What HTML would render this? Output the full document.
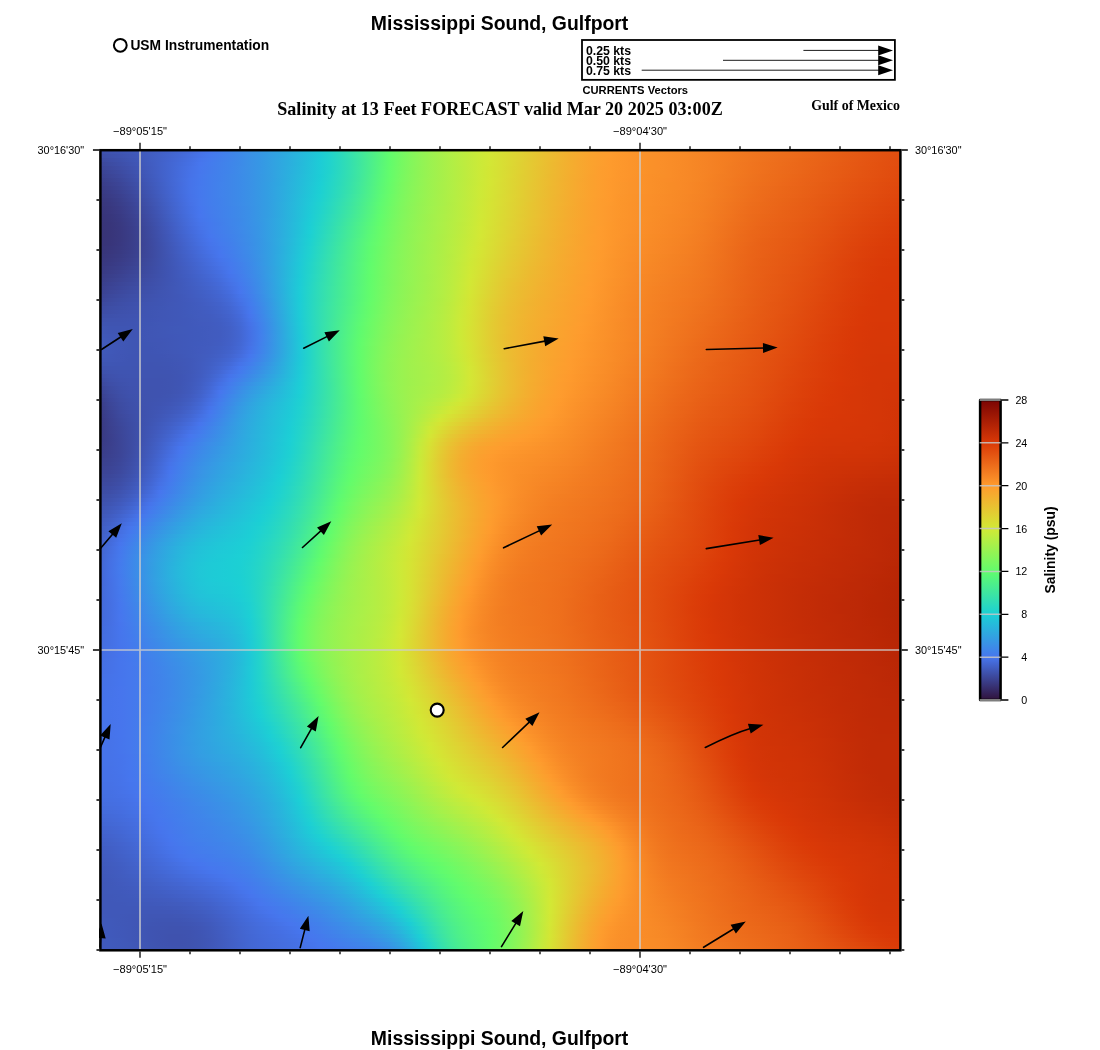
<!DOCTYPE html>
<html lang="en"><head><meta charset="utf-8"><title>Mississippi Sound, Gulfport</title>
<style>
html,body{margin:0;padding:0;background:#fff}
#pg{position:relative;width:1100px;height:1050px;overflow:hidden;background:#fff}
#map{position:absolute;left:100px;top:150px;width:800px;height:800px;overflow:hidden}
#map i{display:block;height:4px}
#ov{position:absolute;left:0;top:0}
</style></head><body><div id="pg">
<div id="map">
<i style="background:linear-gradient(90deg,#3e51ac,#3f53b0,#3f55b4,#4058b8,#405abc,#415dc1,#4260c7,#4364cd,#4468d5,#456cdd,#4672e7,#4677ed,#437dec,#4083ea,#3d8ae8,#3a91e6,#3697e5,#339fe3,#2fa6e0,#2baede,#27b7dc,#22c1d9,#1dcbd6,#21d3cc,#2bd9be,#35e0ae,#40e79e,#4bee8d,#57f57c,#62fc6c,#72f964,#81f75c,#8ff456,#9bf250,#a6f04a,#b0ef45,#b9ed41,#c2eb3c,#cbea38,#d3e735,#d6e134,#dada33,#dfd333,#e3cb32,#e7c431,#ebbc31,#efb530,#f3af2f,#f7a92f,#faa42e,#fc9f2e,#fe9c2e,#fd992c,#fc962b,#fb942a,#fa922a,#fa8f29,#f98d28,#f88b27,#f78826,#f68525,#f58224,#f47f22,#f37c21,#f27920,#f0761f,#ef741e,#ef711d,#ee6f1c,#ed6c1b,#ec6a1a,#eb6719,#ea6418,#e96117,#e75e15,#e65b14,#e55813,#e45512,#e35311,#e35010,#e24f0f)"></i>
<i style="background:linear-gradient(90deg,#3e4ea7,#3e51ab,#3f53b0,#4056b5,#4059bb,#415dc1,#4261c8,#4365cf,#4469d7,#456ee0,#4673e9,#4579ed,#437eec,#4084ea,#3d8ae8,#3a91e6,#3697e5,#339fe3,#2fa6e0,#2bafde,#27b8dc,#22c1d9,#1dcbd6,#21d3cd,#2ad9be,#35e0af,#40e79f,#4bee8d,#56f57c,#62fc6c,#72f964,#81f75c,#8ff456,#9bf250,#a6f04b,#b0ef46,#b9ed41,#c2eb3c,#cbea38,#d3e735,#d7e034,#dbd933,#dfd233,#e3cb32,#e7c331,#ecbc31,#f0b530,#f3ae2f,#f7a92f,#faa32e,#fc9f2e,#fe9c2e,#fd982c,#fc962b,#fb932a,#fa912a,#fa8f29,#f98d28,#f88b27,#f78826,#f68525,#f58224,#f47f22,#f37c21,#f17920,#f0761f,#ef731e,#ee711d,#ed6e1c,#ed6c1b,#ec691a,#eb6619,#e96318,#e86016,#e75d15,#e65a14,#e55813,#e45512,#e35211,#e25010,#e24e0f)"></i>
<i style="background:linear-gradient(90deg,#3d4ba1,#3e4ea7,#3e51ac,#3f55b3,#4058b9,#415dc1,#4261c8,#4365d1,#446ad9,#456fe2,#4675ec,#457aed,#427feb,#4084ea,#3d8ae8,#3a91e6,#3697e5,#339fe2,#2fa7e0,#2bafde,#27b8db,#22c1d9,#1dccd6,#21d3cd,#2ad9bf,#34dfb0,#3fe69f,#4bee8e,#56f57c,#62fc6c,#73f963,#82f75c,#8ff456,#9bf250,#a5f04b,#afef46,#b9ed41,#c2eb3d,#cbea38,#d3e735,#d7e034,#dbd933,#dfd233,#e3ca32,#e8c331,#ecbc30,#f0b530,#f3ae2f,#f7a82f,#faa32e,#fc9f2e,#fe9b2d,#fd982c,#fc952b,#fb932a,#fa9129,#fa8f29,#f98d28,#f88b27,#f78826,#f68525,#f58224,#f47f22,#f37c21,#f17920,#f0761f,#ef731e,#ee701d,#ed6d1c,#ec6b1b,#eb6819,#ea6518,#e96317,#e86016,#e75d15,#e65a14,#e55713,#e45412,#e35211,#e24f10,#e14d0f)"></i>
<i style="background:linear-gradient(90deg,#3d489c,#3d4ca2,#3e4fa9,#3f53b0,#4057b8,#415cc0,#4261c9,#4366d2,#446bdb,#4570e4,#4776ee,#447bed,#4280eb,#3f85ea,#3d8ae8,#3a91e6,#3697e5,#339fe2,#2fa7e0,#2bafde,#26b8db,#22c2d9,#1dccd6,#21d3cd,#2ad9bf,#34dfb0,#3fe69f,#4bee8e,#57f57c,#62fc6c,#73f963,#82f75c,#8ff456,#9bf250,#a5f04b,#afef46,#b9ed41,#c2eb3d,#cbea38,#d3e735,#d7e034,#dbd933,#dfd133,#e4ca32,#e8c331,#ecbb30,#f0b430,#f4ae2f,#f7a82f,#faa32e,#fc9f2e,#fe9b2d,#fd982c,#fc952b,#fb932a,#fa9129,#fa8f29,#f98d28,#f88b27,#f78826,#f68525,#f58224,#f47f22,#f27c21,#f17820,#f0751f,#ef721d,#ee6f1c,#ed6d1b,#ec6a1a,#eb6719,#ea6518,#e96217,#e85f16,#e75c15,#e65914,#e55613,#e45411,#e35110,#e24f10,#e14d0f)"></i>
<i style="background:linear-gradient(90deg,#3c4698,#3d499e,#3e4da5,#3f51ad,#4056b6,#415bbf,#4261c8,#4366d2,#446cdc,#4671e6,#4677ee,#447bec,#4280eb,#3f85ea,#3d8be8,#3a91e6,#3697e5,#339fe2,#2fa7e0,#2bb0de,#26b9db,#22c2d9,#1dccd6,#21d3cc,#2ad9bf,#34dfb0,#3fe79f,#4bee8d,#57f67c,#63fc6b,#74f963,#83f65c,#8ff455,#9bf250,#a5f04b,#afef46,#b8ed41,#c2eb3d,#cbea38,#d3e634,#d7e034,#dbd833,#dfd132,#e4ca32,#e8c231,#ecbb30,#f0b430,#f4ae2f,#f7a82f,#faa32e,#fc9e2e,#fe9b2d,#fd982c,#fc952b,#fb932a,#fa9129,#fa8f29,#f98d28,#f88b27,#f78826,#f68525,#f58224,#f47f22,#f27b21,#f17820,#f0751e,#ef721d,#ee6f1c,#ed6c1b,#ec691a,#eb6719,#ea6418,#e96117,#e85e16,#e75b14,#e65913,#e45612,#e45311,#e35110,#e24e0f,#e14c0e)"></i>
<i style="background:linear-gradient(90deg,#3b4393,#3c479a,#3d4ba1,#3e50aa,#3f55b3,#415bbd,#4260c8,#4366d2,#456cdd,#4672e7,#4677ed,#447cec,#4181eb,#3f85ea,#3d8be8,#3a91e6,#3698e5,#339fe2,#2fa8e0,#2ab0de,#26b9db,#21c3d8,#1dcdd6,#21d3cc,#2bd9be,#35e0af,#40e79f,#4bee8d,#57f67b,#64fc6b,#74f963,#83f65b,#90f455,#9bf250,#a5f04b,#afef46,#b8ed41,#c2eb3d,#ccea38,#d3e634,#d7df34,#dbd833,#e0d132,#e4c932,#e8c231,#ecbb30,#f0b430,#f4ae2f,#f7a82f,#faa32e,#fd9e2e,#fe9b2d,#fd972c,#fc952b,#fb932a,#fa9129,#f98f29,#f98d28,#f88a27,#f78826,#f68525,#f58224,#f47f22,#f27b21,#f1781f,#f0741e,#ef711d,#ed6e1c,#ec6b1b,#eb691a,#ea6619,#e96317,#e86016,#e75d15,#e65b14,#e55813,#e45512,#e35211,#e25010,#e14d0f,#e14b0e)"></i>
<i style="background:linear-gradient(90deg,#3b4190,#3c4596,#3d499e,#3e4ea7,#3f54b1,#405abc,#4260c7,#4366d2,#456cdd,#4672e8,#4678ed,#437dec,#4181eb,#3f86e9,#3c8be8,#3a91e6,#3698e4,#339fe2,#2fa8e0,#2ab1dd,#26badb,#21c4d8,#1ccdd5,#22d4cb,#2bdabd,#35e0ae,#40e79e,#4cef8c,#58f67a,#64fc6b,#75f962,#84f65b,#90f455,#9bf250,#a5f04b,#afef46,#b8ed41,#c2eb3d,#ccea38,#d3e634,#d7df34,#dcd833,#e0d032,#e4c932,#e8c231,#ecba30,#f0b430,#f4ad2f,#f7a82f,#faa22e,#fd9e2e,#fe9b2d,#fd972c,#fc952b,#fb922a,#fa9029,#f98f28,#f98d28,#f88a27,#f78826,#f68525,#f58223,#f37e22,#f27b21,#f1771f,#ef741e,#ee701d,#ed6d1b,#ec6b1a,#eb6819,#ea6518,#e96217,#e85f16,#e75d15,#e65a14,#e55713,#e45412,#e35211,#e24f10,#e14d0f,#e04a0e)"></i>
<i style="background:linear-gradient(90deg,#3a3f8c,#3b4392,#3c479a,#3d4da4,#3f52af,#4059ba,#425fc6,#4366d2,#456ddd,#4673e9,#4578ed,#437dec,#4181eb,#3f86e9,#3c8be8,#3a91e6,#3698e4,#339fe2,#2ea8e0,#2ab1dd,#25bbdb,#21c4d8,#1cced5,#23d4ca,#2cdabc,#36e0ad,#41e79d,#4def8b,#58f779,#65fc6a,#76f962,#84f65b,#91f455,#9cf24f,#a5f04b,#afef46,#b8ed41,#c2eb3c,#ccea38,#d4e634,#d8df34,#dcd733,#e0d032,#e4c932,#e9c131,#edba30,#f0b330,#f4ad2f,#f7a72f,#faa22e,#fd9e2e,#fe9a2d,#fd972c,#fc942b,#fb922a,#fa9029,#f98e28,#f98c28,#f88a27,#f78826,#f68525,#f58123,#f37e22,#f27a20,#f1761f,#ef731e,#ee701c,#ed6d1b,#ec6a1a,#eb6719,#ea6418,#e96117,#e85f16,#e75c15,#e65913,#e55612,#e45311,#e35110,#e24e0f,#e14c0e,#e04a0d)"></i>
<i style="background:linear-gradient(90deg,#3a3d89,#3b418f,#3c4597,#3d4ba1,#3e51ac,#4058b8,#415fc4,#4366d1,#456cdd,#4673e9,#4578ed,#437dec,#4182eb,#3f86e9,#3c8be8,#3a91e6,#3698e4,#32a0e2,#2ea8e0,#2ab2dd,#25bbdb,#21c5d8,#1ccfd5,#23d5c9,#2cdabb,#36e1ac,#42e89c,#4def8a,#59f778,#66fb6a,#77f861,#85f65a,#91f455,#9cf24f,#a6f04a,#afef46,#b9ed41,#c2eb3c,#ccea37,#d4e634,#d8de34,#dcd733,#e0d032,#e5c832,#e9c131,#edba30,#f1b330,#f4ad2f,#f8a72f,#faa22e,#fd9e2e,#fe9a2d,#fc972c,#fb942b,#fb922a,#fa9029,#f98e28,#f88c27,#f88a27,#f78726,#f68424,#f48123,#f37d22,#f27a20,#f0761f,#ef721d,#ee6f1c,#ed6c1b,#ec691a,#eb6619,#ea6318,#e86117,#e75e15,#e65b14,#e55813,#e45512,#e35211,#e25010,#e14d0f,#e04b0e,#e0490d)"></i>
<i style="background:linear-gradient(90deg,#3a3c85,#3a3f8c,#3b4494,#3d499e,#3e50aa,#4057b6,#415ec3,#4365d0,#446cdd,#4673e9,#4579ed,#437dec,#4182eb,#3f86e9,#3c8be8,#3a91e6,#3698e4,#32a0e2,#2ea9e0,#2ab2dd,#25bcda,#20c6d8,#1cd0d4,#24d5c8,#2ddbba,#37e1ab,#42e99a,#4ef089,#5af777,#67fb69,#78f861,#86f65a,#92f454,#9cf24f,#a6f04a,#afef46,#b9ed41,#c3eb3c,#cdea37,#d4e534,#d8de34,#dcd733,#e1cf32,#e5c832,#e9c131,#edb930,#f1b330,#f4ad2f,#f8a72f,#faa22e,#fd9e2e,#fe9a2d,#fc972c,#fb942b,#fb922a,#fa9029,#f98e28,#f88c27,#f88a27,#f78726,#f68424,#f48123,#f37d22,#f17920,#f0751e,#ef711d,#ed6e1c,#ec6b1b,#eb6819,#ea6518,#e96317,#e86016,#e75d15,#e65a14,#e55713,#e45412,#e35111,#e24f10,#e14c0f,#e04a0e,#df480d)"></i>
<i style="background:linear-gradient(90deg,#393a83,#3a3d89,#3b4291,#3c489b,#3e4ea7,#3f55b4,#415dc1,#4364cf,#446cdc,#4673e8,#4578ed,#437dec,#4182eb,#3f86e9,#3c8be8,#3a91e6,#3698e4,#32a0e2,#2ea9e0,#29b2dd,#25bcda,#20c6d7,#1cd0d3,#25d6c6,#2edcb8,#38e2a9,#43e999,#4ff187,#5bf876,#68fb69,#79f861,#86f65a,#92f454,#9df24f,#a6f04a,#b0ef46,#b9ed41,#c3eb3c,#cdea37,#d4e534,#d8de34,#dcd633,#e1cf32,#e5c732,#e9c031,#edb930,#f1b330,#f5ac2f,#f8a72f,#fba22e,#fd9e2e,#fe9a2d,#fc972c,#fb942b,#fb922a,#fa9029,#f98e28,#f88c27,#f78926,#f78725,#f58424,#f48023,#f37c21,#f17820,#f0741e,#ee711d,#ed6d1b,#ec6a1a,#eb6719,#ea6518,#e96217,#e85f16,#e75c15,#e65914,#e55612,#e45311,#e35010,#e24e0f,#e14b0e,#e0490d,#df470c)"></i>
<i style="background:linear-gradient(90deg,#393980,#3a3c86,#3b408e,#3c4698,#3e4da4,#3f54b2,#415cbf,#4364cd,#446bdb,#4672e8,#4578ed,#437dec,#4182eb,#3f86e9,#3c8be8,#3a91e6,#3698e4,#32a0e2,#2ea9e0,#29b3dd,#24bdda,#1fc7d7,#1dd1d2,#26d6c5,#2fdcb7,#3ae3a8,#45ea97,#50f186,#5cf975,#6afb68,#7af860,#87f659,#93f454,#9df24f,#a7f04a,#b0ef45,#b9ed41,#c3eb3c,#cdea37,#d4e534,#d8dd34,#ddd633,#e1cf32,#e5c732,#e9c031,#edb930,#f1b230,#f5ac2f,#f8a72f,#fba22e,#fd9e2e,#fe9a2d,#fc962c,#fb942a,#fa912a,#fa8f29,#f98d28,#f88b27,#f78926,#f68625,#f58324,#f48023,#f27c21,#f1781f,#ef741e,#ee701c,#ed6c1b,#ec691a,#eb6619,#ea6418,#e96117,#e85e16,#e65b14,#e55813,#e45512,#e35211,#e24f10,#e14d0f,#e04a0e,#df480d,#df460c)"></i>
<i style="background:linear-gradient(90deg,#39387e,#393a83,#3a3f8b,#3c4596,#3d4ba2,#3f53af,#415bbd,#4263cc,#446ada,#4672e7,#4678ed,#437dec,#4181eb,#3f86e9,#3c8be8,#3a91e6,#3698e4,#32a0e2,#2ea9e0,#29b3dd,#24beda,#1fc8d7,#1ed1d1,#27d7c3,#31ddb5,#3be4a6,#46eb95,#51f284,#5df973,#6bfb67,#7bf860,#88f659,#93f453,#9ef24e,#a7f04a,#b0ef45,#baed41,#c3eb3c,#cee937,#d4e434,#d9dd34,#ddd633,#e1ce32,#e5c732,#eabf31,#eeb830,#f1b230,#f5ac2f,#f8a62f,#fba22e,#fd9d2e,#fe9a2d,#fc962b,#fb942a,#fa9129,#fa8f29,#f98d28,#f88b27,#f78926,#f68625,#f58324,#f47f22,#f27b21,#f1771f,#ef731e,#ee6f1c,#ed6c1b,#eb681a,#ea6618,#e96317,#e86016,#e75d15,#e65a14,#e55713,#e45412,#e35110,#e24e0f,#e14c0e,#e0490d,#df470c,#de450c)"></i>
<i style="background:linear-gradient(90deg,#39377c,#393981,#3a3e89,#3b4393,#3d4aa0,#3f52ad,#405abb,#4262ca,#446ad8,#4671e6,#4678ed,#437dec,#4181eb,#3f86e9,#3d8be8,#3a91e6,#3698e4,#32a0e2,#2eaadf,#29b4dd,#24beda,#1fc9d7,#1fd2cf,#28d8c2,#32deb3,#3ce4a4,#47eb93,#52f382,#5efa72,#6cfa67,#7cf85f,#89f559,#94f353,#9ef24e,#a7f04a,#b0ee45,#baed40,#c4eb3c,#cee937,#d5e434,#d9dd34,#ddd533,#e1ce32,#e6c631,#eabf31,#eeb830,#f2b230,#f5ac2f,#f8a62e,#fba12e,#fd9d2e,#fd9a2d,#fc962b,#fb932a,#fa9129,#fa8f29,#f98d28,#f88b27,#f78826,#f68525,#f58224,#f37f22,#f27a21,#f0761f,#ef721d,#ed6e1c,#ec6b1a,#eb6819,#ea6518,#e96217,#e85f16,#e75c15,#e65914,#e55612,#e45311,#e25010,#e14d0f,#e04b0e,#df480d,#df460c,#de440b)"></i>
<i style="background:linear-gradient(90deg,#38367b,#39387f,#3a3c87,#3b4291,#3d499d,#3e50ab,#4059b9,#4261c8,#4469d7,#4570e4,#4677ee,#447cec,#4181eb,#3f85ea,#3d8ae8,#3a90e6,#3698e4,#32a0e2,#2eaadf,#29b4dd,#23bfda,#1ecad6,#20d2ce,#29d8c0,#33dfb1,#3de5a2,#48ec91,#54f381,#5ffa70,#6efa66,#7df75f,#8af558,#95f353,#9ff24e,#a8f049,#b1ee45,#baed40,#c4eb3b,#cfe936,#d5e434,#d9dc34,#ddd533,#e2cd32,#e6c631,#eabf31,#eeb830,#f2b130,#f5ab2f,#f8a62e,#fba12e,#fd9d2e,#fd992d,#fc962b,#fb932a,#fa9129,#f98f28,#f98c28,#f88a27,#f78826,#f68525,#f58223,#f37e22,#f27a20,#f0751f,#ef711d,#ed6d1b,#ec6a1a,#eb6719,#ea6418,#e96117,#e85e16,#e75c14,#e55813,#e45512,#e35211,#e24f10,#e14c0f,#e04a0d,#df470c,#de450c,#de430b)"></i>
<i style="background:linear-gradient(90deg,#38357a,#39377e,#3a3b85,#3b418f,#3c489b,#3e4fa9,#4057b7,#4260c6,#4468d5,#4570e3,#4676ee,#447cec,#4280eb,#3f85ea,#3d8ae8,#3a90e7,#3698e4,#32a0e2,#2daadf,#28b5dc,#23c0d9,#1ecbd6,#21d3cd,#2ad9be,#34e0af,#3fe6a0,#4aed8f,#55f47f,#60fb6f,#6ffa65,#7ef75e,#8af558,#95f353,#9ff24e,#a8f049,#b1ee45,#bbed40,#c5eb3b,#cfe936,#d5e334,#d9dc33,#ded433,#e2cd32,#e6c531,#eabe31,#eeb730,#f2b12f,#f5ab2f,#f8a62e,#fba12e,#fd9d2e,#fd992d,#fc962b,#fb932a,#fa9029,#f98e28,#f88c27,#f88a27,#f78726,#f68424,#f48123,#f37d22,#f17920,#f0751e,#ee701d,#ed6c1b,#ec691a,#ea6619,#e96317,#e86016,#e75e15,#e65b14,#e55813,#e45412,#e35110,#e24e0f,#e14b0e,#e0480d,#df460c,#de440b,#dd420b)"></i>
<i style="background:linear-gradient(90deg,#383479,#38367c,#393a83,#3b408d,#3c4699,#3e4ea7,#4056b5,#415fc4,#4367d3,#456fe1,#4776ee,#447bec,#4280eb,#3f85ea,#3d8ae8,#3a90e7,#3698e4,#32a0e2,#2daadf,#28b5dc,#23c0d9,#1dccd6,#22d4cb,#2cdabc,#36e0ad,#40e79e,#4bee8d,#56f57d,#61fc6d,#70fa65,#7ff75e,#8bf558,#96f352,#a0f14d,#a9f049,#b2ee45,#bbed40,#c5eb3b,#d0e936,#d5e334,#dadb33,#ded433,#e2cc32,#e6c531,#ebbe31,#eeb730,#f2b12f,#f5ab2f,#f8a62e,#fba12e,#fd9d2e,#fd992d,#fc962b,#fb932a,#fa9029,#f98e28,#f88c27,#f78926,#f78725,#f58424,#f48123,#f37d21,#f17820,#f0741e,#ee6f1c,#ec6b1b,#eb6819,#ea6518,#e96217,#e86016,#e75d15,#e65a14,#e55713,#e45311,#e25010,#e14d0f,#e04a0e,#df470d,#de450c,#dd430b,#dd410a)"></i>
<i style="background:linear-gradient(90deg,#383478,#38367b,#393982,#3a3f8b,#3c4597,#3e4da5,#3f55b3,#415ec2,#4366d1,#456edf,#4675ec,#447aed,#427feb,#4084ea,#3d89e8,#3a90e7,#3698e4,#32a1e2,#2dabdf,#28b5dc,#22c1d9,#1dcdd6,#23d4ca,#2ddbbb,#37e1ab,#42e89b,#4cef8b,#57f67b,#62fc6c,#72f964,#80f75d,#8cf557,#96f352,#a0f14d,#a9f049,#b2ee44,#bced40,#c6eb3b,#d0e935,#d6e234,#dadb33,#ded333,#e3cc32,#e7c431,#ebbd31,#efb630,#f2b02f,#f6aa2f,#f9a52e,#fba12e,#fd9d2e,#fd992d,#fc952b,#fb932a,#fa9029,#f98e28,#f88b27,#f78926,#f68625,#f58324,#f48023,#f37c21,#f1781f,#ef731e,#ee6f1c,#ec6b1a,#eb6719,#ea6418,#e96117,#e85f16,#e75c15,#e65913,#e45612,#e35311,#e24f10,#e14c0e,#e0490d,#df460c,#de440b,#dd420a,#dd400a)"></i>
<i style="background:linear-gradient(90deg,#383477,#38357a,#393980,#3a3e8a,#3c4596,#3d4ca3,#3f54b2,#415cc1,#4365cf,#456dde,#4674ea,#4579ed,#427eeb,#4084ea,#3d89e9,#3a90e7,#3697e5,#32a1e2,#2dabdf,#28b6dc,#22c2d9,#1cced5,#24d5c8,#2edbb9,#38e2a9,#43e999,#4ef089,#58f779,#63fc6b,#73f963,#81f75d,#8df557,#97f352,#a1f14d,#aaf049,#b3ee44,#bcec3f,#c6eb3a,#d1e935,#d6e234,#dada33,#dfd333,#e3cb32,#e7c431,#ebbd31,#efb630,#f3b02f,#f6aa2f,#f9a52e,#fba12e,#fd9d2e,#fd992c,#fc952b,#fb922a,#fa9029,#f98d28,#f88b27,#f78826,#f68625,#f58324,#f47f23,#f27b21,#f1771f,#ef721d,#ed6e1c,#ec6a1a,#eb6619,#e96318,#e86116,#e75e15,#e65b14,#e55813,#e45512,#e35211,#e24e0f,#e14b0e,#df480d,#de450c,#dd430b,#dd410a,#dc3f0a)"></i>
<i style="background:linear-gradient(90deg,#383477,#38357a,#393880,#3a3d89,#3b4494,#3d4ba1,#3f53b0,#415bbf,#4364cd,#446bdc,#4673e8,#4579ed,#437eec,#4083ea,#3e89e9,#3a8fe7,#3697e5,#32a1e2,#2dabdf,#28b6dc,#22c2d9,#1ccfd5,#25d6c7,#2fdcb7,#3ae3a7,#44ea97,#4ff187,#5af778,#65fc6a,#74f963,#82f75c,#8df556,#98f351,#a1f14d,#aaf048,#b3ee44,#bdec3f,#c7eb3a,#d2e935,#d6e134,#dbda33,#dfd233,#e3cb32,#e7c331,#ebbc31,#efb630,#f3af2f,#f6aa2f,#f9a52e,#fba02e,#fe9d2e,#fd992c,#fc952b,#fb922a,#fa8f29,#f98d28,#f88a27,#f78826,#f68525,#f58224,#f47f22,#f27b21,#f0761f,#ef711d,#ed6d1b,#ec691a,#ea6518,#e96217,#e86016,#e75d15,#e65a14,#e55713,#e45412,#e35110,#e14d0f,#e04a0e,#df470c,#de440b,#dd420a,#dc400a,#dc3f09)"></i>
<i style="background:linear-gradient(90deg,#383477,#383579,#39387f,#3a3d88,#3b4393,#3d4aa0,#3f52ae,#415abd,#4263cc,#446ada,#4671e6,#4678ed,#437dec,#4182ea,#3e88e9,#3b8fe7,#3797e5,#32a1e2,#2dabdf,#27b7dc,#21c3d8,#1cd0d5,#26d6c5,#30ddb5,#3be4a5,#46eb95,#50f185,#5bf876,#67fb69,#75f962,#82f65c,#8ef456,#98f351,#a1f14d,#aaf048,#b4ee44,#bdec3f,#c8ea3a,#d2e835,#d7e134,#dbd933,#dfd133,#e4ca32,#e8c331,#ecbc30,#f0b530,#f3af2f,#f6aa2f,#f9a52e,#fba02e,#fe9c2e,#fd982c,#fc952b,#fb922a,#fa8f29,#f98c28,#f88a27,#f78726,#f68525,#f58223,#f37e22,#f27a20,#f0751f,#ee711d,#ed6c1b,#eb6819,#ea6518,#e96217,#e85f16,#e75c15,#e65a14,#e55613,#e45311,#e25010,#e14c0f,#e0490d,#df460c,#de430b,#dd410a,#dc3f09,#dc3e09)"></i>
<i style="background:linear-gradient(90deg,#383477,#383579,#39387f,#3a3d87,#3b4392,#3d4a9f,#3f51ad,#4059bb,#4261ca,#4469d7,#4570e4,#4677ee,#447cec,#4181eb,#3e87e9,#3b8ee7,#3797e5,#32a1e2,#2dabdf,#27b7dc,#21c4d8,#1cd0d3,#27d7c4,#32deb4,#3ce5a4,#47eb94,#51f284,#5cf974,#68fb69,#76f962,#83f65b,#8ff456,#99f351,#a2f14c,#abef48,#b4ee43,#beec3e,#c8ea39,#d3e835,#d7e034,#dbd833,#e0d132,#e4c932,#e8c231,#ecbb30,#f0b530,#f3af2f,#f6a92f,#f9a42e,#fca02e,#fe9c2e,#fd982c,#fc952b,#fa912a,#f98f28,#f88c27,#f88926,#f78725,#f68424,#f48123,#f37d22,#f27920,#f0751e,#ee701d,#ec6b1b,#eb6719,#ea6418,#e96117,#e85e16,#e75c15,#e65913,#e45612,#e35211,#e24f10,#e14b0e,#df480d,#de450c,#dd420b,#dc400a,#dc3e09,#db3d09)"></i>
<i style="background:linear-gradient(90deg,#383478,#38357a,#39387f,#3a3d87,#3b4392,#3d499e,#3e51ac,#4059ba,#4260c8,#4468d5,#456fe2,#4775ed,#447bed,#4180eb,#3f87e9,#3b8ee7,#3796e5,#32a1e2,#2dacdf,#27b8dc,#21c5d8,#1dd1d2,#28d7c2,#33deb2,#3de5a2,#48ec92,#53f382,#5df973,#69fb68,#77f861,#84f65b,#8ff455,#99f351,#a2f14c,#abef48,#b5ee43,#bfec3e,#c9ea39,#d3e735,#d7df34,#dcd833,#e0d032,#e4c832,#e9c131,#ecba30,#f0b430,#f3ae2f,#f7a92f,#f9a42e,#fca02e,#fe9c2e,#fd982c,#fc942b,#fa9129,#f98e28,#f88b27,#f78926,#f68625,#f58424,#f48023,#f37d22,#f17920,#f0741e,#ee6f1c,#ec6b1a,#eb6719,#e96317,#e86016,#e75d15,#e65b14,#e55813,#e45512,#e35111,#e24e0f,#e04a0e,#df470d,#de440b,#dd410a,#dc3f09,#db3d09,#db3c08)"></i>
<i style="background:linear-gradient(90deg,#383478,#38357a,#393880,#3a3d88,#3b4292,#3d499e,#3e50ab,#4058b8,#425fc6,#4367d3,#456ee0,#4674eb,#457aed,#427feb,#3f86e9,#3b8de7,#3796e5,#32a0e2,#2dacdf,#27b8db,#20c5d8,#1ed1d1,#29d8c1,#34dfb1,#3ee6a0,#49ed90,#54f381,#5efa72,#6afb68,#78f861,#85f65b,#90f455,#9af250,#a3f14c,#acef47,#b5ee43,#bfec3e,#caea39,#d3e634,#d8df34,#dcd733,#e1cf32,#e5c832,#e9c131,#edba30,#f0b330,#f4ae2f,#f7a92f,#f9a42e,#fca02e,#fe9c2e,#fd982c,#fb942b,#fa9129,#f98e28,#f88b27,#f78826,#f68625,#f58324,#f48023,#f37c21,#f17820,#ef731e,#ee6f1c,#ec6a1a,#ea6619,#e96217,#e85f16,#e75d15,#e65a14,#e55713,#e45412,#e35110,#e14d0f,#e04a0d,#df460c,#de430b,#dd400a,#dc3e09,#db3d08,#db3c08)"></i>
<i style="background:linear-gradient(90deg,#383579,#38367c,#393981,#3a3d88,#3b4392,#3d499d,#3e50aa,#4057b7,#415ec4,#4366d1,#456cdd,#4673e9,#4578ed,#437eec,#3f85ea,#3c8de8,#3796e5,#32a0e2,#2cacdf,#26b9db,#20c6d8,#1fd2d0,#2ad9bf,#35e0af,#3fe79f,#4aed8f,#54f47f,#5efa70,#6bfa67,#79f860,#86f65a,#90f455,#9af250,#a3f14c,#acef47,#b6ee43,#c0ec3e,#cbea38,#d4e634,#d8de34,#ddd633,#e1ce32,#e5c732,#e9c031,#edb930,#f1b330,#f4ad2f,#f7a82f,#faa42e,#fc9f2e,#fe9c2e,#fd972c,#fb942a,#fa9029,#f98d28,#f88a27,#f78826,#f68525,#f58224,#f47f22,#f27c21,#f1771f,#ef731e,#ed6e1c,#ec691a,#ea6518,#e96217,#e85f16,#e75c15,#e65914,#e55713,#e45311,#e25010,#e14c0f,#e0490d,#de450c,#dd420b,#dc3f0a,#db3d09,#db3c08,#db3b08)"></i>
<i style="background:linear-gradient(90deg,#38357a,#39377d,#393a82,#3a3e8a,#3b4393,#3d499e,#3e50a9,#4057b6,#415ec3,#4364cf,#446bdb,#4671e6,#4677ee,#437dec,#4084ea,#3c8ce8,#3795e5,#32a0e2,#2cacdf,#26b9db,#20c7d7,#20d2cf,#2ad9be,#35e0ae,#40e79d,#4bee8e,#55f57e,#5ffb6f,#6cfa67,#7af860,#86f65a,#91f455,#9af250,#a3f14c,#acef47,#b6ee42,#c0ec3d,#ccea38,#d4e534,#d9dd34,#ddd533,#e2cd32,#e6c631,#eabf31,#eeb830,#f1b230,#f4ad2f,#f7a82f,#faa32e,#fc9f2e,#fe9b2d,#fd972c,#fb932a,#fa9029,#f98d28,#f88a27,#f78726,#f68525,#f58223,#f47f22,#f27b21,#f1771f,#ef721d,#ed6d1c,#ec691a,#ea6518,#e96117,#e85e16,#e75b14,#e65913,#e55612,#e35311,#e24f10,#e14c0e,#df480d,#de450c,#dd410a,#dc3f09,#db3d08,#db3b08,#db3b08)"></i>
<i style="background:linear-gradient(90deg,#38367c,#39387f,#393b84,#3a3f8b,#3b4494,#3d499e,#3e50a9,#4056b5,#415dc1,#4363cd,#446ad8,#4570e3,#4776ee,#447cec,#4083ea,#3c8be8,#3895e5,#32a0e2,#2caddf,#26badb,#1fc8d7,#20d3ce,#2bdabd,#36e1ad,#41e89c,#4cee8d,#56f57d,#60fb6f,#6dfa66,#7bf860,#87f65a,#91f455,#9bf250,#a4f14b,#adef47,#b6ed42,#c1ec3d,#cdea37,#d5e434,#d9dc34,#ded433,#e2cc32,#e6c531,#eabe31,#eeb830,#f1b230,#f5ac2f,#f7a72f,#faa32e,#fc9f2e,#fe9b2d,#fc972c,#fb932a,#fa8f29,#f98c28,#f78926,#f68725,#f58424,#f48123,#f37e22,#f27a21,#f0761f,#ef721d,#ed6d1b,#eb681a,#ea6418,#e96117,#e75e15,#e65b14,#e55813,#e45512,#e35211,#e24e0f,#e04b0e,#df470d,#de440b,#dd410a,#dc3e09,#db3c08,#db3b08,#da3a08)"></i>
<i style="background:linear-gradient(90deg,#39377d,#393981,#3a3c86,#3b408d,#3c4596,#3d4a9f,#3e50aa,#3f56b4,#415cc0,#4262cb,#4468d6,#456ee0,#4674eb,#447aed,#4182eb,#3d8ae8,#3894e5,#32a0e2,#2caddf,#26badb,#1fc9d7,#21d3cc,#2cdabc,#37e1ab,#42e89b,#4cef8c,#56f57c,#60fb6e,#6efa66,#7bf85f,#87f659,#92f454,#9bf250,#a4f14b,#adef47,#b7ed42,#c2ec3d,#cde937,#d5e334,#dadb33,#ded333,#e3cb32,#e7c431,#ebbd31,#eeb730,#f2b130,#f5ac2f,#f8a72f,#faa32e,#fc9f2e,#fe9b2d,#fc962b,#fb922a,#fa8f29,#f88c27,#f78926,#f68625,#f58324,#f48123,#f37d22,#f27a20,#f0761f,#ef711d,#ed6d1b,#eb6819,#ea6418,#e86016,#e75d15,#e65a14,#e55813,#e45512,#e35110,#e24e0f,#e04a0e,#df460c,#de430b,#dc400a,#db3d09,#db3b08,#da3a07,#da3a07)"></i>
<i style="background:linear-gradient(90deg,#39387f,#393a83,#3a3d89,#3b418f,#3c4697,#3d4ba0,#3e50aa,#3f56b4,#415bbf,#4261c9,#4367d3,#456dde,#4673e8,#4579ed,#4280eb,#3d89e9,#3894e6,#32a0e2,#2caddf,#25bbdb,#1ec9d7,#22d4cb,#2ddbbb,#38e2aa,#42e89a,#4def8b,#57f67c,#60fc6d,#6efa66,#7cf85f,#87f659,#92f454,#9bf250,#a4f14b,#adef47,#b7ed42,#c2eb3c,#cee936,#d5e334,#dada33,#dfd233,#e4ca32,#e8c331,#ebbc31,#efb630,#f2b12f,#f5ab2f,#f8a72f,#faa22e,#fd9e2e,#fe9a2d,#fc962b,#fb922a,#f98e28,#f88b27,#f78826,#f68525,#f58324,#f48023,#f37d22,#f27920,#f0751f,#ee711d,#ed6c1b,#eb6819,#ea6318,#e86016,#e75d15,#e65a14,#e55713,#e45412,#e35110,#e14d0f,#e0490d,#df460c,#dd420b,#dc3f09,#db3d08,#db3b08,#da3a07,#da3a07)"></i>
<i style="background:linear-gradient(90deg,#393981,#3a3c86,#3a3f8b,#3b4392,#3c4799,#3d4ba2,#3e50ab,#3f55b4,#415bbd,#4260c7,#4366d1,#446bdb,#4671e5,#4678ed,#427feb,#3e88e9,#3993e6,#339fe2,#2cadde,#25bbda,#1ecad6,#22d4ca,#2ddbba,#38e2aa,#43e99a,#4def8a,#57f67b,#61fc6d,#6ffa65,#7cf85f,#88f659,#92f454,#9cf24f,#a4f14b,#aeef47,#b8ed42,#c3eb3c,#cfe936,#d6e234,#dbd933,#e0d132,#e4c932,#e8c231,#ecbb30,#efb530,#f2b02f,#f5ab2f,#f8a62e,#faa22e,#fd9e2e,#fe9a2d,#fc962b,#fa922a,#f98e28,#f88a27,#f78726,#f68525,#f58224,#f47f22,#f37c21,#f17920,#f0751e,#ee701d,#ed6c1b,#eb6719,#e96317,#e85f16,#e75c15,#e65914,#e55613,#e45311,#e25010,#e14c0f,#e0490d,#de450c,#dd420a,#dc3f09,#db3c08,#da3a08,#da3907,#da3907)"></i>
<i style="background:linear-gradient(90deg,#393a83,#3a3d88,#3b408e,#3c4495,#3c489c,#3d4ca3,#3e51ab,#3f55b4,#405abd,#425fc5,#4364cf,#446ad8,#456fe2,#4676ee,#437eec,#3e87e9,#3992e6,#339fe2,#2cadde,#25bcda,#1ecbd6,#23d4c9,#2edbb9,#39e2a9,#43e999,#4df08a,#57f67b,#61fc6d,#6ffa65,#7cf85f,#88f559,#93f454,#9cf24f,#a5f14b,#aeef46,#b8ed41,#c4eb3c,#d0e935,#d6e134,#dcd833,#e0cf32,#e5c832,#e9c131,#ecba30,#f0b530,#f3af2f,#f6aa2f,#f8a62e,#fba22e,#fd9e2e,#fd992d,#fc952b,#fa9129,#f98d28,#f88a27,#f78725,#f68424,#f58123,#f47f22,#f27c21,#f17820,#f0741e,#ee701c,#ec6b1b,#eb6719,#e96317,#e85f16,#e75c15,#e65913,#e55612,#e35311,#e24f10,#e14c0e,#df480d,#de440b,#dd410a,#dc3e09,#db3c08,#da3a07,#da3907,#da3907)"></i>
<i style="background:linear-gradient(90deg,#3a3c86,#3a3f8b,#3b4291,#3c4698,#3d499e,#3e4da5,#3e51ac,#3f55b4,#405abc,#415ec4,#4263cc,#4468d5,#456edf,#4674ec,#447cec,#3f86ea,#3991e6,#339fe3,#2cadde,#25bcda,#1dcbd6,#24d5c9,#2fdcb8,#39e3a8,#44e998,#4ef089,#58f67a,#61fc6c,#6ffa65,#7df75f,#89f559,#93f454,#9cf24f,#a5f04b,#aeef46,#b9ed41,#c4eb3b,#d1e935,#d7e034,#dcd733,#e1ce32,#e6c732,#e9c031,#edb930,#f0b430,#f3af2f,#f6aa2f,#f9a52e,#fba12e,#fd9d2e,#fd992d,#fc952b,#fa9129,#f98d28,#f78926,#f68625,#f58324,#f48123,#f37e22,#f27b21,#f1781f,#f0741e,#ee6f1c,#ec6b1a,#eb6619,#e96217,#e85f16,#e75b14,#e55813,#e45512,#e35211,#e24f0f,#e14b0e,#df470d,#de440b,#dd410a,#dc3e09,#db3b08,#da3a07,#da3907,#da3907)"></i>
<i style="background:linear-gradient(90deg,#3a3d88,#3b418e,#3c4494,#3c479a,#3d4ba1,#3e4ea7,#3f52ad,#3f55b4,#4059bb,#415dc2,#4262ca,#4366d3,#446cdc,#4673e8,#447bed,#4084ea,#3a90e7,#339ee3,#2caddf,#25bdda,#1dccd6,#24d5c8,#2fdcb7,#3ae3a7,#44ea98,#4ef089,#58f67a,#61fc6c,#70fa65,#7df75e,#89f559,#93f454,#9cf24f,#a5f04b,#afef46,#b9ed41,#c5eb3b,#d2e835,#d7df34,#ddd633,#e2cd32,#e6c531,#eabf31,#eeb830,#f1b330,#f4ae2f,#f6a92f,#f9a52e,#fba12e,#fd9d2e,#fd992c,#fb942b,#fa9029,#f98c28,#f78926,#f68625,#f58324,#f48023,#f37d22,#f27a21,#f1771f,#ef731e,#ee6f1c,#ec6a1a,#ea6619,#e96217,#e85e16,#e65b14,#e55813,#e45512,#e35211,#e24e0f,#e04a0e,#df470c,#de430b,#dc400a,#db3d09,#db3b08,#da3907,#da3907,#da3907)"></i>
<i style="background:linear-gradient(90deg,#3a3f8b,#3b4292,#3c4698,#3d499d,#3d4ca3,#3e4fa9,#3f52ae,#3f56b4,#4059ba,#415dc1,#4261c8,#4365d0,#446ad9,#4671e5,#4579ed,#4083ea,#3a8fe7,#349de3,#2caddf,#24bdda,#1dccd6,#25d5c7,#30ddb6,#3ae3a7,#44ea97,#4ef088,#58f67a,#62fc6c,#70fa65,#7df75e,#89f558,#93f453,#9df24f,#a6f04b,#afef46,#b9ed41,#c6eb3b,#d2e835,#d8de34,#ddd533,#e2cc32,#e7c431,#ebbd31,#eeb830,#f1b230,#f4ad2f,#f7a92f,#f9a52e,#fba02e,#fe9d2e,#fd982c,#fb942a,#fa9029,#f88c27,#f78826,#f68525,#f58224,#f47f23,#f37d21,#f27a20,#f1761f,#ef731e,#ee6e1c,#ec6a1a,#ea6618,#e96217,#e85e15,#e65b14,#e55813,#e45412,#e35110,#e14e0f,#e04a0e,#df460c,#dd430b,#dc3f0a,#db3d08,#da3a08,#da3907,#da3807,#da3907)"></i>
<i style="background:linear-gradient(90deg,#3b408e,#3c4495,#3c479b,#3d4ba0,#3e4da6,#3e50ab,#3f53af,#4056b5,#4059ba,#415cc0,#4260c6,#4364cd,#4469d6,#456fe2,#4677ed,#4181eb,#3b8ee7,#349de3,#2cacdf,#24bdda,#1dcdd6,#25d6c6,#30ddb6,#3be4a6,#45ea97,#4ff088,#58f779,#62fc6c,#71fa65,#7ef75e,#8af558,#94f353,#9df24f,#a6f04a,#afef46,#baed41,#c6eb3a,#d3e735,#d8dd34,#ded433,#e3cb32,#e7c331,#ebbc31,#efb730,#f2b130,#f4ad2f,#f7a82f,#f9a42e,#fca02e,#fe9c2e,#fd982c,#fb932a,#fa8f29,#f88b27,#f78826,#f68424,#f58123,#f47f22,#f37c21,#f27920,#f0761f,#ef721d,#ed6e1c,#ec6a1a,#ea6518,#e96117,#e75e15,#e65a14,#e55713,#e45411,#e35010,#e14d0f,#e0490d,#df460c,#dd420b,#dc3f09,#db3c08,#da3a07,#da3907,#d93807,#da3907)"></i>
<i style="background:linear-gradient(90deg,#3b4292,#3c4698,#3d499e,#3d4ca3,#3e4fa8,#3e51ac,#3f54b1,#4056b5,#4059ba,#415bbf,#415fc4,#4262cb,#4367d3,#456ddf,#4776ee,#4280eb,#3c8de8,#349ce3,#2cacdf,#24bdda,#1dcdd6,#25d6c6,#31ddb5,#3be4a5,#45ea96,#4ff188,#59f779,#63fc6b,#71f964,#7ef75e,#8af558,#94f353,#9df24f,#a6f04a,#b0ef46,#baed40,#c7eb3a,#d3e734,#d9dd34,#ded333,#e4ca32,#e8c231,#ecbb30,#efb630,#f2b12f,#f5ac2f,#f7a82f,#f9a42e,#fca02e,#fe9c2e,#fd972c,#fb932a,#f98f28,#f88b27,#f78726,#f58424,#f48123,#f37e22,#f27b21,#f17820,#f0751f,#ef721d,#ed6d1b,#ec691a,#ea6518,#e96117,#e75d15,#e65a14,#e55713,#e45311,#e25010,#e14c0f,#e0490d,#de450c,#dd420a,#dc3e09,#db3c08,#da3a07,#da3807,#d93807,#da3907)"></i>
<i style="background:linear-gradient(90deg,#3c4495,#3c489c,#3d4ba1,#3e4ea6,#3e50aa,#3f52ae,#3f54b2,#4056b5,#4058b9,#415bbe,#415ec3,#4261c9,#4365d1,#446bdb,#4674ea,#437eec,#3c8be8,#359be4,#2dabdf,#25bdda,#1ccdd6,#26d6c5,#31ddb5,#3be4a5,#45ea96,#4ff187,#59f778,#63fc6b,#72f964,#7ff75d,#8bf558,#95f353,#9ef24e,#a7f04a,#b0ef45,#bbed40,#c8ea3a,#d4e634,#d9dc33,#dfd233,#e4c932,#e9c131,#ecbb30,#f0b530,#f2b02f,#f5ac2f,#f7a72f,#faa32e,#fc9f2e,#fe9c2e,#fc972c,#fb932a,#f98e28,#f88a27,#f68725,#f58324,#f48023,#f37d22,#f27b21,#f17820,#f0751e,#ee711d,#ed6d1b,#eb691a,#ea6518,#e86116,#e75d15,#e65914,#e55612,#e35311,#e24f10,#e14c0e,#df480d,#de440b,#dd410a,#dc3e09,#db3b08,#da3907,#d93807,#d93807,#da3907)"></i>
<i style="background:linear-gradient(90deg,#3c4699,#3d4a9f,#3d4da4,#3e4fa8,#3e51ac,#3f53af,#3f55b3,#4056b6,#4058b9,#415abd,#415dc1,#4260c7,#4364ce,#446ad8,#4672e7,#437cec,#3d8ae8,#3599e4,#2dabdf,#25bcda,#1ccdd6,#26d6c5,#31ddb4,#3ce4a4,#46eb95,#50f186,#59f778,#64fc6b,#72f964,#80f75d,#8bf557,#95f352,#9ef24e,#a7f04a,#b0ee45,#bbed40,#c8ea39,#d4e534,#dadb33,#e0d132,#e5c832,#e9c031,#edba30,#f0b430,#f3af2f,#f5ab2f,#f8a72f,#faa32e,#fc9f2e,#fe9b2d,#fc972c,#fb922a,#f98e28,#f88a27,#f68625,#f58324,#f48023,#f37d22,#f27a20,#f1771f,#f0741e,#ee701d,#ed6c1b,#eb6819,#ea6418,#e86016,#e75c15,#e65914,#e45612,#e35211,#e24f10,#e14b0e,#df480d,#de440b,#dd410a,#dc3d09,#db3b08,#da3907,#d93807,#d93807,#da3907)"></i>
<i style="background:linear-gradient(90deg,#3d499d,#3d4ca2,#3e4ea7,#3e50ab,#3f52ae,#3f54b1,#3f55b3,#4057b6,#4058b9,#405abc,#415cc0,#425fc5,#4262cb,#4468d5,#4570e4,#447bed,#3e88e9,#3698e4,#2eaadf,#25bcda,#1dcdd6,#26d6c5,#31deb4,#3ce5a4,#46eb94,#50f186,#5af877,#65fc6a,#73f963,#81f75d,#8cf557,#96f352,#9ff24e,#a8f049,#b1ee45,#bcec3f,#c9ea39,#d4e534,#dada33,#e0d032,#e5c732,#eabf31,#edb930,#f0b330,#f3af2f,#f6aa2f,#f8a62f,#faa22e,#fc9f2e,#fe9b2d,#fc962b,#fb922a,#f98d28,#f88926,#f68625,#f58224,#f47f22,#f37c21,#f27920,#f1761f,#ef731e,#ee701c,#ed6c1b,#eb6819,#ea6418,#e86016,#e75c15,#e55813,#e45512,#e35211,#e24e0f,#e04b0e,#df470c,#de430b,#dc400a,#db3d09,#da3b08,#da3907,#d93807,#d93807,#da3807)"></i>
<i style="background:linear-gradient(90deg,#3d4ba1,#3e4ea6,#3e50a9,#3f51ac,#3f53af,#3f54b2,#3f56b4,#4057b7,#4058b9,#405abc,#415cbf,#415ec3,#4261c9,#4366d2,#456ee0,#4579ed,#3f86e9,#3797e5,#2ea9e0,#25bbdb,#1dcdd6,#26d6c5,#32deb3,#3de5a3,#47eb94,#51f285,#5bf876,#66fb6a,#74f963,#82f75c,#8df557,#97f352,#a0f14d,#a8f049,#b2ee45,#bdec3f,#caea39,#d5e434,#dbda33,#e0cf32,#e6c631,#eabe31,#eeb830,#f1b330,#f4ae2f,#f6aa2f,#f8a62e,#faa22e,#fd9e2e,#fe9a2d,#fc962b,#fa912a,#f98d28,#f78926,#f68525,#f58223,#f47f22,#f27c21,#f17920,#f0761f,#ef721d,#ee6f1c,#ec6b1b,#eb6719,#e96317,#e85f16,#e75b14,#e55813,#e45512,#e35110,#e14e0f,#e04a0e,#df460c,#de430b,#dc3f0a,#db3d08,#da3a07,#da3807,#d93807,#d93807,#da3807)"></i>
<i style="background:linear-gradient(90deg,#3e4da6,#3e4fa9,#3e51ac,#3f52ae,#3f54b0,#3f55b3,#4056b5,#4057b7,#4058b9,#405abc,#415bbe,#415dc2,#4260c7,#4365cf,#456cdd,#4677ee,#3f85ea,#3795e5,#2fa7e0,#26badb,#1dccd6,#26d6c5,#32deb3,#3de5a2,#47ec93,#51f284,#5bf875,#67fb69,#75f962,#83f65c,#8ef456,#98f351,#a0f14d,#a9f049,#b2ee44,#bdec3f,#caea38,#d5e434,#dbd933,#e1cf32,#e6c631,#ebbe31,#eeb730,#f1b230,#f4ad2f,#f6a92f,#f9a52e,#fba12e,#fd9e2e,#fe9a2d,#fc952b,#fa9129,#f98d28,#f78926,#f68525,#f58223,#f37e22,#f27b21,#f17820,#f0751e,#ef721d,#ed6e1c,#ec6a1a,#eb6619,#e96217,#e85f16,#e65b14,#e55713,#e45412,#e35110,#e14d0f,#e0490d,#df460c,#dd420b,#dc3f09,#db3c08,#da3a07,#d93807,#d83807,#d83807,#d93807)"></i>
<i style="background:linear-gradient(90deg,#3e50aa,#3e51ac,#3f52ae,#3f53b0,#3f54b2,#3f55b3,#4056b5,#4057b7,#4058b9,#405abb,#415bbe,#415cc0,#425fc5,#4363cd,#446ada,#4775ed,#4083ea,#3894e6,#2fa6e0,#26b9db,#1dccd6,#26d6c5,#32deb3,#3de5a2,#48ec92,#52f383,#5cf974,#68fb69,#77f962,#84f65b,#8ff456,#99f351,#a1f14d,#aaf049,#b3ee44,#beec3f,#cbea38,#d5e334,#dbd933,#e1ce32,#e6c531,#ebbd31,#efb730,#f2b130,#f4ad2f,#f7a92f,#f9a52e,#fba12e,#fd9d2e,#fd992d,#fc952b,#fa9129,#f98d28,#f78926,#f68525,#f48123,#f37e22,#f27b21,#f1781f,#f0741e,#ee711d,#ed6d1b,#ec6a1a,#ea6618,#e96217,#e85e15,#e65a14,#e55713,#e45311,#e25010,#e14c0f,#e0490d,#de450c,#dd420a,#dc3f09,#db3c08,#da3907,#d93807,#d83807,#d83807,#d93807)"></i>
<i style="background:linear-gradient(90deg,#3f52ae,#3f53af,#3f53b0,#3f54b1,#3f55b2,#3f55b4,#4056b6,#4057b7,#4058b9,#4059bb,#415bbd,#415cbf,#415ec3,#4262cb,#4469d7,#4674ea,#4182eb,#3992e6,#30a5e1,#26b9db,#1dcbd6,#26d6c5,#32deb3,#3ee5a1,#49ec91,#53f382,#5df973,#6afb68,#78f861,#85f65b,#90f455,#9af250,#a2f14c,#aaf048,#b3ee44,#beec3e,#ccea38,#d5e334,#dbd833,#e1ce32,#e7c431,#ebbd31,#efb630,#f2b12f,#f5ac2f,#f7a82f,#f9a42e,#fba12e,#fd9d2e,#fd992d,#fc952b,#fa9029,#f98c28,#f78826,#f68424,#f48123,#f37d22,#f27a20,#f1771f,#ef741e,#ee701d,#ed6d1b,#eb691a,#ea6518,#e96117,#e75d15,#e65a14,#e55612,#e35311,#e24f10,#e14c0e,#e0480d,#de450c,#dd410a,#dc3e09,#db3b08,#da3907,#d93807,#d83807,#d83807,#d93807)"></i>
<i style="background:linear-gradient(90deg,#3f54b2,#3f54b1,#3f54b1,#3f54b2,#3f55b3,#3f56b4,#4057b6,#4057b8,#4058b9,#4059bb,#415abd,#415bbf,#415dc2,#4261c9,#4368d5,#4672e8,#4280eb,#3991e6,#30a4e1,#27b8dc,#1ecbd6,#26d6c6,#32deb3,#3ee6a1,#49ed90,#54f381,#5efa72,#6bfb67,#79f860,#86f65a,#91f455,#9af250,#a3f14c,#abef48,#b4ee43,#bfec3e,#ccea38,#d5e334,#dcd833,#e2cd32,#e7c431,#ebbc31,#efb630,#f2b02f,#f5ac2f,#f7a82f,#f9a42e,#fba02e,#fe9d2e,#fd992c,#fb942b,#fa9029,#f88c27,#f78826,#f68424,#f48023,#f37d22,#f27a20,#f0761f,#ef731e,#ee6f1c,#ed6c1b,#eb6819,#ea6418,#e86016,#e75d15,#e65914,#e45612,#e35211,#e24f10,#e14b0e,#df480d,#de440b,#dd410a,#dc3e09,#db3b08,#da3907,#d83807,#d83707,#d83707,#d93807)"></i>
<i style="background:linear-gradient(90deg,#4056b5,#3f55b3,#3f55b3,#3f55b3,#3f55b3,#4056b5,#4057b6,#4058b8,#4059b9,#4059bb,#405abd,#415bbe,#415dc1,#4260c7,#4367d3,#4671e6,#427feb,#3a90e7,#31a3e1,#27b7dc,#1ecad6,#25d6c6,#32deb2,#3ee6a0,#4aed90,#54f480,#5efa70,#6cfa67,#7af860,#87f659,#92f454,#9bf250,#a3f14c,#abef48,#b4ee43,#bfec3e,#ccea37,#d6e234,#dcd833,#e2cd32,#e7c431,#ecbc31,#efb530,#f2b02f,#f5ab2f,#f7a72f,#faa32e,#fca02e,#fe9c2e,#fd982c,#fb942a,#fa9029,#f88c27,#f78826,#f58424,#f48023,#f37d21,#f17920,#f0761f,#ef721d,#ee6f1c,#ec6b1a,#eb6719,#ea6318,#e86016,#e75c15,#e65913,#e45512,#e35211,#e24e0f,#e04b0e,#df470d,#de440b,#dd400a,#db3d09,#da3a08,#da3807,#d83807,#d73707,#d83707,#d93807)"></i>
<i style="background:linear-gradient(90deg,#4058b8,#4056b5,#3f55b4,#3f55b3,#3f55b4,#4056b5,#4057b6,#4058b8,#4059b9,#4059bb,#405abc,#415bbe,#415cc0,#4260c6,#4366d2,#4570e4,#427eec,#3a8fe7,#31a2e1,#28b6dc,#1ecad6,#25d6c6,#32deb2,#3fe6a0,#4aed8f,#55f47f,#5ffb6f,#6dfa66,#7cf85f,#88f559,#93f454,#9cf24f,#a4f14b,#acef47,#b5ee43,#bfec3e,#ccea37,#d6e234,#dcd833,#e2cd32,#e7c431,#ecbc30,#f0b530,#f3b02f,#f5ab2f,#f8a72f,#faa32e,#fc9f2e,#fe9c2e,#fd982c,#fb932a,#fa8f29,#f88b27,#f78726,#f58424,#f48023,#f37c21,#f17820,#f0751e,#ef711d,#ed6e1c,#ec6a1a,#eb6619,#e96317,#e85f16,#e75c14,#e55813,#e45512,#e35110,#e14e0f,#e04a0e,#df460c,#de430b,#dc400a,#db3d08,#da3a07,#d93807,#d83707,#d73707,#d73707,#d93807)"></i>
<i style="background:linear-gradient(90deg,#4059ba,#4057b7,#4056b5,#3f55b4,#3f55b4,#4056b5,#4057b6,#4057b8,#4058b9,#4059bb,#405abc,#415bbe,#415cc0,#4260c6,#4366d1,#4570e4,#437eec,#3b8fe7,#31a2e2,#28b6dc,#1ec9d7,#25d6c6,#32deb2,#3fe6a0,#4aee8e,#55f57e,#60fb6e,#6efa66,#7df75f,#89f558,#94f353,#9df24f,#a5f14b,#acef47,#b5ee43,#bfec3e,#ccea37,#d6e234,#dcd833,#e2cd32,#e7c331,#ecbb30,#f0b530,#f3af2f,#f5ab2f,#f8a62f,#faa32e,#fc9f2e,#fe9b2d,#fd972c,#fb932a,#fa8f29,#f88b27,#f78726,#f58324,#f47f23,#f27c21,#f17820,#f0741e,#ee711d,#ed6d1b,#ec691a,#ea6618,#e96217,#e85e16,#e65b14,#e55713,#e45412,#e35010,#e14d0f,#e0490d,#df460c,#dd420b,#dc3f09,#db3c08,#da3a07,#d93807,#d83707,#d73707,#d73707,#d83807)"></i>
<i style="background:linear-gradient(90deg,#405abc,#4058b8,#4056b5,#3f56b4,#3f55b4,#4056b5,#4056b6,#4057b7,#4058b9,#4059bb,#405abc,#415bbe,#415cc1,#4260c7,#4366d2,#4570e4,#437eec,#3b8fe7,#31a2e2,#28b5dc,#1ec9d7,#25d6c7,#32deb2,#3fe6a0,#4bee8e,#56f57d,#60fc6d,#70fa65,#7ef75e,#8af558,#95f353,#9ef24e,#a5f04b,#adef47,#b5ee43,#bfec3e,#ccea37,#d6e234,#dcd833,#e2cd32,#e7c331,#ecbb30,#f0b530,#f3af2f,#f6aa2f,#f8a62e,#faa22e,#fc9f2e,#fe9b2d,#fc972c,#fb932a,#f98f28,#f88b27,#f78725,#f58324,#f47f22,#f27b21,#f1771f,#ef741e,#ee701c,#ed6c1b,#eb681a,#ea6518,#e96117,#e75e15,#e65a14,#e55713,#e45311,#e25010,#e14c0f,#e0490d,#de450c,#dd420b,#dc3f09,#db3c08,#da3907,#d93807,#d73707,#d73707,#d73707,#d83807)"></i>
<i style="background:linear-gradient(90deg,#415bbd,#4058b9,#4057b6,#3f56b4,#3f55b4,#3f56b4,#4056b5,#4057b7,#4058b9,#4059bb,#405abd,#415bbe,#415dc1,#4260c8,#4367d3,#4671e5,#427feb,#3a8fe7,#31a2e2,#28b5dc,#1fc9d7,#25d5c7,#32deb3,#3fe69f,#4bee8d,#56f57c,#61fc6d,#71fa65,#7ff75e,#8bf557,#96f352,#9ef24e,#a6f04b,#adef47,#b5ee43,#bfec3e,#ccea38,#d5e334,#dcd833,#e2cd32,#e7c431,#ecbb30,#f0b530,#f3af2f,#f6aa2f,#f8a62e,#fba22e,#fd9e2e,#fe9a2d,#fc962b,#fb922a,#f98e28,#f88a27,#f68625,#f58224,#f47f22,#f27b21,#f1771f,#ef731e,#ee6f1c,#ec6b1b,#eb6819,#ea6418,#e86116,#e75d15,#e65a14,#e55612,#e35311,#e24f10,#e14c0e,#e0480d,#de450c,#dd410a,#dc3e09,#db3b08,#da3907,#d83807,#d73707,#d63707,#d73707,#d83707)"></i>
<i style="background:linear-gradient(90deg,#415bbd,#4058b9,#4057b6,#3f56b4,#3f55b4,#3f55b4,#4056b5,#4057b7,#4058b9,#4059bb,#415abd,#415cbf,#415ec3,#4261ca,#4468d5,#4672e8,#4280eb,#3a90e7,#31a2e2,#28b5dc,#1fc9d7,#25d5c7,#32deb3,#3fe69f,#4bee8d,#57f57c,#61fc6c,#71f964,#80f75d,#8cf557,#96f352,#9ff24e,#a6f04a,#adef47,#b5ee43,#bfec3e,#cbea38,#d5e334,#dbd833,#e1ce32,#e7c431,#ecbb30,#f0b530,#f3af2f,#f6aa2f,#f9a52e,#fba12e,#fd9e2e,#fe9a2d,#fc962b,#fb922a,#f98e28,#f88a27,#f68625,#f58224,#f37e22,#f27a20,#f0761f,#ef721d,#ed6e1c,#ec6a1a,#eb6719,#e96318,#e86016,#e75c15,#e65914,#e45612,#e35211,#e24f0f,#e14b0e,#df480d,#de440b,#dd410a,#dc3e09,#db3b08,#da3907,#d83807,#d73707,#d63707,#d63707,#d73707)"></i>
<i style="background:linear-gradient(90deg,#405abc,#4058b8,#4056b6,#3f56b4,#3f55b3,#3f55b4,#3f56b5,#4057b6,#4058b8,#4059ba,#415abd,#415cc0,#415fc5,#4263cc,#446ad9,#4674eb,#4181eb,#3991e6,#31a3e1,#28b6dc,#1fc9d7,#24d5c7,#32deb3,#3fe69f,#4bee8d,#57f67c,#62fc6c,#72f964,#80f75d,#8df557,#97f352,#9ff14e,#a6f04a,#adef47,#b4ee43,#beec3f,#caea38,#d5e434,#dbd933,#e1ce32,#e7c431,#ecbc31,#f0b530,#f3af2f,#f6a92f,#f9a52e,#fba12e,#fd9d2e,#fd992d,#fc952b,#fa912a,#f98d28,#f88926,#f68625,#f58223,#f37e22,#f27920,#f0751f,#ef711d,#ed6d1b,#ec6a1a,#ea6619,#e96317,#e85f16,#e75c15,#e55813,#e45512,#e35211,#e24e0f,#e04b0e,#df470d,#de440b,#dd400a,#dc3d09,#db3b08,#da3807,#d83707,#d73707,#d63707,#d63707,#d73707)"></i>
<i style="background:linear-gradient(90deg,#4059ba,#4057b7,#4056b5,#3f55b4,#3f55b3,#3f55b3,#3f55b4,#4056b5,#4057b7,#4059ba,#415bbd,#415dc1,#4260c7,#4365d0,#456cdd,#4677ee,#4084ea,#3893e6,#30a4e1,#27b7dc,#1ec9d7,#24d5c7,#32deb3,#3fe6a0,#4bee8d,#57f67c,#62fc6c,#72f964,#81f75d,#8df556,#97f351,#9ff14e,#a6f04a,#acef47,#b3ee44,#bdec3f,#c9ea39,#d4e434,#dbda33,#e1cf32,#e7c531,#ecbc31,#f0b530,#f3af2f,#f6a92f,#f9a52e,#fba12e,#fd9d2e,#fd992d,#fc952b,#fa9129,#f98d28,#f78926,#f68525,#f48123,#f37d22,#f17920,#f0751e,#ee711d,#ed6d1b,#ec691a,#ea6518,#e96217,#e85e16,#e65b14,#e55813,#e45412,#e35110,#e14d0f,#e04a0e,#df470c,#de430b,#dc400a,#db3d09,#da3a08,#d93807,#d83707,#d63707,#d63607,#d63607,#d73707)"></i>
<i style="background:linear-gradient(90deg,#4057b8,#4057b6,#4056b5,#3f55b3,#3f55b3,#3f55b3,#3f55b3,#3f56b4,#4057b6,#4058b9,#415bbd,#415ec3,#4262ca,#4367d4,#4570e3,#457aed,#3f86e9,#3795e5,#2fa6e0,#27b8dc,#1ec9d7,#24d5c7,#32deb3,#3fe6a0,#4bee8d,#57f67c,#62fc6c,#73f963,#81f75c,#8ef556,#98f351,#a0f14d,#a6f04a,#acef47,#b3ee44,#bcec3f,#c8ea39,#d4e534,#dada33,#e0cf32,#e6c531,#ebbc31,#f0b530,#f3ae2f,#f6a92f,#f9a42e,#fba02e,#fe9c2e,#fd982c,#fc942b,#fa9029,#f98d28,#f78926,#f68425,#f48023,#f37c21,#f17820,#f0741e,#ee701c,#ed6c1b,#eb6819,#ea6518,#e96117,#e75e15,#e65b14,#e55713,#e45412,#e25010,#e14d0f,#e0490d,#df460c,#dd430b,#dc400a,#db3d08,#da3a07,#d93807,#d73707,#d63707,#d63607,#d63607,#d63707)"></i>
<i style="background:linear-gradient(90deg,#3f56b4,#3f56b4,#3f55b4,#3f55b3,#3f55b2,#3f54b2,#3f55b2,#3f55b4,#4056b6,#4058b9,#415bbe,#415fc4,#4364cd,#446ad9,#4673e9,#437dec,#3d8ae8,#3698e4,#2ea8e0,#26b9db,#1ecad6,#24d5c7,#32deb3,#3fe6a0,#4bee8d,#57f67c,#62fc6c,#73f963,#82f75c,#8ef456,#98f351,#a0f14d,#a6f04b,#abef48,#b2ee44,#bbed40,#c7eb3a,#d3e634,#dadb33,#e0d032,#e6c631,#ebbd31,#f0b530,#f3ae2f,#f7a92f,#f9a42e,#fca02e,#fe9c2e,#fd982c,#fb942b,#fa9029,#f88c27,#f78826,#f58424,#f48023,#f27c21,#f1771f,#ef731e,#ee6f1c,#ec6b1b,#eb6719,#ea6418,#e86016,#e75d15,#e65a14,#e55713,#e45311,#e25010,#e14c0f,#e0490d,#de450c,#dd420b,#dc3f09,#db3c08,#da3a07,#d93807,#d73707,#d63707,#d53607,#d53607,#d63607)"></i>
<i style="background:linear-gradient(90deg,#3f53b0,#3f54b2,#3f55b2,#3f55b2,#3f54b2,#3f54b2,#3f54b2,#3f55b3,#4056b5,#4058b9,#415bbe,#4260c6,#4366d1,#456ddf,#4677ee,#4181eb,#3b8de7,#359be4,#2daadf,#26badb,#1ecbd6,#25d5c7,#31deb4,#3ee6a0,#4bee8e,#57f57c,#62fc6c,#73f963,#82f75c,#8ef456,#98f351,#a0f14d,#a5f04b,#abef48,#b1ee45,#baed40,#c6eb3a,#d3e735,#d9dc33,#e0d132,#e6c631,#ebbd31,#efb530,#f3ae2f,#f7a92f,#faa42e,#fc9f2e,#fe9c2e,#fd972c,#fb932a,#fa8f29,#f88c27,#f78726,#f58324,#f47f22,#f27b21,#f1771f,#ef721d,#ed6e1c,#ec6a1a,#eb6719,#e96317,#e86016,#e75d15,#e65914,#e55612,#e35311,#e24f10,#e14c0e,#df480d,#de450c,#dd420a,#dc3f09,#db3c08,#da3907,#d93807,#d73707,#d63607,#d53607,#d53607,#d63607)"></i>
<i style="background:linear-gradient(90deg,#3e51ac,#3f53af,#3f54b1,#3f54b2,#3f54b1,#3f54b1,#3f54b1,#3f54b2,#3f56b4,#4058b8,#415cbf,#4261c9,#4468d5,#4671e5,#447aed,#3f85ea,#3991e6,#339ee3,#2cacdf,#25bcda,#1dcbd6,#25d5c7,#31deb4,#3ee6a1,#4aee8e,#56f57c,#62fc6c,#73f963,#82f75c,#8ef456,#98f351,#a0f14d,#a5f04b,#abf048,#b1ee45,#baed41,#c6eb3b,#d3e735,#d9dc34,#dfd132,#e5c732,#ebbd31,#efb530,#f3ae2f,#f7a82f,#faa32e,#fc9f2e,#fe9b2d,#fc972c,#fb932a,#fa8f29,#f88b27,#f78725,#f58324,#f37e22,#f27a20,#f0761f,#ef711d,#ed6d1b,#ec691a,#ea6619,#e96217,#e85f16,#e75c15,#e65913,#e45612,#e35211,#e24f0f,#e14b0e,#df480d,#de440b,#dd410a,#dc3e09,#db3b08,#da3907,#d83807,#d73707,#d63607,#d53607,#d53607,#d53607)"></i>
<i style="background:linear-gradient(90deg,#3e4ea7,#3f51ac,#3f53b0,#3f54b1,#3f54b1,#3f54b1,#3f54b0,#3f54b1,#3f55b4,#4058b9,#415cc0,#4263cb,#446bda,#4674eb,#437eec,#3d89e8,#3895e5,#31a2e2,#2bafde,#24bdda,#1dccd6,#25d6c7,#31deb4,#3ee6a1,#4aee8f,#56f57d,#62fc6c,#72f964,#81f75c,#8ef456,#98f351,#a0f14d,#a5f04b,#aaf048,#b1ee45,#b9ed41,#c5eb3b,#d3e735,#d9dd34,#dfd133,#e5c732,#ebbd31,#efb530,#f4ae2f,#f7a82f,#faa32e,#fc9e2e,#fe9a2d,#fc962b,#fb922a,#f98e28,#f88a27,#f68625,#f58223,#f37e22,#f27920,#f0751e,#ee711d,#ed6d1b,#eb691a,#ea6518,#e96217,#e85e16,#e75b14,#e55813,#e45512,#e35211,#e24e0f,#e04b0e,#df470c,#de440b,#dd410a,#dc3e09,#db3b08,#da3907,#d83807,#d73707,#d63607,#d53607,#d53607,#d53607)"></i>
<i style="background:linear-gradient(90deg,#3d4ba2,#3e50aa,#3f52ae,#3f53b0,#3f53b0,#3f53b0,#3f53b0,#3f54b1,#3f55b4,#4058b9,#415dc2,#4364ce,#456ddf,#4678ed,#4182ea,#3b8de7,#3699e4,#30a5e1,#2ab2dd,#23bfda,#1dcdd6,#25d6c6,#31deb4,#3ee5a1,#4aed8f,#56f57d,#61fc6c,#72f964,#81f75c,#8ef456,#98f351,#9ff14d,#a5f04b,#abf048,#b1ee45,#b9ed41,#c5eb3b,#d3e735,#d9dd34,#dfd233,#e5c732,#ebbd31,#f0b530,#f4ae2f,#f7a82f,#faa22e,#fd9e2e,#fe9a2d,#fc962b,#fb922a,#f98e28,#f88a27,#f68525,#f48123,#f37d21,#f17820,#f0741e,#ee701c,#ed6c1b,#eb6819,#ea6418,#e96117,#e75e15,#e65b14,#e55813,#e45412,#e35110,#e14e0f,#e04a0e,#df460c,#de430b,#dc400a,#db3d09,#db3b08,#da3907,#d83807,#d73707,#d63607,#d53607,#d43607,#d43607)"></i>
<i style="background:linear-gradient(90deg,#3d499d,#3e4ea7,#3e51ac,#3f53af,#3f53b0,#3f53b0,#3f53b0,#3f54b1,#3f55b4,#4059ba,#415ec3,#4366d2,#4570e4,#447bec,#3f86e9,#3992e6,#349de3,#2ea8e0,#29b4dd,#23c1d9,#1cced5,#25d6c6,#31deb4,#3de5a2,#4aed8f,#56f57d,#61fc6c,#72f964,#81f75d,#8ef556,#98f351,#9ff14d,#a5f04b,#abef48,#b1ee45,#baed40,#c6eb3b,#d3e735,#d9dc34,#dfd133,#e5c732,#ebbd31,#f0b530,#f4ad2f,#f7a72f,#faa22e,#fd9d2e,#fd992d,#fc952b,#fa9129,#f98d28,#f78926,#f68525,#f48023,#f37c21,#f1771f,#ef731e,#ee6f1c,#ec6b1a,#eb6719,#ea6318,#e86016,#e75d15,#e65a14,#e55713,#e45412,#e35010,#e14d0f,#e0490d,#df460c,#dd420b,#dc3f0a,#db3d08,#da3a08,#da3807,#d83807,#d73707,#d53607,#d53607,#d43507,#d43507)"></i>
<i style="background:linear-gradient(90deg,#3c4698,#3d4ca3,#3e50aa,#3f52ae,#3f53af,#3f53af,#3f53b0,#3f54b1,#3f56b4,#4059bb,#425fc5,#4468d5,#4673e9,#437eec,#3d8ae8,#3796e5,#32a1e2,#2dacdf,#27b7dc,#22c2d9,#1ccfd5,#26d6c5,#31deb4,#3de5a2,#4aed90,#55f57e,#61fc6d,#71f964,#80f75d,#8df556,#98f351,#a0f14d,#a6f04a,#acef47,#b2ee44,#bbed40,#c7eb3a,#d3e634,#d9dc33,#e0d132,#e6c631,#ebbd31,#f0b430,#f4ad2f,#f8a72f,#fba12e,#fd9d2e,#fd992c,#fc942b,#fa9029,#f98c28,#f78826,#f68424,#f48023,#f27b21,#f1771f,#ef721d,#ed6e1c,#ec6a1a,#eb6619,#e96317,#e85f16,#e75c15,#e65914,#e55613,#e45311,#e25010,#e14c0f,#e0490d,#de450c,#dd420a,#dc3f09,#db3c08,#da3a07,#d93807,#d83707,#d63707,#d53607,#d53607,#d43507,#d43507)"></i>
<i style="background:linear-gradient(90deg,#3b4394,#3d4ba0,#3e4fa8,#3f51ad,#3f52af,#3f53af,#3f53b0,#3f54b1,#4056b5,#405abc,#4261c8,#446ad9,#4776ee,#4181eb,#3b8ee7,#359ae4,#30a4e1,#2bafde,#26b9db,#21c4d8,#1cd0d5,#26d6c5,#31deb4,#3de5a2,#49ed90,#55f57e,#60fc6d,#71fa64,#80f75d,#8df557,#97f351,#a0f14d,#a6f04a,#adef47,#b4ee43,#bdec3f,#c9ea39,#d4e534,#dada33,#e0d032,#e6c531,#ecbc31,#f0b430,#f5ac2f,#f8a62e,#fba12e,#fe9c2e,#fd982c,#fb942a,#fa9029,#f88c27,#f78826,#f58324,#f47f22,#f27a20,#f0761f,#ef711d,#ed6d1b,#ec691a,#ea6518,#e96217,#e85f16,#e75c15,#e65913,#e45612,#e35311,#e24f10,#e14c0e,#df480d,#de450c,#dd410a,#dc3e09,#db3c08,#da3a07,#d93807,#d83707,#d63707,#d53607,#d43607,#d43507,#d33507)"></i>
<i style="background:linear-gradient(90deg,#3b418f,#3d499d,#3e4ea6,#3e51ac,#3f52ae,#3f53af,#3f53b0,#3f55b2,#4057b7,#415bbf,#4262cb,#456cdd,#4578ed,#3f85ea,#3991e6,#349de3,#2ea8e0,#2ab2dd,#25bbdb,#20c5d8,#1cd0d3,#26d7c4,#32deb3,#3de5a2,#49ed90,#55f47e,#60fc6e,#70fa65,#7ff75d,#8cf557,#97f352,#a0f14d,#a7f04a,#afef46,#b6ed42,#c0ec3d,#ccea37,#d5e334,#dbd833,#e1ce32,#e7c431,#ecbb30,#f1b330,#f5ac2f,#f9a52e,#fca02e,#fe9c2e,#fd972c,#fb932a,#fa8f29,#f88b27,#f78725,#f58224,#f37e22,#f27920,#f0751e,#ee701d,#ed6c1b,#eb6819,#ea6418,#e96117,#e75e15,#e65b14,#e55813,#e45512,#e35211,#e24f0f,#e14b0e,#df470d,#de440b,#dd410a,#dc3e09,#db3b08,#da3907,#d93807,#d73707,#d63707,#d53607,#d43607,#d43507,#d33507)"></i>
<i style="background:linear-gradient(90deg,#3a3f8c,#3c479b,#3e4da4,#3e50aa,#3f52ae,#3f53af,#3f54b1,#3f55b4,#4058b9,#415dc1,#4364cf,#456fe2,#447bec,#3e88e9,#3894e5,#32a0e2,#2dabdf,#29b4dd,#24bdda,#20c7d7,#1dd1d2,#27d7c3,#32deb3,#3ee5a2,#49ed90,#55f47e,#60fb6e,#6ffa65,#7ef75e,#8bf557,#97f352,#a0f14d,#a9f049,#b1ee45,#baed41,#c4eb3c,#d0e936,#d7e034,#ddd633,#e2cc32,#e8c231,#edb930,#f2b130,#f6aa2f,#f9a42e,#fc9f2e,#fe9b2d,#fc962b,#fb922a,#f98e28,#f88a27,#f68625,#f58223,#f37d22,#f17820,#f0741e,#ee701c,#ec6b1b,#eb6719,#ea6418,#e86016,#e75d15,#e65a14,#e55713,#e45412,#e35110,#e24e0f,#e04a0e,#df470c,#de430b,#dc400a,#db3d09,#db3b08,#da3907,#d93807,#d73707,#d63707,#d53607,#d43607,#d33507,#d33507)"></i>
<i style="background:linear-gradient(90deg,#3a3d88,#3c4698,#3d4ca2,#3e4fa9,#3f52ad,#3f53b0,#3f54b2,#4056b6,#405abb,#425fc5,#4367d3,#4671e6,#437eec,#3d8ae8,#3697e5,#31a3e1,#2cadde,#28b6dc,#23bfd9,#1fc8d7,#1ed1d1,#28d7c3,#32deb2,#3ee6a1,#4aed90,#55f47e,#60fb6e,#6ffa65,#7df75e,#8bf558,#96f352,#a1f14d,#aaf048,#b4ee44,#bdec3f,#c9ea39,#d3e634,#d9dd34,#ded333,#e4c932,#e9c031,#eeb730,#f2b02f,#f6a92f,#faa32e,#fc9f2e,#fe9a2d,#fc952b,#fa9129,#f98d28,#f78926,#f68525,#f48123,#f37c21,#f1781f,#ef731e,#ee6f1c,#ec6a1a,#eb6619,#e96317,#e85f16,#e75c15,#e65914,#e55613,#e45411,#e35110,#e14d0f,#e0490d,#df460c,#dd420b,#dc3f09,#db3d08,#da3a08,#da3907,#d83807,#d73707,#d63707,#d53607,#d43607,#d33507,#d23407)"></i>
<i style="background:linear-gradient(90deg,#3a3c86,#3c4596,#3d4ba1,#3e4fa8,#3f51ad,#3f53b0,#3f55b4,#4058b8,#415bbf,#4261c9,#4469d7,#4674eb,#4280eb,#3b8de7,#359ae4,#30a5e1,#2bafde,#27b8db,#23c0d9,#1ec9d7,#1fd2d0,#28d8c2,#33dfb2,#3ee6a1,#4aed8f,#55f47e,#60fb6f,#6efa66,#7df75f,#8af558,#96f352,#a1f14d,#acef47,#b7ed42,#c2eb3c,#cee937,#d6e234,#dbd933,#e0cf32,#e6c631,#ebbd31,#efb530,#f4ae2f,#f7a82f,#faa22e,#fd9e2e,#fd992d,#fc942b,#fa9029,#f98c28,#f78826,#f68424,#f48023,#f27b21,#f1771f,#ef721d,#ed6e1c,#ec691a,#ea6518,#e96217,#e85e16,#e65b14,#e55813,#e45612,#e35311,#e25010,#e14c0f,#e0490d,#de450c,#dd420a,#dc3f09,#db3c08,#da3a07,#d93807,#d83807,#d73707,#d63707,#d53607,#d43607,#d33507,#d23406)"></i>
<i style="background:linear-gradient(90deg,#393b84,#3b4393,#3d4a9f,#3e4ea7,#3e51ac,#3f54b1,#4056b5,#4059bb,#415dc2,#4364cd,#446cdc,#4677ee,#4083ea,#3a8fe7,#349ce3,#2fa7e0,#2ab1dd,#26badb,#22c2d9,#1ecad6,#1fd2cf,#29d8c1,#33dfb1,#3fe6a0,#4aed8f,#55f57e,#5ffb6f,#6efa66,#7cf85f,#89f559,#96f352,#a2f14c,#aeef46,#bbed40,#c7eb3a,#d3e735,#d8de34,#ded433,#e3cb32,#e8c231,#edba30,#f1b330,#f5ac2f,#f8a62e,#fba12e,#fe9d2e,#fd982c,#fb932a,#fa8f29,#f88b27,#f78726,#f58324,#f47f22,#f27a21,#f0761f,#ef711d,#ed6d1b,#eb691a,#ea6518,#e96117,#e75d15,#e65a14,#e55713,#e45512,#e35211,#e24f10,#e14c0e,#df480d,#de440b,#dd410a,#dc3e09,#db3b08,#da3907,#d93807,#d83807,#d73707,#d63707,#d53607,#d43607,#d33507,#d23406)"></i>
<i style="background:linear-gradient(90deg,#393a83,#3b4292,#3d499d,#3e4da5,#3e51ac,#3f54b1,#4057b7,#415bbe,#4260c7,#4366d2,#456fe2,#457aed,#3f85ea,#3992e6,#339ee3,#2ea9e0,#29b2dd,#25bbdb,#22c3d8,#1dcbd6,#20d2ce,#29d8c0,#34dfb0,#3fe69f,#4bee8e,#55f57e,#5ffb6f,#6dfa66,#7bf860,#88f559,#95f352,#a3f14c,#b1ee45,#bfec3e,#cdea37,#d6e234,#dbd933,#e0d032,#e5c732,#eabe31,#efb730,#f2b02f,#f6aa2f,#f9a52e,#fca02e,#fe9c2e,#fc972c,#fb932a,#f98e28,#f88a27,#f68625,#f58224,#f37e22,#f27920,#f0751e,#ee701d,#ed6c1b,#eb6819,#ea6418,#e86016,#e75c15,#e65914,#e55713,#e45411,#e35110,#e24e0f,#e04b0e,#df470c,#de430b,#dc400a,#db3d09,#db3b08,#da3907,#d93807,#d83707,#d73707,#d63607,#d53607,#d43607,#d33507,#d23406)"></i>
<i style="background:linear-gradient(90deg,#393982,#3b4190,#3c489b,#3d4da4,#3e51ac,#3f55b2,#4058b9,#415dc1,#4262cb,#4469d7,#4672e7,#437cec,#3e88e9,#3894e6,#32a0e2,#2daadf,#29b3dd,#25bcda,#21c4d8,#1dccd6,#21d3cd,#2ad9bf,#35e0af,#40e79e,#4bee8d,#56f57d,#5ffb6f,#6cfa67,#7af860,#87f659,#95f353,#a4f14b,#b3ee44,#c3eb3c,#d2e835,#d8de34,#ded433,#e3cb32,#e8c231,#edba30,#f1b330,#f4ad2f,#f7a82f,#faa32e,#fd9e2e,#fe9a2d,#fc962b,#fa912a,#f98d28,#f88926,#f68525,#f48123,#f37d22,#f17920,#f0741e,#ee701c,#ec6b1b,#eb6719,#e96317,#e85f16,#e75b14,#e55813,#e45612,#e35311,#e25010,#e14d0f,#e04a0e,#df460c,#dd430b,#dc3f09,#db3c08,#da3a07,#d93807,#d83807,#d73707,#d73707,#d63607,#d53607,#d43607,#d33507,#d13406)"></i>
<i style="background:linear-gradient(90deg,#393981,#3b418f,#3c479a,#3d4ca3,#3e51ab,#3f55b3,#405abc,#425fc5,#4365d0,#456cdd,#4775ed,#427feb,#3d8ae8,#3796e5,#32a1e2,#2dabdf,#28b4dc,#25bcda,#21c4d8,#1dcdd6,#21d3cc,#2bd9be,#35e0ae,#41e79d,#4cee8c,#56f57d,#5ffb6f,#6cfa67,#79f860,#87f65a,#95f353,#a5f04b,#b6ee42,#c8ea3a,#d5e434,#dbd933,#e1cf32,#e6c531,#ebbd31,#efb630,#f3b02f,#f6aa2f,#f9a52e,#fba12e,#fd9d2e,#fd992c,#fc952b,#fa9029,#f98c28,#f78826,#f68424,#f48023,#f37c21,#f1781f,#ef731e,#ee6f1c,#ec6a1a,#ea6619,#e96217,#e75e15,#e65a14,#e55713,#e45512,#e35211,#e24f10,#e14c0e,#e0490d,#de450c,#dd420a,#dc3e09,#db3c08,#da3907,#d93807,#d83707,#d73707,#d63707,#d63607,#d53607,#d43507,#d33507,#d13406)"></i>
<i style="background:linear-gradient(90deg,#393981,#3b408e,#3c4698,#3d4ca2,#3e51ab,#3f56b5,#415bbe,#4261c9,#4368d5,#456fe3,#4578ed,#4182ea,#3c8de8,#3698e4,#31a2e1,#2cacdf,#28b5dc,#24bdda,#20c5d8,#1cced5,#22d4cb,#2cdabd,#36e1ad,#41e89c,#4cef8b,#57f57c,#60fb6e,#6cfa67,#79f861,#86f65a,#95f353,#a6f04a,#b9ed41,#ccea38,#d7e034,#ded433,#e4c932,#e9c031,#eeb830,#f1b230,#f5ac2f,#f8a72f,#faa32e,#fc9f2e,#fe9b2d,#fd972c,#fb932a,#fa8f29,#f88b27,#f78726,#f58324,#f47f22,#f27b21,#f1771f,#ef721d,#ed6e1c,#ec691a,#ea6518,#e96117,#e75d15,#e65914,#e55612,#e45311,#e35110,#e24e0f,#e14b0e,#df480d,#de440b,#dd410a,#dc3d09,#db3b08,#da3907,#d83807,#d73707,#d73707,#d63607,#d53607,#d53607,#d43507,#d33507,#d13406)"></i>
<i style="background:linear-gradient(90deg,#393981,#3b408d,#3c4697,#3d4ba2,#3e51ac,#4056b6,#415cc1,#4263cc,#446ada,#4673e8,#447bec,#3f85ea,#3a8fe7,#3599e4,#31a4e1,#2cadde,#28b5dc,#24bdda,#20c5d8,#1cced5,#23d4ca,#2cdabb,#37e1ab,#42e89b,#4def8a,#57f67b,#60fb6e,#6cfa67,#78f861,#85f65a,#95f353,#a7f04a,#bbed40,#d0e935,#d9dc33,#e1cf32,#e7c431,#ecbb30,#f0b430,#f4ae2f,#f7a82f,#f9a42e,#fba02e,#fd9d2e,#fd9a2d,#fc962b,#fb922a,#f98e28,#f88a27,#f68625,#f58224,#f37e22,#f27a20,#f0761f,#ef721d,#ed6d1b,#eb691a,#ea6418,#e86016,#e75c15,#e55813,#e45512,#e35211,#e25010,#e14d0f,#e04a0e,#df470c,#de430b,#dc400a,#db3d08,#da3a07,#d93807,#d83707,#d73707,#d63707,#d63607,#d53607,#d43607,#d43507,#d23407,#d13306)"></i>
<i style="background:linear-gradient(90deg,#393a82,#3b3f8c,#3c4597,#3d4ba1,#3e51ac,#4057b7,#415ec3,#4365d0,#456ddf,#4776ee,#437eec,#3e87e9,#3991e6,#359be4,#30a5e1,#2caede,#28b6dc,#24beda,#20c6d8,#1ccfd5,#23d5c9,#2ddbba,#38e2aa,#43e999,#4ef089,#58f67a,#60fc6e,#6cfa67,#78f861,#85f65a,#95f353,#a8f049,#beec3e,#d3e735,#dcd833,#e3ca32,#eabf31,#efb630,#f3af2f,#f6aa2f,#f9a52e,#fba12e,#fd9e2e,#fe9b2d,#fd982c,#fc942b,#fa9129,#f98d28,#f78926,#f68525,#f58123,#f37d22,#f27920,#f0751e,#ee711d,#ed6c1b,#eb6819,#ea6318,#e85f16,#e65b14,#e55713,#e45412,#e35111,#e24f0f,#e14c0e,#e0490d,#df460c,#dd420b,#dc3f09,#db3c08,#da3907,#d83807,#d73707,#d63707,#d63607,#d53607,#d53607,#d43507,#d33507,#d23406,#d03306)"></i>
<i style="background:linear-gradient(90deg,#393a83,#3a3f8c,#3c4596,#3d4ba1,#3e51ac,#4058b9,#425fc6,#4367d4,#4570e3,#4578ed,#4181eb,#3d8ae8,#3893e6,#349de3,#2fa6e1,#2baede,#27b6dc,#24beda,#20c7d7,#1cd0d5,#24d5c8,#2edbb9,#39e2a9,#44e998,#4ff088,#58f779,#61fc6d,#6cfa67,#78f861,#85f65a,#95f352,#aaf049,#c1ec3d,#d5e434,#ded433,#e6c631,#ecbb30,#f1b230,#f5ab2f,#f8a62e,#fba22e,#fc9f2e,#fe9c2e,#fd992c,#fc962b,#fb932a,#fa8f29,#f88c27,#f78826,#f68424,#f48023,#f37c21,#f17820,#f0741e,#ee701d,#ed6c1b,#eb6719,#e96317,#e85e16,#e65a14,#e55612,#e35311,#e25010,#e14e0f,#e04b0e,#df480d,#de450c,#dd410a,#dc3e09,#db3b08,#d93807,#d83707,#d63707,#d53607,#d53607,#d53607,#d43507,#d43507,#d33507,#d13406,#d03306)"></i>
<i style="background:linear-gradient(90deg,#3a3b85,#3b3f8c,#3c4596,#3d4ba1,#3f51ad,#4059ba,#4261c9,#446ad8,#4672e8,#447bec,#4084ea,#3c8de8,#3795e5,#339ee3,#2fa7e0,#2bafde,#27b7dc,#23bfda,#1fc7d7,#1cd0d4,#25d6c7,#2fdcb8,#3ae3a7,#45ea97,#50f187,#59f778,#61fc6c,#6cfa67,#78f861,#85f65a,#96f352,#abef48,#c3eb3c,#d6e234,#dfd133,#e8c331,#eeb730,#f4ae2f,#f7a72f,#faa32e,#fc9f2e,#fe9c2e,#fd992d,#fc972c,#fb942b,#fa912a,#f98e28,#f88b27,#f78726,#f58324,#f47f22,#f27b21,#f1771f,#ef731e,#ee6f1c,#ec6b1b,#eb6619,#e96217,#e75d15,#e65914,#e45512,#e35211,#e24f10,#e14c0f,#e04a0e,#df470c,#de440b,#dd400a,#db3d09,#da3a07,#d93807,#d73707,#d63607,#d53607,#d43607,#d43507,#d33507,#d33507,#d23406,#d13406,#cf3306)"></i>
<i style="background:linear-gradient(90deg,#3a3c86,#3b408d,#3c4596,#3d4ba1,#3f52ae,#405abc,#4262cb,#446cdc,#4675ed,#437eec,#3f86e9,#3a8fe7,#3698e5,#32a0e2,#2ea8e0,#2bb0de,#27b7dc,#23bfd9,#1fc8d7,#1dd0d3,#25d6c6,#30dcb7,#3be4a6,#46eb95,#50f185,#5af777,#62fc6c,#6dfa66,#78f861,#85f65a,#96f352,#acef47,#c5eb3b,#d7e034,#e1cf32,#eac031,#f0b430,#f5ab2f,#f9a42e,#fca02e,#fe9d2e,#fd9a2d,#fc972c,#fc952b,#fb922a,#fa9029,#f98d28,#f88a26,#f68625,#f58224,#f37e22,#f27a21,#f1771f,#ef731e,#ee6f1c,#ec6a1a,#ea6619,#e96117,#e75d15,#e55813,#e45412,#e35110,#e24e0f,#e14b0e,#e0480d,#df460c,#dd420b,#dc3f09,#db3c08,#da3907,#d83707,#d63607,#d53607,#d43507,#d33507,#d33507,#d33507,#d23406,#d13406,#d03306,#ce3206)"></i>
<i style="background:linear-gradient(90deg,#3a3d88,#3b408e,#3c4596,#3d4ba1,#3f53af,#415bbe,#4364ce,#456ddf,#4677ee,#4280eb,#3d89e9,#3991e6,#3599e4,#32a1e2,#2ea9e0,#2ab0de,#27b8db,#23c0d9,#1fc8d7,#1dd1d2,#26d6c5,#30ddb5,#3ce4a5,#47eb94,#51f284,#5bf876,#63fc6b,#6efa66,#79f860,#86f65a,#97f352,#adef47,#c7eb3a,#d8de34,#e2cd32,#ebbd31,#f2b130,#f7a82f,#faa22e,#fd9e2e,#fe9a2d,#fd972c,#fc952b,#fb932a,#fa9129,#f98e28,#f88c27,#f78826,#f68525,#f48123,#f37d22,#f27a20,#f0761f,#ef721d,#ed6e1c,#ec6a1a,#ea6518,#e86016,#e75c15,#e55713,#e45311,#e25010,#e14d0f,#e04a0e,#df470d,#de440b,#dd410a,#dc3e09,#db3b08,#d93807,#d73707,#d53607,#d43507,#d33507,#d33507,#d23406,#d23406,#d13406,#d03306,#cf3306,#cd3206)"></i>
<i style="background:linear-gradient(90deg,#3a3e8a,#3b418f,#3c4597,#3d4ca2,#3f53b0,#415cc0,#4365d1,#456fe2,#4579ed,#4182ea,#3c8be8,#3893e6,#359be3,#31a3e1,#2daadf,#2ab1dd,#26b9db,#23c1d9,#1ec9d7,#1ed1d1,#27d7c3,#31deb4,#3ce5a3,#48ec92,#52f383,#5cf975,#64fc6b,#6ffa65,#7af860,#87f65a,#98f351,#aeef46,#c8ea39,#d9dd34,#e3cb32,#ecbc30,#f3af2f,#f8a72f,#fba02e,#fe9c2e,#fd982c,#fc962b,#fb932a,#fa9129,#fa8f29,#f98d28,#f88a27,#f78726,#f58424,#f48023,#f37c21,#f17920,#f0751f,#ef711d,#ed6d1b,#ec691a,#ea6518,#e86016,#e65b14,#e55613,#e35211,#e24f0f,#e14c0e,#e0490d,#df460c,#de430b,#dc400a,#db3d09,#da3a07,#d83807,#d63707,#d43607,#d33507,#d23407,#d23406,#d13406,#d13306,#d03306,#cf3306,#ce3206,#cc3106)"></i>
<i style="background:linear-gradient(90deg,#3b408d,#3b4291,#3c4698,#3d4ca4,#3f54b2,#415dc2,#4367d3,#4671e6,#447bec,#4084ea,#3b8de7,#3795e5,#349de3,#30a4e1,#2dabdf,#29b2dd,#26badb,#22c1d9,#1ecad6,#1fd2d0,#28d7c2,#32deb3,#3de5a2,#49ec91,#53f381,#5cf973,#66fb6a,#70fa65,#7bf85f,#88f559,#99f250,#b0ef46,#c9ea39,#d9dc34,#e3ca32,#ecbb30,#f3ae2f,#f8a62e,#fc9f2e,#fe9b2d,#fd972c,#fb942b,#fb922a,#fa9029,#f98e28,#f88c27,#f78926,#f68625,#f58324,#f47f22,#f27c21,#f17820,#f0741e,#ee711d,#ed6d1b,#eb691a,#ea6418,#e85f16,#e65a14,#e45612,#e35111,#e14e0f,#e04a0e,#df470d,#de450c,#dd420a,#dc3f09,#db3c08,#da3907,#d73707,#d53607,#d33507,#d23407,#d13406,#d03306,#d03306,#cf3306,#cf3206,#ce3206,#cd3106,#cb3106)"></i>
<i style="background:linear-gradient(90deg,#3b418f,#3b4392,#3c479a,#3e4da5,#3f55b3,#415ec4,#4468d6,#4673e9,#437dec,#3f86e9,#3a8fe7,#3797e5,#339fe3,#2fa6e1,#2caddf,#29b4dd,#25bbdb,#22c2d9,#1ecbd6,#20d2ce,#29d8c1,#33dfb1,#3ee6a1,#49ed90,#54f480,#5dfa72,#67fb69,#72f964,#7df75f,#8af558,#9bf250,#b1ee45,#caea38,#dadb33,#e4ca32,#edba30,#f4ae2f,#f9a52e,#fc9f2e,#fe9a2d,#fc962b,#fb932a,#fa9129,#f98f28,#f98d28,#f88a27,#f78826,#f68525,#f58223,#f37e22,#f27b21,#f1771f,#f0741e,#ee701d,#ed6c1b,#eb6819,#e96318,#e85e16,#e65a14,#e45512,#e35010,#e14d0f,#e0490d,#df460c,#de430b,#dd400a,#dc3d09,#da3b08,#d93807,#d63707,#d43607,#d33507,#d13406,#d03306,#cf3306,#cf3206,#ce3206,#cd3206,#cc3106,#cb3106,#ca3006)"></i>
<i style="background:linear-gradient(90deg,#3b4292,#3c4495,#3c489c,#3e4ea7,#4056b5,#4260c6,#446ad8,#4674ec,#427eec,#3e88e9,#3a91e6,#3699e4,#32a0e2,#2fa7e0,#2caede,#28b5dc,#25bcda,#21c4d8,#1dccd6,#21d3cd,#2ad9c0,#34dfb0,#3fe69f,#4aee8e,#55f47e,#5efa70,#69fb68,#74f963,#7ef75e,#8bf557,#9cf24f,#b2ee44,#cbea38,#dadb33,#e4ca32,#edba30,#f3ae2f,#f9a52e,#fc9f2e,#fe9a2d,#fc962b,#fb922a,#fa9029,#f98e28,#f88b27,#f78926,#f68625,#f58424,#f48023,#f37d22,#f27a20,#f1771f,#ef731e,#ee701c,#ed6c1b,#eb6819,#e96317,#e75e15,#e65913,#e45412,#e24f10,#e14c0e,#df480d,#de450c,#dd420a,#dc3f09,#db3c08,#da3907,#d83807,#d63607,#d43507,#d23406,#d03306,#cf3306,#ce3206,#cd3206,#cd3106,#cc3106,#cb3006,#ca3006,#c92f06)"></i>
<i style="background:linear-gradient(90deg,#3c4495,#3c4597,#3d499e,#3e50a9,#4058b8,#4261c9,#446bdb,#4676ee,#4280eb,#3d8ae8,#3993e6,#359be4,#31a2e2,#2ea9e0,#2bafde,#28b6dc,#24bdda,#21c5d8,#1ccdd5,#21d3cc,#2ad9be,#35e0af,#40e79e,#4bee8d,#56f57d,#60fb6f,#6bfb67,#76f962,#80f75d,#8df556,#9ef24e,#b3ee44,#ccea38,#dadb33,#e4ca32,#ecbb30,#f3af2f,#f8a62e,#fc9f2e,#fe9a2d,#fc962b,#fb922a,#fa8f29,#f98d28,#f88a27,#f78826,#f68525,#f58224,#f47f23,#f37c21,#f17920,#f0761f,#ef731e,#ee6f1c,#ec6b1b,#eb6719,#e96217,#e75d15,#e55813,#e45311,#e24f0f,#e04b0e,#df470c,#de440b,#dd410a,#dc3e09,#db3b08,#d93807,#d73707,#d53607,#d33507,#d13406,#cf3306,#ce3206,#cd3206,#cc3106,#cb3106,#ca3006,#c93006,#c92f06,#c82f06)"></i>
<i style="background:linear-gradient(90deg,#3c4697,#3c479a,#3d4ba1,#3e51ac,#4059bb,#4263cc,#456dde,#4678ed,#4182eb,#3c8be8,#3894e5,#349ce3,#30a4e1,#2daadf,#2ab1dd,#27b8dc,#24beda,#20c6d8,#1ccfd5,#22d4ca,#2bdabd,#36e0ad,#41e89c,#4cef8b,#57f67b,#61fc6d,#6dfa66,#78f861,#83f65c,#8ff455,#a0f14d,#b5ee43,#cdea37,#dadb33,#e3ca32,#ecbb30,#f3b02f,#f8a72f,#fca02e,#fe9b2d,#fc962b,#fb922a,#f98e28,#f88c27,#f78926,#f68725,#f68424,#f58123,#f37e22,#f27b21,#f17820,#f0751f,#ef721d,#ee6e1c,#ec6b1a,#eb6619,#e96217,#e75d15,#e55813,#e35211,#e24e0f,#e04a0d,#df460c,#dd420b,#dc3f09,#db3c08,#da3a07,#d83807,#d63607,#d43507,#d23406,#d03306,#cf3206,#cd3206,#cc3106,#cb3006,#ca3006,#c92f06,#c82f06,#c72e06,#c62e06)"></i>
<i style="background:linear-gradient(90deg,#3c479b,#3d499d,#3d4da4,#3f53af,#415bbe,#4364cf,#456fe2,#4579ed,#4083ea,#3b8de7,#3796e5,#339ee3,#30a5e1,#2cacdf,#29b2dd,#26b9db,#23c0d9,#1fc7d7,#1cd0d4,#23d5c9,#2cdabb,#37e1ac,#42e89b,#4ef08a,#58f779,#62fc6c,#6ffa65,#7af860,#85f65a,#92f454,#a2f14c,#b6ee42,#cdea37,#dadb33,#e3cb32,#ebbd31,#f2b12f,#f7a82f,#fba12e,#fe9b2d,#fc962b,#fb922a,#f98e28,#f88b27,#f78826,#f68625,#f58324,#f48023,#f37d22,#f27a21,#f1781f,#f0751e,#ef711d,#ed6e1c,#ec6a1a,#ea6619,#e96117,#e75c15,#e55713,#e35211,#e14d0f,#e0490d,#de450c,#dd410a,#dc3e09,#db3b08,#da3907,#d73707,#d53607,#d33507,#d13406,#cf3306,#ce3206,#cc3106,#cb3006,#c93006,#c82f06,#c72e06,#c62e06,#c62d06,#c52d06)"></i>
<i style="background:linear-gradient(90deg,#3d499e,#3d4aa0,#3e4ea7,#3f55b3,#415dc1,#4366d2,#4671e5,#447bec,#3f85ea,#3a8fe7,#3698e4,#32a0e2,#2fa7e0,#2caede,#29b4dd,#26badb,#22c1d9,#1fc9d7,#1dd0d3,#24d5c7,#2ddbba,#38e2aa,#43e999,#4ff088,#5af778,#64fc6b,#71f964,#7df75f,#88f659,#94f353,#a4f14b,#b7ed42,#cee937,#dadb33,#e3cc32,#ebbe31,#f1b230,#f6a92f,#fba22e,#fe9c2e,#fc962c,#fb922a,#f98e28,#f88a27,#f78726,#f68424,#f58223,#f47f22,#f37c21,#f27a20,#f1771f,#f0741e,#ee711d,#ed6d1b,#ec6a1a,#ea6518,#e86116,#e75b14,#e55612,#e35110,#e14c0f,#df480d,#de440b,#dd400a,#db3d09,#da3a07,#d93807,#d63707,#d43507,#d23407,#d03306,#cf3206,#cd3106,#cb3106,#ca3006,#c82f06,#c72e06,#c62e06,#c52d06,#c42d06,#c42c06)"></i>
<i style="background:linear-gradient(90deg,#3d4ba1,#3d4ca4,#3e50ab,#4057b6,#425fc5,#4469d6,#4673e9,#437dec,#3e87e9,#3a91e6,#359ae4,#31a2e2,#2ea9e0,#2bafde,#28b6dc,#25bcda,#22c3d8,#1ecad6,#1ed1d1,#26d6c6,#2fdcb8,#39e2a8,#44ea97,#50f186,#5bf876,#67fb69,#74f963,#7ff75d,#8af558,#97f352,#a6f04a,#b9ed41,#cee936,#d9dc33,#e2cd32,#eabf31,#f0b430,#f6aa2f,#faa32e,#fd9d2e,#fc972c,#fb922a,#f98d28,#f88a26,#f68625,#f58324,#f48123,#f37e22,#f27b21,#f17920,#f0761f,#ef731e,#ee701d,#ed6d1b,#ec691a,#ea6518,#e86016,#e65b14,#e45612,#e35110,#e14c0e,#df470c,#de430b,#dc3f09,#db3c08,#da3907,#d83707,#d53607,#d33507,#d13406,#d03306,#ce3206,#cc3106,#ca3006,#c92f06,#c72e06,#c62e06,#c52d06,#c42c06,#c32c06,#c32c06)"></i>
<i style="background:linear-gradient(90deg,#3d4da4,#3e4ea7,#3f53af,#4059bb,#4261c9,#446bdb,#4776ee,#427feb,#3d89e8,#3993e6,#349ce3,#30a4e1,#2dabdf,#2ab1dd,#27b7dc,#24beda,#21c4d8,#1dccd6,#1fd2cf,#27d7c4,#30ddb6,#3ae3a7,#45ea96,#51f284,#5cf974,#69fb68,#76f962,#82f75c,#8df556,#9af250,#a8f049,#bbed40,#cfe936,#d9dc33,#e2cd32,#e9c031,#f0b530,#f5ac2f,#f9a42e,#fd9d2e,#fd972c,#fb922a,#f98d28,#f78926,#f68525,#f58224,#f48023,#f37d22,#f27a21,#f17820,#f0751f,#ef731d,#ee6f1c,#ed6c1b,#eb6819,#ea6418,#e85f16,#e65a14,#e45512,#e25010,#e04b0e,#df460c,#dd420b,#dc3e09,#db3b08,#d93807,#d73707,#d43607,#d33507,#d13406,#cf3306,#cd3206,#cb3106,#c93006,#c82f06,#c62e06,#c52d06,#c32c06,#c22c06,#c22b06,#c12b06)"></i>
<i style="background:linear-gradient(90deg,#3e4fa8,#3e51ab,#3f55b3,#415cbf,#4364ce,#456ee0,#4678ed,#4182eb,#3c8ce8,#3795e5,#339ee3,#30a6e1,#2caddf,#29b3dd,#26b9db,#23bfd9,#20c6d8,#1ccdd6,#20d3ce,#28d7c2,#31ddb5,#3be4a5,#47eb94,#52f382,#5efa72,#6bfa67,#79f860,#85f65b,#90f455,#9cf24f,#abef48,#bcec3f,#d0e936,#d9dc34,#e1ce32,#e9c131,#efb630,#f4ad2f,#f9a52e,#fd9e2e,#fd982c,#fb922a,#f98c28,#f78826,#f68424,#f58123,#f37e22,#f37c21,#f27a20,#f1771f,#f0751e,#ef721d,#ee6f1c,#ec6b1b,#eb6819,#e96318,#e85f16,#e65a14,#e45512,#e24f10,#e04a0e,#df460c,#dd410a,#dc3d09,#da3a07,#d83807,#d63607,#d43507,#d23406,#d03306,#ce3206,#cd3106,#cb3006,#c92f06,#c72e06,#c52d06,#c32c06,#c22c06,#c12b06,#c12b06,#c02b06)"></i>
<i style="background:linear-gradient(90deg,#3e50ab,#3f53af,#4058b8,#415ec4,#4367d4,#4671e5,#447bed,#3f85ea,#3b8ee7,#3698e4,#32a0e2,#2ea8e0,#2bafde,#28b5dc,#25bbdb,#22c1d9,#1fc7d7,#1ccfd5,#21d3cc,#29d8c0,#32deb3,#3de5a3,#48ec92,#54f480,#5ffb6f,#6efa66,#7cf85f,#88f659,#93f454,#9ff14e,#adef47,#beec3e,#d1e935,#d9dc34,#e1cf32,#e8c231,#eeb730,#f4ae2f,#f8a52e,#fc9f2e,#fd982c,#fa912a,#f88c27,#f78726,#f58424,#f48023,#f37d22,#f27b21,#f17920,#f0761f,#f0741e,#ef711d,#ed6e1c,#ec6b1a,#eb6719,#e96317,#e85e15,#e65914,#e45412,#e24f10,#e04a0e,#de450c,#dd410a,#db3d08,#da3907,#d73707,#d53607,#d33507,#d13406,#cf3306,#ce3206,#cc3106,#ca3006,#c82f06,#c62e06,#c42d06,#c32c06,#c12b06,#c02a06,#c02a06,#bf2a06)"></i>
<i style="background:linear-gradient(90deg,#3f52ae,#3f55b3,#415abd,#4261ca,#446ad9,#4674eb,#437eec,#3e87e9,#3991e6,#359ae4,#31a3e1,#2daadf,#2ab1dd,#27b7dc,#24bdda,#22c3d8,#1ec9d7,#1cd0d4,#23d4ca,#2ad9bf,#33dfb1,#3ee6a1,#49ed90,#55f57e,#61fc6d,#71fa65,#7ff75e,#8bf558,#96f352,#a2f14c,#b0ef45,#c0ec3d,#d2e935,#d9dc33,#e1cf32,#e8c331,#eeb830,#f3ae2f,#f8a62e,#fc9f2e,#fd982c,#fa9129,#f88b27,#f68725,#f58324,#f47f22,#f37d21,#f27a20,#f17820,#f0761f,#ef731e,#ee701d,#ed6d1b,#ec6a1a,#ea6619,#e96217,#e75d15,#e55813,#e45311,#e24e0f,#e0490d,#de450c,#dd400a,#db3c08,#da3807,#d73707,#d43607,#d23407,#d13306,#cf3306,#cd3206,#cb3106,#c93006,#c72e06,#c52d06,#c42c06,#c22b06,#c12b06,#bf2a06,#bf2a06,#bf2a06)"></i>
<i style="background:linear-gradient(90deg,#3f54b2,#4058b8,#415dc2,#4365cf,#456edf,#4677ed,#4181eb,#3d8be8,#3894e5,#349de3,#30a6e1,#2caddf,#29b3dd,#26b9db,#24beda,#21c4d8,#1ecbd6,#1dd1d2,#24d5c8,#2cdabd,#35e0af,#3fe79f,#4bee8e,#57f67c,#63fc6b,#73f963,#81f75c,#8ef556,#99f351,#a5f04b,#b3ee44,#c2eb3c,#d3e835,#dadb33,#e1cf32,#e7c331,#eeb830,#f3af2f,#f8a62e,#fc9f2e,#fd972c,#fa9029,#f88b27,#f68625,#f58223,#f37e22,#f27c21,#f27920,#f1771f,#f0751e,#ef721d,#ee701c,#ed6d1b,#ec691a,#ea6518,#e96117,#e75c15,#e55813,#e35311,#e24e0f,#e0490d,#de440b,#dc400a,#db3c08,#d93807,#d63707,#d43507,#d23406,#d03306,#ce3206,#cd3106,#cb3006,#c92f06,#c72e06,#c52d06,#c32c06,#c12b06,#c02a06,#bf2a06,#be2906,#be2906)"></i>
<i style="background:linear-gradient(90deg,#4056b5,#405abc,#4260c7,#4468d5,#4671e6,#447bed,#4084ea,#3b8ee7,#3698e4,#32a1e2,#2ea9e0,#2bafde,#28b5dc,#25bbdb,#23c0d9,#20c6d8,#1dccd6,#1ed1d0,#25d6c6,#2ddbbb,#36e1ad,#41e79d,#4cef8b,#58f779,#65fb6a,#76f962,#84f65b,#91f455,#9cf24f,#a8f049,#b5ee43,#c4eb3b,#d3e735,#dadb33,#e1cf32,#e7c331,#eeb930,#f3af2f,#f8a62e,#fc9e2e,#fc972c,#fa9029,#f88a27,#f68525,#f48123,#f37e22,#f27b21,#f17820,#f0761f,#f0741e,#ef721d,#ee6f1c,#ed6c1b,#eb6819,#ea6418,#e86016,#e75c15,#e55713,#e35211,#e14d0f,#e0490d,#de440b,#dc3f0a,#db3b08,#d93807,#d63607,#d33507,#d13406,#cf3306,#ce3206,#cc3106,#cb3006,#c92f06,#c72e06,#c52d06,#c32c06,#c12b06,#c02a06,#be2a06,#be2906,#bd2906)"></i>
<i style="background:linear-gradient(90deg,#4058b8,#415cc1,#4263cd,#446bdb,#4675ec,#437eec,#3e88e9,#3991e6,#359be4,#30a4e1,#2dacdf,#2ab2dd,#27b8dc,#24bdda,#22c2d9,#1fc8d7,#1cced5,#20d2ce,#26d7c4,#2edcb9,#38e2ab,#42e89a,#4ef089,#5af877,#68fb69,#79f860,#87f659,#94f353,#9ff14e,#abef48,#b8ed41,#c6eb3a,#d4e634,#dada33,#e1ce32,#e7c331,#eeb930,#f3af2f,#f8a62e,#fd9e2e,#fc962b,#f98f29,#f78926,#f58424,#f48023,#f37d21,#f27a20,#f17820,#f0761f,#ef731e,#ef711d,#ed6e1c,#ec6b1a,#eb6719,#e96317,#e85f16,#e65b14,#e55612,#e35211,#e14d0f,#e0480d,#de440b,#dc3f09,#db3b08,#d83807,#d53607,#d33507,#d13406,#cf3306,#ce3206,#cc3106,#ca3006,#c82f06,#c62e06,#c42d06,#c32c06,#c12b06,#bf2a06,#be2906,#bd2906,#bd2906)"></i>
<i style="background:linear-gradient(90deg,#405abc,#425fc5,#4366d2,#456fe1,#4578ed,#4182eb,#3c8be8,#3895e5,#339ee3,#2fa7e0,#2bafde,#28b5dc,#26badb,#23bfd9,#21c4d8,#1ec9d7,#1bcfd5,#21d3cd,#28d7c2,#30dcb7,#39e2a8,#44e998,#50f186,#5cf974,#6bfb67,#7cf85f,#8af558,#97f352,#a2f14c,#aeef46,#bbed40,#c9ea39,#d4e434,#dbd933,#e1ce32,#e8c331,#eeb830,#f3ae2f,#f8a52e,#fd9d2e,#fc952b,#f98e28,#f78826,#f58324,#f47f22,#f27c21,#f27920,#f1771f,#f0751e,#ef731e,#ee701d,#ed6d1b,#ec6a1a,#eb6619,#e96217,#e85e15,#e65a14,#e45512,#e35110,#e14d0f,#df480d,#de430b,#dc3f09,#da3b08,#d83807,#d53607,#d23407,#d03306,#cf3206,#cd3206,#cc3106,#ca3006,#c82f06,#c62e06,#c42d06,#c22c06,#c12b06,#bf2a06,#be2906,#bd2906,#bd2906)"></i>
<i style="background:linear-gradient(90deg,#415bbf,#4261c9,#4469d7,#4672e7,#447bec,#3f85ea,#3b8fe7,#3699e4,#31a2e2,#2daadf,#2ab2dd,#27b7dc,#25bcda,#22c1d9,#20c6d8,#1ecbd6,#1cd0d3,#22d4cb,#29d8c1,#31ddb4,#3be3a6,#46ea96,#51f284,#5dfa72,#6efa66,#7ff75e,#8df556,#9af250,#a5f04b,#b1ee45,#bdec3f,#cbea38,#d5e334,#dbd833,#e2cd32,#e8c231,#eeb830,#f4ae2f,#f9a52e,#fd9d2e,#fb942b,#f98d28,#f68725,#f58223,#f37e22,#f27b21,#f17820,#f0761f,#f0741e,#ef721d,#ee6f1c,#ed6c1b,#ec691a,#ea6518,#e96117,#e75d15,#e65913,#e45512,#e35010,#e14c0f,#df480d,#de430b,#dc3f09,#da3a08,#d83707,#d43607,#d23406,#d03306,#ce3206,#cd3106,#cb3106,#ca3006,#c82f06,#c62e06,#c42d06,#c22c06,#c12b06,#bf2a06,#be2906,#bd2906,#bc2806)"></i>
<i style="background:linear-gradient(90deg,#415dc2,#4364cd,#446cdc,#4775ed,#427feb,#3e88e9,#3992e6,#349ce3,#30a5e1,#2cadde,#28b4dc,#26badb,#23bfda,#21c3d8,#1fc7d7,#1dccd6,#1ed1d2,#23d5c9,#2ad9bf,#32deb2,#3ce4a4,#47ec93,#53f381,#5ffb6f,#71fa64,#82f75c,#90f455,#9df24f,#a8f049,#b3ee44,#bfec3e,#cdea37,#d6e234,#dcd733,#e2cd32,#e8c231,#eeb730,#f4ad2f,#f9a42e,#fe9c2e,#fb932a,#f88b27,#f68625,#f48123,#f37d22,#f27a20,#f17820,#f0761f,#ef741e,#ef711d,#ee6f1c,#ed6c1b,#eb6819,#ea6418,#e86016,#e75c15,#e55813,#e45412,#e25010,#e14c0e,#df470d,#de430b,#dc3e09,#da3a07,#d73707,#d43507,#d23406,#cf3306,#ce3206,#cc3106,#cb3006,#c93006,#c82f06,#c62e06,#c42d06,#c22c06,#c12b06,#bf2a06,#be2906,#bd2906,#bc2806)"></i>
<i style="background:linear-gradient(90deg,#415fc4,#4366d1,#456fe1,#4578ed,#4182eb,#3c8ce8,#3796e5,#339fe2,#2ea8e0,#2ab1de,#27b7dc,#24bdda,#22c1d9,#21c5d8,#1fc9d7,#1cced5,#1fd2d0,#24d5c7,#2cdabd,#34dfb0,#3ee5a1,#49ed91,#55f47f,#61fc6d,#74f963,#85f65b,#93f454,#9ff14e,#abef48,#b6ee42,#c2eb3d,#cfe936,#d6e134,#dcd633,#e3cc32,#e9c131,#efb630,#f4ac2f,#faa32e,#fe9b2d,#fb922a,#f88a27,#f68424,#f48023,#f37c21,#f27920,#f1771f,#f0751e,#ef731e,#ee711d,#ed6e1c,#ec6b1a,#eb6719,#e96317,#e85f16,#e65b14,#e55713,#e35311,#e24f10,#e14b0e,#df470d,#dd430b,#dc3e09,#da3a07,#d73707,#d43507,#d13406,#cf3306,#ce3206,#cc3106,#cb3006,#c92f06,#c72e06,#c62e06,#c42d06,#c22c06,#c12b06,#bf2a06,#be2906,#bd2906,#bc2806)"></i>
<i style="background:linear-gradient(90deg,#4260c7,#4468d5,#4671e6,#447bed,#3f85ea,#3b8fe7,#3699e4,#31a3e1,#2dacdf,#29b4dd,#26badb,#23bfd9,#21c3d8,#20c7d7,#1ecad6,#1ccfd5,#20d2ce,#26d6c6,#2ddbbb,#35e0ae,#3fe79f,#4bee8e,#57f57c,#64fc6b,#76f962,#87f659,#96f352,#a2f14c,#adef47,#b8ed41,#c4eb3c,#d1e935,#d7e034,#ddd533,#e3cb32,#e9c031,#efb630,#f5ac2f,#faa22e,#fd992d,#fa9029,#f78926,#f58324,#f47f22,#f27b21,#f17920,#f1761f,#f0741e,#ef721d,#ee701c,#ed6d1b,#ec6a1a,#ea6619,#e96217,#e75e15,#e65a14,#e55612,#e35211,#e24f0f,#e04b0e,#df470c,#dd420b,#dc3e09,#da3a07,#d73707,#d43507,#d13406,#cf3306,#cd3206,#cc3106,#ca3006,#c92f06,#c72e06,#c62d06,#c42d06,#c22c06,#c12b06,#bf2a06,#be2906,#bd2806,#bc2806)"></i>
<i style="background:linear-gradient(90deg,#4261ca,#446ad8,#4673ea,#437dec,#3e87e9,#3992e6,#349ce3,#30a6e1,#2bafde,#28b6dc,#24bdda,#22c1d9,#20c5d8,#1fc8d7,#1dccd6,#1cd0d4,#21d3cd,#27d7c4,#2edcb9,#37e1ac,#41e89c,#4cef8b,#58f779,#66fb6a,#79f860,#8af558,#98f351,#a4f14b,#afef46,#baed40,#c6eb3b,#d2e835,#d8df34,#ded433,#e4ca32,#eabf31,#f0b530,#f6aa2f,#fba12e,#fd982c,#fa8f29,#f78826,#f58224,#f37e22,#f27b21,#f17820,#f0761f,#ef741e,#ef711d,#ee6f1c,#ed6c1b,#ec691a,#ea6518,#e96117,#e75d15,#e65913,#e45512,#e35111,#e24e0f,#e04a0e,#df460c,#dd420b,#dc3e09,#da3907,#d73707,#d33507,#d13406,#cf3206,#cd3106,#cb3106,#ca3006,#c82f06,#c72e06,#c52d06,#c42c06,#c22c06,#c12b06,#bf2a06,#be2906,#bc2806,#bb2806)"></i>
<i style="background:linear-gradient(90deg,#4263cc,#446bdb,#4775ed,#427feb,#3d8ae8,#3894e5,#339fe3,#2ea8e0,#2ab1dd,#26b9db,#23bfd9,#21c3d8,#20c7d7,#1ecad7,#1dcdd6,#1dd0d3,#22d4cb,#28d8c2,#30dcb7,#38e2a9,#43e99a,#4ef089,#5af877,#69fb68,#7cf85f,#8cf557,#9af250,#a6f04a,#b1ee45,#bcec3f,#c7eb3a,#d3e735,#d8dd34,#ded333,#e4c932,#eabe31,#f0b330,#f6a92f,#fca02e,#fc972c,#f98e28,#f68625,#f48123,#f37d22,#f27a20,#f1771f,#f0751f,#ef731e,#ee711d,#ee6e1c,#ec6b1b,#eb6819,#ea6418,#e86016,#e75c15,#e55813,#e45412,#e35110,#e14d0f,#e04a0d,#df460c,#dd420a,#db3d09,#da3907,#d63707,#d33507,#d03306,#ce3206,#cc3106,#cb3006,#ca3006,#c82f06,#c72e06,#c52d06,#c42c06,#c22c06,#c12b06,#bf2a06,#be2906,#bc2806,#bb2806)"></i>
<i style="background:linear-gradient(90deg,#4364ce,#456dde,#4677ee,#4181eb,#3c8ce8,#3796e5,#32a1e2,#2dabdf,#29b4dd,#25bbdb,#22c1d9,#20c5d8,#1fc8d7,#1ecbd6,#1cced5,#1ed1d2,#23d4ca,#29d8c0,#31ddb5,#3ae3a7,#44ea97,#50f186,#5cf974,#6cfa67,#7ef75e,#8ff456,#9cf24f,#a8f049,#b3ee44,#beec3f,#c9ea39,#d3e634,#d9dd34,#dfd233,#e5c832,#ebbd31,#f1b230,#f7a82f,#fc9f2e,#fc952b,#f88c27,#f68525,#f48023,#f37c21,#f17920,#f1771f,#f0751e,#ef721d,#ee701d,#ed6d1c,#ec6a1a,#eb6719,#e96317,#e85f16,#e65b14,#e55713,#e35311,#e25010,#e14c0f,#e0490d,#de450c,#dd410a,#db3d09,#da3907,#d63707,#d33507,#d03306,#ce3206,#cc3106,#cb3006,#c92f06,#c82f06,#c62e06,#c52d06,#c32c06,#c22b06,#c02b06,#bf2a06,#be2906,#bc2806,#bb2805)"></i>
<i style="background:linear-gradient(90deg,#4365cf,#456ee0,#4578ed,#4083ea,#3b8de7,#3698e4,#31a3e1,#2caddf,#28b6dc,#24bdda,#21c3d8,#20c7d7,#1ecad7,#1dccd6,#1ccfd5,#1ed1d0,#23d5c9,#2ad9bf,#32deb3,#3ce4a5,#46eb95,#52f283,#5efa71,#6ffa66,#81f75d,#91f455,#9ef24e,#aaf048,#b4ee43,#bfec3e,#caea39,#d4e534,#d9dc33,#dfd133,#e6c732,#ecbc31,#f2b130,#f8a72f,#fd9e2e,#fb942a,#f88b27,#f58424,#f47f22,#f27b21,#f17820,#f0761f,#f0741e,#ef721d,#ee6f1c,#ed6d1b,#ec6a1a,#ea6619,#e96217,#e75e15,#e65a14,#e45612,#e35211,#e24f10,#e14c0e,#df480d,#de450c,#dd410a,#db3c08,#d93807,#d63607,#d23407,#d03306,#ce3206,#cc3106,#ca3006,#c92f06,#c72e06,#c62e06,#c52d06,#c32c06,#c22b06,#c02b06,#bf2a06,#bd2906,#bc2806,#bb2705)"></i>
<i style="background:linear-gradient(90deg,#4366d1,#456fe2,#4579ed,#4084ea,#3b8fe7,#359ae4,#30a4e1,#2baede,#27b7dc,#24bfda,#21c4d8,#1fc8d7,#1ecbd6,#1dcdd6,#1cd0d5,#1fd2d0,#24d5c8,#2bdabd,#33dfb1,#3de5a2,#48ec92,#53f381,#5ffb6f,#71f964,#83f65c,#93f454,#a0f14d,#abef48,#b5ee43,#c0ec3e,#cbea38,#d4e534,#dadb33,#e0d032,#e6c531,#ecbb30,#f3b02f,#f8a62e,#fe9c2e,#fb922a,#f78926,#f58324,#f37e22,#f27a21,#f17820,#f0751f,#ef731e,#ef711d,#ee6f1c,#ed6c1b,#eb691a,#ea6518,#e96117,#e75d15,#e65913,#e45512,#e35110,#e24e0f,#e04b0e,#df470d,#de440b,#dc400a,#db3c08,#d93807,#d53607,#d23406,#cf3306,#cd3206,#cb3106,#ca3006,#c82f06,#c72e06,#c62d06,#c42d06,#c32c06,#c12b06,#c02a06,#bf2a06,#bd2906,#bc2806,#ba2705)"></i>
<i style="background:linear-gradient(90deg,#4366d2,#4570e3,#457aed,#3f85ea,#3a90e7,#359be4,#30a5e1,#2bafde,#27b8db,#23c0d9,#20c5d8,#1ec9d7,#1dcbd6,#1cced5,#1cd0d4,#1fd2cf,#25d6c7,#2cdabc,#35e0af,#3fe6a0,#4aed8f,#55f57e,#61fc6c,#74f963,#85f65a,#94f353,#a1f14d,#acef47,#b6ee42,#c0ec3d,#cbea38,#d4e434,#dada33,#e0d032,#e7c431,#edb930,#f3af2f,#f9a42e,#fe9b2d,#fa9129,#f78826,#f58223,#f37d22,#f27a20,#f1771f,#f0751e,#ef731e,#ee701d,#ed6e1c,#ec6b1b,#eb6819,#ea6418,#e86016,#e75c15,#e55813,#e45412,#e35010,#e14d0f,#e04a0e,#df460c,#de430b,#dc3f09,#db3b08,#d83807,#d53607,#d23406,#cf3306,#cd3106,#cb3006,#c93006,#c82f06,#c72e06,#c52d06,#c42c06,#c22c06,#c12b06,#c02a06,#be2906,#bd2906,#bb2806,#ba2705)"></i>
<i style="background:linear-gradient(90deg,#4367d3,#4570e4,#447aed,#3f85ea,#3a90e7,#359be3,#2fa6e0,#2ab0de,#26b9db,#23c1d9,#20c6d7,#1ecad6,#1dccd6,#1cced5,#1cd0d4,#20d2ce,#25d6c6,#2ddbba,#36e1ad,#40e79d,#4bee8d,#57f67b,#64fc6b,#76f962,#87f659,#96f352,#a2f14c,#adef47,#b7ed42,#c1ec3d,#ccea38,#d5e434,#dbda33,#e1cf32,#e7c331,#eeb830,#f4ad2f,#faa32e,#fd992d,#fa8f29,#f78725,#f48123,#f37c21,#f17920,#f1761f,#f0741e,#ef721d,#ee701c,#ed6d1b,#ec6a1a,#eb6719,#e96317,#e85f16,#e65b14,#e55713,#e45311,#e25010,#e14c0f,#e0490d,#df460c,#dd420b,#dc3e09,#da3a08,#d83707,#d43607,#d13406,#ce3206,#cc3106,#ca3006,#c92f06,#c72e06,#c62e06,#c52d06,#c32c06,#c22b06,#c12b06,#bf2a06,#be2906,#bc2806,#bb2805,#b92705)"></i>
<i style="background:linear-gradient(90deg,#4367d4,#4570e4,#447bed,#3f85ea,#3a90e7,#349be3,#2fa6e0,#2ab1de,#26badb,#22c1d9,#20c7d7,#1ecad6,#1dccd6,#1cced5,#1cd0d3,#20d3ce,#26d6c5,#2edbb9,#37e1ab,#42e89b,#4def8a,#59f779,#67fb69,#78f861,#89f559,#97f351,#a3f14c,#adef47,#b7ed42,#c1ec3d,#ccea38,#d5e434,#dbd933,#e1ce32,#e8c231,#eeb730,#f5ac2f,#fba22e,#fd982c,#f98e28,#f68625,#f48023,#f27b21,#f17820,#f0761f,#f0741e,#ef721d,#ee6f1c,#ed6c1b,#ec691a,#ea6618,#e96217,#e85e16,#e65a14,#e55612,#e35211,#e24f10,#e14b0e,#df480d,#de450c,#dd410a,#dc3d09,#da3a07,#d73707,#d43507,#d13406,#ce3206,#cc3106,#ca3006,#c82f06,#c72e06,#c62d06,#c42d06,#c32c06,#c22b06,#c02b06,#bf2a06,#bd2906,#bc2806,#ba2705,#b92605)"></i>
<i style="background:linear-gradient(90deg,#4468d5,#4571e5,#447bed,#3f85ea,#3a90e7,#349be3,#2fa6e0,#2ab1dd,#26badb,#22c1d9,#20c7d7,#1ecad6,#1dccd6,#1cced5,#1dd0d3,#20d3cd,#27d7c4,#2fdcb8,#39e2a9,#43e999,#4ff187,#5bf876,#69fb68,#7bf860,#8bf558,#99f351,#a4f14b,#aeef46,#b7ed42,#c1ec3d,#ccea38,#d5e334,#dbd933,#e2cd32,#e9c131,#efb630,#f6ab2f,#fba02e,#fc962b,#f98c28,#f68525,#f47f22,#f27b21,#f17820,#f0751f,#ef731e,#ef711d,#ee6e1c,#ec6b1b,#eb6819,#ea6518,#e96117,#e75d15,#e65914,#e45512,#e35211,#e24e0f,#e04b0e,#df470d,#de440b,#dd400a,#db3c08,#da3907,#d63707,#d33507,#d03306,#ce3206,#cb3106,#ca3006,#c82f06,#c62e06,#c52d06,#c42c06,#c22c06,#c12b06,#c02a06,#be2a06,#bd2906,#bc2806,#ba2705,#b82605)"></i>
<i style="background:linear-gradient(90deg,#4468d5,#4571e5,#447aed,#3f85ea,#3a90e7,#359be3,#2fa6e0,#2ab1de,#26badb,#22c1d9,#20c7d7,#1ecad6,#1dccd6,#1cced5,#1cd0d3,#20d3cd,#27d7c4,#30dcb7,#3ae3a7,#45ea97,#51f285,#5cf973,#6cfa67,#7df75e,#8cf557,#9af250,#a5f14b,#aeef46,#b7ed42,#c1ec3d,#ccea38,#d5e334,#dbd833,#e2cc32,#e9c031,#f0b430,#f6a92f,#fc9f2e,#fc952b,#f88b27,#f58324,#f37e22,#f27a20,#f1771f,#f0751e,#ef731e,#ee711d,#ed6e1c,#ec6b1a,#eb6719,#ea6418,#e86016,#e75c15,#e65913,#e45512,#e35110,#e14d0f,#e04a0e,#df460c,#de430b,#dc3f09,#db3c08,#d93807,#d63607,#d33507,#d03306,#cd3206,#cb3006,#c92f06,#c82f06,#c62e06,#c52d06,#c32c06,#c22b06,#c12b06,#bf2a06,#be2906,#bd2806,#bb2805,#ba2705,#b82605)"></i>
<i style="background:linear-gradient(90deg,#4468d6,#4570e5,#457aed,#4084ea,#3a8fe7,#359be4,#30a6e1,#2bb0de,#26b9db,#22c1d9,#20c6d7,#1ecad7,#1dccd6,#1cced5,#1cd0d4,#20d3cd,#27d7c3,#30ddb6,#3be4a6,#46eb94,#52f382,#5efa71,#6efa66,#7ff75d,#8ef456,#9bf250,#a5f04b,#aeef46,#b7ed42,#c0ec3d,#ccea38,#d5e334,#dcd833,#e3cc32,#eabf31,#f1b330,#f7a82f,#fd9e2e,#fb932a,#f88a27,#f58224,#f37d22,#f27920,#f1771f,#f0751e,#ef731e,#ee701d,#ed6d1b,#ec6a1a,#eb6719,#e96317,#e85f16,#e75c15,#e55813,#e45412,#e35010,#e14d0f,#e0490d,#df460c,#dd420a,#dc3e09,#db3b08,#d83807,#d53607,#d23406,#cf3306,#cd3106,#cb3006,#c92f06,#c72e06,#c62d06,#c42d06,#c32c06,#c12b06,#c02a06,#bf2a06,#bd2906,#bc2806,#bb2705,#b92705,#b72605)"></i>
<i style="background:linear-gradient(90deg,#4468d6,#4570e4,#457aed,#4084ea,#3b8fe7,#359ae4,#30a5e1,#2bafde,#26b8db,#23c0d9,#20c6d8,#1fc9d7,#1ecbd6,#1dcdd6,#1cd0d4,#20d3cd,#28d7c3,#31ddb4,#3ce4a4,#48ec92,#54f480,#60fb6e,#71fa64,#81f75c,#90f455,#9cf24f,#a6f04a,#aeef46,#b7ed42,#c0ec3d,#ccea38,#d5e334,#dcd733,#e3cb32,#eabe31,#f1b230,#f8a72f,#fd9d2e,#fb922a,#f78926,#f58223,#f37c21,#f17920,#f0761f,#f0741e,#ef721d,#ee701c,#ed6d1b,#ec691a,#ea6619,#e96217,#e85f16,#e65b14,#e55713,#e45411,#e25010,#e14c0f,#e0490d,#de450c,#dd410a,#dc3d09,#da3a07,#d83707,#d53607,#d23406,#cf3306,#cc3106,#ca3006,#c82f06,#c72e06,#c52d06,#c42c06,#c22c06,#c12b06,#c02a06,#be2906,#bd2906,#bc2806,#ba2705,#b92605,#b72505)"></i>
<i style="background:linear-gradient(90deg,#4469d7,#4570e4,#4579ed,#4083ea,#3b8ee7,#3699e4,#30a4e1,#2baede,#27b7dc,#23bfd9,#21c5d8,#1fc8d7,#1ecad6,#1dccd6,#1bd0d5,#20d3ce,#28d7c2,#32deb4,#3de5a2,#49ed90,#56f57d,#62fc6c,#73f963,#83f65b,#91f455,#9df24f,#a6f04a,#afef46,#b7ed42,#c0ec3d,#ccea38,#d5e334,#dcd733,#e4ca32,#ebbd31,#f2b12f,#f9a52e,#fe9b2d,#fa9129,#f78826,#f48123,#f37c21,#f17820,#f0761f,#f0741e,#ef721d,#ee6f1c,#ed6c1b,#ec691a,#ea6518,#e96217,#e75e15,#e65a14,#e55713,#e45311,#e25010,#e14c0e,#df480d,#de440b,#dd400a,#db3d08,#da3907,#d73707,#d43507,#d13406,#cf3206,#cc3106,#ca3006,#c82f06,#c62e06,#c52d06,#c32c06,#c22b06,#c12b06,#bf2a06,#be2906,#bd2906,#bb2806,#ba2705,#b82605,#b72505)"></i>
<i style="background:linear-gradient(90deg,#4469d7,#4570e3,#4579ed,#4182ea,#3b8de7,#3698e4,#31a3e1,#2caddf,#28b6dc,#24beda,#21c3d8,#20c7d7,#1fc9d7,#1ecbd6,#1ccfd5,#20d2ce,#28d7c2,#32deb3,#3ee6a1,#4bee8e,#57f67b,#64fc6b,#75f962,#85f65b,#92f454,#9ef24e,#a7f04a,#afef46,#b7ed42,#c0ec3e,#ccea38,#d6e234,#dcd633,#e4c932,#ecbc31,#f3af2f,#f9a42e,#fe9a2d,#fa8f29,#f78725,#f48023,#f27b21,#f17820,#f0761f,#f0741e,#ef721d,#ee6f1c,#ed6c1b,#eb681a,#ea6518,#e96117,#e75d15,#e65a14,#e55612,#e35311,#e24f10,#e14b0e,#df480d,#de440b,#dc400a,#db3c08,#da3907,#d63707,#d33507,#d13406,#ce3206,#cc3106,#ca3006,#c82f06,#c62e06,#c52d06,#c32c06,#c22b06,#c02b06,#bf2a06,#be2906,#bc2806,#bb2805,#b92705,#b82605,#b62505)"></i>
<i style="background:linear-gradient(90deg,#4469d7,#4570e3,#4578ed,#4181eb,#3c8ce8,#3796e5,#32a1e2,#2dabdf,#28b4dc,#25bcda,#22c2d9,#20c5d8,#1fc7d7,#1ecad6,#1cced5,#1fd2cf,#28d7c2,#33deb2,#3fe69f,#4cef8c,#59f779,#67fb69,#78f861,#87f65a,#94f353,#9ef24e,#a7f04a,#afef46,#b7ed42,#c0ec3e,#ccea38,#d6e234,#ddd633,#e4c832,#ecbb30,#f4ae2f,#faa32e,#fd992c,#f98e28,#f68625,#f48023,#f27b21,#f17820,#f0761f,#ef741e,#ef721d,#ee6f1c,#ed6c1b,#eb6819,#ea6418,#e86016,#e75d15,#e65914,#e55612,#e35311,#e24f10,#e14b0e,#df470d,#de430b,#dc3f09,#db3b08,#d93807,#d63607,#d33507,#d03306,#ce3206,#cc3106,#ca3006,#c82f06,#c62e06,#c42d06,#c32c06,#c12b06,#c02a06,#bf2a06,#bd2906,#bc2806,#bb2705,#b92705,#b82605,#b62505)"></i>
<i style="background:linear-gradient(90deg,#4469d8,#456fe3,#4678ed,#4181eb,#3d8be8,#3795e5,#32a0e2,#2eaadf,#29b3dd,#26badb,#23c0d9,#21c3d8,#20c6d8,#1fc8d7,#1dcdd6,#1fd2d0,#28d7c2,#33dfb1,#40e79e,#4def8a,#5af877,#69fb68,#7af860,#88f559,#95f353,#9ff14e,#a8f04a,#afef46,#b7ed42,#c0ec3d,#ccea37,#d6e234,#ddd533,#e5c732,#edba30,#f4ad2f,#fba22e,#fd972c,#f98d28,#f68525,#f47f22,#f27b21,#f17820,#f0751f,#ef741e,#ef711d,#ee6f1c,#ec6b1b,#eb6819,#ea6418,#e86016,#e75d15,#e65914,#e55612,#e35211,#e24f10,#e04b0e,#df470c,#de430b,#dc3f09,#db3b08,#d93807,#d63607,#d33507,#d03306,#ce3206,#cc3106,#ca3006,#c82f06,#c62e06,#c42d06,#c32c06,#c12b06,#c02a06,#be2a06,#bd2906,#bc2806,#ba2705,#b92705,#b72605,#b62505)"></i>
<i style="background:linear-gradient(90deg,#446ad8,#456fe2,#4677ee,#4280eb,#3d89e8,#3894e6,#339ee3,#2fa8e0,#2ab1de,#27b8db,#24beda,#22c1d9,#21c4d8,#20c7d7,#1dcbd6,#1ed1d1,#28d7c3,#33dfb1,#41e79d,#4ef088,#5cf974,#6bfa67,#7cf85f,#8af558,#96f352,#a0f14d,#a8f049,#afef46,#b7ed42,#c0ec3d,#cdea37,#d6e134,#ded433,#e6c631,#eeb930,#f5ac2f,#fba12e,#fc962b,#f98c28,#f68525,#f47f22,#f27b21,#f1781f,#f0751f,#ef741e,#ef711d,#ee6f1c,#ec6b1b,#eb6719,#ea6418,#e86016,#e75c15,#e65914,#e45612,#e35211,#e24f10,#e04b0e,#df470c,#dd430b,#dc3f09,#db3b08,#d83807,#d53607,#d33507,#d03306,#ce3206,#cc3106,#ca3006,#c82f06,#c62e06,#c42d06,#c32c06,#c12b06,#c02a06,#be2906,#bd2906,#bc2806,#ba2705,#b92605,#b72605,#b62505)"></i>
<i style="background:linear-gradient(90deg,#446ad9,#456fe2,#4677ee,#427feb,#3e88e9,#3992e6,#349ce3,#30a6e1,#2baede,#28b6dc,#25bbdb,#23bfda,#22c2d9,#21c5d8,#1ecad6,#1ed1d2,#27d7c3,#34dfb1,#41e89c,#50f187,#5df973,#6dfa66,#7ef75e,#8cf557,#97f352,#a1f14d,#a9f049,#b0ef46,#b7ed42,#c1ec3d,#cde937,#d7e134,#ded333,#e6c531,#eeb730,#f6aa2f,#fc9f2e,#fc952b,#f88b27,#f68424,#f37e22,#f27a21,#f1781f,#f0761f,#ef741e,#ef711d,#ee6f1c,#ec6b1b,#eb6719,#ea6318,#e86016,#e75c15,#e65913,#e45612,#e35211,#e24f10,#e04b0e,#df470c,#dd430b,#dc3e09,#da3b08,#d83807,#d53607,#d33507,#d03306,#ce3206,#cc3106,#ca3006,#c82f06,#c62e06,#c42d06,#c32c06,#c12b06,#c02a06,#be2906,#bd2906,#bc2806,#ba2705,#b92605,#b72605,#b62505)"></i>
<i style="background:linear-gradient(90deg,#446ad9,#456fe2,#4676ee,#437eec,#3e87e9,#3a91e6,#359ae4,#31a4e1,#2cacdf,#29b3dd,#26b9db,#25bcda,#23bfd9,#21c3d8,#1fc8d7,#1dd0d3,#27d7c3,#34dfb0,#42e89b,#50f285,#5efa71,#6ffa65,#80f75d,#8df557,#98f351,#a1f14d,#a9f049,#b0ef45,#b8ed42,#c2ec3d,#cee936,#d7e034,#dfd333,#e7c431,#efb630,#f6a92f,#fc9e2e,#fb942b,#f88b27,#f58424,#f37e22,#f27a21,#f17820,#f0761f,#f0741e,#ef711d,#ee6f1c,#ec6b1b,#eb6719,#ea6318,#e86016,#e75c15,#e65914,#e45612,#e35211,#e24f10,#e14b0e,#df470c,#dd430b,#dc3e09,#da3b08,#d83807,#d53607,#d33507,#d03306,#ce3206,#cc3106,#ca3006,#c82f06,#c62e06,#c42d06,#c32c06,#c12b06,#c02a06,#be2906,#bd2906,#bc2806,#ba2705,#b92605,#b72605,#b62505)"></i>
<i style="background:linear-gradient(90deg,#446ada,#456fe2,#4776ee,#437dec,#3f86e9,#3a8fe7,#3698e4,#32a1e2,#2ea9df,#2ab1de,#28b6dc,#26badb,#24bdda,#22c1d9,#20c7d7,#1cd0d4,#27d7c4,#34dfb0,#43e99a,#51f284,#5ffb6f,#71f964,#81f75c,#8ef456,#99f351,#a2f14c,#aaf049,#b1ee45,#b8ed41,#c2eb3c,#cfe936,#d7df34,#dfd233,#e7c331,#efb530,#f7a82f,#fd9e2e,#fb932a,#f88a27,#f58324,#f37e22,#f27b21,#f17820,#f0761f,#f0741e,#ef721d,#ee6f1c,#ec6b1b,#eb6719,#ea6418,#e86016,#e75c15,#e65914,#e55612,#e35311,#e24f10,#e14b0e,#df470c,#dd430b,#dc3f09,#da3b08,#d83807,#d53607,#d33507,#d03306,#ce3206,#cc3106,#ca3006,#c82f06,#c62e06,#c42d06,#c32c06,#c12b06,#c02a06,#bf2a06,#bd2906,#bc2806,#ba2705,#b92605,#b72605,#b62505)"></i>
<i style="background:linear-gradient(90deg,#446bda,#456fe2,#4776ee,#437dec,#3f85ea,#3b8ee7,#3796e5,#339fe2,#2fa7e0,#2caede,#29b3dd,#27b7dc,#25bbdb,#23bfda,#20c5d8,#1ccfd5,#26d6c5,#34dfb0,#43e999,#52f383,#60fc6e,#73f964,#83f65c,#8ff455,#9af250,#a3f14c,#aaf048,#b1ee45,#b9ed41,#c3eb3c,#d0e936,#d8de34,#e0d132,#e8c231,#f0b430,#f7a72f,#fd9d2e,#fb922a,#f88a27,#f58324,#f37e22,#f27b21,#f17820,#f0761f,#f0741e,#ef721d,#ee6f1c,#ec6b1b,#eb6719,#ea6418,#e86016,#e75d15,#e65914,#e55612,#e35311,#e24f10,#e14b0e,#df470d,#de430b,#dc3f09,#db3b08,#d93807,#d53607,#d33507,#d03306,#ce3206,#cc3106,#ca3006,#c82f06,#c62e06,#c52d06,#c32c06,#c22b06,#c02a06,#bf2a06,#bd2906,#bc2806,#bb2705,#b92705,#b82605,#b62505)"></i>
<i style="background:linear-gradient(90deg,#446bdb,#456fe3,#4775ed,#447cec,#4084ea,#3c8ce8,#3894e5,#349de3,#30a4e1,#2dabdf,#2ab0de,#28b4dc,#27b8db,#24bdda,#21c4d8,#1cced5,#26d6c5,#34dfb0,#43e999,#53f382,#61fc6d,#74f963,#84f65b,#90f455,#9bf250,#a3f14c,#abf048,#b2ee45,#baed41,#c4eb3c,#d1e935,#d8de34,#e0d032,#e8c231,#f0b330,#f8a72f,#fe9c2e,#fb922a,#f88926,#f58324,#f37e22,#f27b21,#f17820,#f0761f,#f0741e,#ef721d,#ee6f1c,#ec6b1b,#eb6819,#ea6418,#e86016,#e75d15,#e65a14,#e55612,#e45311,#e25010,#e14c0e,#df470d,#de430b,#dc3f09,#db3b08,#d93807,#d63607,#d33507,#d13306,#ce3206,#cc3106,#ca3006,#c82f06,#c72e06,#c52d06,#c32c06,#c22b06,#c02b06,#bf2a06,#be2906,#bc2806,#bb2705,#b92705,#b82605,#b62505)"></i>
<i style="background:linear-gradient(90deg,#446cdc,#4570e3,#4675ed,#447bec,#4083ea,#3d8ae8,#3992e6,#359ae4,#31a2e2,#2ea8e0,#2caede,#2ab2dd,#28b6dc,#25bbdb,#22c2d9,#1dcdd6,#25d6c6,#34dfb0,#44e999,#53f381,#62fc6c,#75f962,#85f65b,#91f454,#9bf24f,#a4f14b,#abef48,#b2ee44,#baed40,#c5eb3b,#d2e935,#d9dd34,#e1cf32,#e9c131,#f1b330,#f8a62e,#fe9c2e,#fa912a,#f78926,#f58324,#f47f22,#f27b21,#f17920,#f1771f,#f0751e,#ef721d,#ee6f1c,#ed6c1b,#eb6819,#ea6418,#e86016,#e75d15,#e65a14,#e55713,#e45311,#e25010,#e14c0e,#df480d,#de430b,#dc3f09,#db3b08,#d93807,#d63607,#d33507,#d13406,#cf3206,#cc3106,#ca3006,#c92f06,#c72e06,#c52d06,#c42c06,#c22b06,#c12b06,#bf2a06,#be2906,#bc2806,#bb2805,#ba2705,#b82605,#b72505)"></i>
<i style="background:linear-gradient(90deg,#446cdd,#4570e3,#4675ed,#447bec,#4182eb,#3d89e9,#3a90e6,#3698e4,#339fe2,#30a5e1,#2dabdf,#2bafde,#29b3dd,#26b9db,#23c1d9,#1dccd6,#25d6c7,#34dfb0,#44e998,#54f381,#62fc6b,#76f962,#85f65a,#92f454,#9cf24f,#a4f14b,#abef48,#b3ee44,#bbed40,#c5eb3b,#d2e835,#d9dc34,#e1cf32,#e9c031,#f1b230,#f8a62e,#fe9b2d,#fa9129,#f78926,#f58324,#f47f22,#f27c21,#f27920,#f1771f,#f0751e,#ef721d,#ee6f1c,#ed6c1b,#eb6819,#ea6418,#e96117,#e75d15,#e65a14,#e55713,#e45411,#e25010,#e14c0f,#df480d,#de440b,#dc400a,#db3c08,#d93807,#d63707,#d43507,#d13406,#cf3306,#cd3106,#cb3006,#c92f06,#c72e06,#c52d06,#c42c06,#c22c06,#c12b06,#bf2a06,#be2906,#bd2906,#bb2806,#ba2705,#b82605,#b72505)"></i>
<i style="background:linear-gradient(90deg,#456dde,#4570e3,#4675ec,#447aed,#4181eb,#3e88e9,#3b8fe7,#3796e5,#349de3,#31a3e1,#2ea8e0,#2caddf,#2ab1dd,#27b7dc,#23bfd9,#1ecbd6,#25d5c7,#34dfb1,#44e998,#54f480,#63fc6b,#76f962,#86f65a,#92f454,#9cf24f,#a5f14b,#acef47,#b3ee44,#bced40,#c6eb3b,#d3e835,#d9dc33,#e1ce32,#e9c031,#f1b230,#f8a62e,#fe9b2d,#fa912a,#f88a27,#f58424,#f47f23,#f37c21,#f27a20,#f1771f,#f0751f,#ef731e,#ee701c,#ed6c1b,#eb691a,#ea6518,#e96117,#e75e15,#e65b14,#e55713,#e45412,#e35010,#e14c0f,#e0480d,#de440b,#dc400a,#db3c08,#da3907,#d73707,#d43507,#d13406,#cf3306,#cd3206,#cb3006,#c92f06,#c72e06,#c62e06,#c42d06,#c32c06,#c12b06,#c02a06,#be2906,#bd2906,#bc2806,#ba2705,#b92605,#b72605)"></i>
<i style="background:linear-gradient(90deg,#456dde,#4570e4,#4675ec,#457aed,#4280eb,#3f86e9,#3b8de7,#3894e6,#359ae4,#32a0e2,#30a6e1,#2daadf,#2bafde,#28b5dc,#24beda,#1ecad6,#24d5c8,#33dfb1,#44e999,#54f480,#63fc6b,#76f962,#86f65a,#92f454,#9cf24f,#a5f14b,#acef47,#b4ee44,#bcec3f,#c7eb3a,#d3e735,#dadb33,#e1ce32,#e9c031,#f1b230,#f8a62e,#fe9c2e,#fb922a,#f88a27,#f68424,#f48023,#f37d21,#f27a20,#f17820,#f0761f,#ef731e,#ee701d,#ed6d1b,#ec691a,#ea6518,#e96217,#e85e16,#e65b14,#e55813,#e45412,#e35110,#e14d0f,#e0490d,#de440b,#dd400a,#db3c08,#da3907,#d73707,#d43607,#d23406,#cf3306,#cd3206,#cb3106,#c93006,#c82f06,#c62e06,#c42d06,#c32c06,#c12b06,#c02a06,#bf2a06,#bd2906,#bc2806,#bb2705,#b92705,#b72605)"></i>
<i style="background:linear-gradient(90deg,#456edf,#4570e4,#4675ec,#4579ed,#427feb,#3f85ea,#3c8be8,#3992e6,#3698e4,#339ee3,#31a3e1,#2ea8e0,#2cadde,#29b4dd,#24bdda,#1ecad7,#24d5c8,#33dfb1,#43e999,#53f381,#63fc6b,#76f962,#86f65a,#92f454,#9cf24f,#a5f04b,#acef47,#b4ee43,#bdec3f,#c7eb3a,#d3e735,#dadb33,#e1ce32,#e9c031,#f1b230,#f8a62e,#fe9c2e,#fb922a,#f88b27,#f68525,#f48123,#f37d22,#f27a21,#f17820,#f0761f,#ef731e,#ee701d,#ed6d1b,#ec691a,#ea6618,#e96217,#e85f16,#e75b14,#e55813,#e45512,#e35110,#e14d0f,#e0490d,#de450c,#dd410a,#db3d09,#da3907,#d73707,#d53607,#d23406,#d03306,#ce3206,#cc3106,#ca3006,#c82f06,#c62e06,#c52d06,#c32c06,#c22b06,#c02b06,#bf2a06,#be2906,#bc2806,#bb2805,#b92705,#b82605)"></i>
<i style="background:linear-gradient(90deg,#456ee0,#4571e5,#4674ec,#4579ed,#437eec,#4084ea,#3d8ae8,#3a90e7,#3796e5,#349ce3,#32a1e2,#2fa6e0,#2dacdf,#29b3dd,#25bcda,#1fc9d7,#23d5c9,#33deb2,#43e999,#53f381,#62fc6c,#75f962,#85f65a,#92f454,#9cf24f,#a5f04b,#adef47,#b4ee43,#bdec3f,#c7eb3a,#d3e735,#dadb33,#e1ce32,#e9c031,#f1b330,#f8a72f,#fd9d2e,#fb932a,#f88b27,#f68625,#f48123,#f37e22,#f27b21,#f17920,#f0761f,#f0741e,#ee711d,#ed6d1b,#ec6a1a,#ea6619,#e96217,#e85f16,#e75c15,#e55813,#e45512,#e35110,#e14d0f,#e0490d,#de450c,#dd410a,#db3d09,#da3a07,#d83707,#d53607,#d23507,#d03306,#ce3206,#cc3106,#ca3006,#c82f06,#c72e06,#c52d06,#c32c06,#c22c06,#c12b06,#bf2a06,#be2906,#bd2906,#bb2806,#ba2705,#b82605)"></i>
<i style="background:linear-gradient(90deg,#456ee1,#4671e5,#4674ec,#4579ed,#437dec,#4083ea,#3e88e9,#3b8ee7,#3894e5,#359ae4,#32a0e2,#30a5e1,#2dabdf,#2ab2dd,#25bcda,#1fc9d7,#23d4c9,#32deb2,#42e99a,#52f382,#61fc6d,#74f963,#84f65b,#91f455,#9cf24f,#a5f14b,#adef47,#b4ee43,#bdec3f,#c7eb3a,#d3e735,#dadb33,#e1ce32,#e9c131,#f0b430,#f7a82f,#fd9e2e,#fc942b,#f98d28,#f68625,#f58223,#f37e22,#f27b21,#f17920,#f1771f,#f0741e,#ef711d,#ed6e1c,#ec6a1a,#eb6619,#e96317,#e85f16,#e75c15,#e55813,#e45512,#e35111,#e14d0f,#e0490d,#de450c,#dd410a,#dc3e09,#da3a07,#d83807,#d53607,#d33507,#d03306,#ce3206,#cc3106,#ca3006,#c82f06,#c72e06,#c52d06,#c42c06,#c22c06,#c12b06,#c02a06,#be2906,#bd2906,#bb2806,#ba2705,#b82605)"></i>
<i style="background:linear-gradient(90deg,#456fe2,#4671e6,#4674ec,#4578ed,#437dec,#4182eb,#3e87e9,#3c8de8,#3993e6,#3698e4,#339ee3,#31a4e1,#2eaadf,#2ab1dd,#25bbdb,#1fc8d7,#23d4ca,#32deb3,#42e89b,#51f284,#60fb6e,#73f964,#83f65c,#90f455,#9bf250,#a5f14b,#adef47,#b5ee43,#bdec3f,#c7eb3a,#d3e735,#d9dc33,#e1cf32,#e8c231,#f0b530,#f6a92f,#fc9f2e,#fc962b,#f98e28,#f78726,#f58324,#f47f22,#f37c21,#f27920,#f1771f,#f0751e,#ef721d,#ed6e1c,#ec6b1a,#eb6719,#e96317,#e86016,#e75c15,#e65913,#e45512,#e35111,#e14e0f,#e04a0e,#df460c,#dd420a,#dc3e09,#da3b08,#d93807,#d63607,#d33507,#d13406,#ce3206,#cc3106,#ca3006,#c92f06,#c72e06,#c52d06,#c42d06,#c32c06,#c12b06,#c02a06,#bf2a06,#bd2906,#bc2806,#ba2705,#b92605)"></i>
<i style="background:linear-gradient(90deg,#456fe3,#4672e6,#4675ec,#4578ed,#437cec,#4181eb,#3f86e9,#3c8ce8,#3991e6,#3797e5,#349de3,#31a3e1,#2ea9e0,#2ab1dd,#25bbdb,#1fc8d7,#23d4ca,#31deb4,#41e89c,#50f185,#5ffb70,#71fa64,#81f75c,#8ff456,#9af250,#a4f14b,#adef47,#b4ee43,#bdec3f,#c7eb3a,#d3e735,#d9dd34,#e0d032,#e8c331,#efb630,#f6aa2f,#fba12e,#fd982c,#fa8f29,#f78926,#f58324,#f48023,#f37c21,#f27a20,#f1771f,#f0751e,#ef721d,#ee6f1c,#ec6b1b,#eb6719,#ea6418,#e86016,#e75c15,#e65913,#e45512,#e35211,#e24e0f,#e04a0e,#df460c,#dd420b,#dc3e09,#db3b08,#d93807,#d63607,#d33507,#d13406,#cf3206,#cc3106,#cb3006,#c92f06,#c72e06,#c62d06,#c42d06,#c32c06,#c12b06,#c02a06,#bf2a06,#bd2906,#bc2806,#bb2705,#b92705)"></i>
<i style="background:linear-gradient(90deg,#4570e4,#4672e7,#4675ec,#4678ed,#447cec,#4280eb,#3f85ea,#3d8be8,#3a90e7,#3796e5,#349ce3,#31a2e2,#2ea9e0,#2ab1dd,#25bbda,#1fc8d7,#23d4ca,#31ddb5,#40e79e,#4ff187,#5dfa72,#6efa66,#7ff75d,#8df556,#99f250,#a4f14b,#acef47,#b4ee43,#bdec3f,#c7eb3a,#d2e835,#d8dd34,#dfd133,#e7c531,#eeb830,#f5ac2f,#faa22e,#fd9a2d,#fa9129,#f88a27,#f68424,#f48023,#f37d22,#f27a21,#f17820,#f0751f,#ef721d,#ee6f1c,#ec6b1b,#eb6819,#ea6418,#e86016,#e75d15,#e65914,#e45512,#e35211,#e24e0f,#e04a0e,#df460c,#dd420b,#dc3f09,#db3b08,#d93807,#d63707,#d43507,#d13406,#cf3306,#cd3106,#cb3006,#c92f06,#c72e06,#c62e06,#c42d06,#c32c06,#c22b06,#c02b06,#bf2a06,#be2906,#bc2806,#bb2805,#ba2705)"></i>
<i style="background:linear-gradient(90deg,#4570e4,#4672e7,#4675ec,#4678ed,#447bec,#4280eb,#4084ea,#3d8ae8,#3a8fe7,#3895e5,#359be3,#31a2e2,#2ea9e0,#2ab1dd,#25bcda,#1fc9d7,#22d4ca,#30ddb5,#3fe69f,#4ef089,#5cf975,#6cfa67,#7df75e,#8cf557,#98f351,#a3f14c,#acef47,#b4ee43,#bcec3f,#c6eb3a,#d2e935,#d8de34,#dfd333,#e6c631,#edba30,#f3ae2f,#f9a42e,#fe9c2e,#fb932a,#f88b27,#f68525,#f48123,#f37e22,#f27b21,#f17820,#f0761f,#ef731e,#ee701c,#ed6c1b,#eb6819,#ea6418,#e86116,#e75d15,#e65914,#e45612,#e35211,#e24e0f,#e04a0e,#df460c,#dd430b,#dc3f09,#db3b08,#d93807,#d73707,#d43507,#d13406,#cf3306,#cd3106,#cb3006,#c92f06,#c72f06,#c62e06,#c52d06,#c32c06,#c22b06,#c12b06,#bf2a06,#be2906,#bd2906,#bb2806,#ba2705)"></i>
<i style="background:linear-gradient(90deg,#4671e5,#4672e8,#4675ec,#4678ed,#447bec,#427feb,#4084ea,#3d89e9,#3b8fe7,#3894e5,#359be4,#32a1e2,#2ea9e0,#2ab1dd,#25bcda,#1fc9d7,#22d4cb,#30ddb6,#3ee6a1,#4cef8c,#5af777,#69fb68,#7af860,#8af558,#97f352,#a2f14c,#abef48,#b4ee44,#bced40,#c5eb3b,#d1e935,#d7df34,#ded433,#e5c832,#ecbc31,#f2b12f,#f8a62f,#fd9e2e,#fc952b,#f98d28,#f68725,#f58223,#f37e22,#f27b21,#f17920,#f0761f,#ef731e,#ee701d,#ed6c1b,#eb691a,#ea6518,#e96117,#e75d15,#e65a14,#e45612,#e35211,#e24e0f,#e04a0e,#df470c,#de430b,#dc3f09,#db3c08,#da3907,#d73707,#d43507,#d13406,#cf3306,#cd3206,#cb3006,#c93006,#c82f06,#c62e06,#c52d06,#c32c06,#c22b06,#c12b06,#bf2a06,#be2906,#bd2906,#bc2806,#ba2705)"></i>
<i style="background:linear-gradient(90deg,#4671e6,#4673e9,#4675ec,#4678ed,#447bec,#427feb,#4083ea,#3e89e9,#3b8ee7,#3894e5,#359ae4,#32a1e2,#2ea9e0,#2ab2dd,#25bcda,#1ec9d7,#22d4cb,#2fdcb7,#3de5a3,#4bee8e,#58f67a,#66fb6a,#78f861,#88f659,#95f352,#a1f14d,#abf048,#b3ee44,#bbed40,#c5eb3b,#d0e936,#d7e134,#ddd633,#e3ca32,#eabe31,#f1b330,#f7a92f,#fca02e,#fc972c,#f98f28,#f78826,#f58324,#f47f22,#f37c21,#f27a20,#f1771f,#f0741e,#ee711d,#ed6d1b,#ec691a,#ea6518,#e96117,#e75e15,#e65a14,#e55612,#e35211,#e24e0f,#e04b0e,#df470c,#de430b,#dc400a,#db3c08,#da3907,#d73707,#d43607,#d23406,#cf3306,#cd3206,#cb3106,#c93006,#c82f06,#c62e06,#c52d06,#c32c06,#c22c06,#c12b06,#c02a06,#be2a06,#bd2906,#bc2806,#bb2705)"></i>
<i style="background:linear-gradient(90deg,#4672e7,#4673e9,#4675ed,#4678ed,#447bed,#427feb,#4083ea,#3e88e9,#3b8ee7,#3894e6,#359ae4,#32a1e2,#2ea9e0,#29b2dd,#24bdda,#1ec9d7,#22d4cb,#2edcb9,#3be4a5,#49ed91,#56f57d,#62fc6b,#75f963,#85f65a,#94f353,#a0f14d,#aaf048,#b2ee44,#bbed40,#c4eb3c,#cee936,#d6e234,#dcd733,#e2cc32,#e9c131,#efb530,#f5ab2f,#fba22e,#fd992d,#fa9029,#f78926,#f58424,#f48023,#f37d21,#f27a20,#f1781f,#f0751e,#ef711d,#ed6e1c,#ec6a1a,#ea6619,#e96217,#e85e16,#e65a14,#e55613,#e35311,#e24f0f,#e04b0e,#df470d,#de430b,#dc400a,#db3c08,#da3907,#d73707,#d43607,#d23406,#cf3306,#cd3206,#cb3106,#ca3006,#c82f06,#c62e06,#c52d06,#c42c06,#c22c06,#c12b06,#c02a06,#bf2a06,#bd2906,#bc2806,#bb2805)"></i>
<i style="background:linear-gradient(90deg,#4672e7,#4673e9,#4675ed,#4678ed,#447bed,#427feb,#4083ea,#3e88e9,#3b8ee7,#3894e6,#359ae4,#31a2e2,#2eaadf,#29b3dd,#24bdda,#1ec9d7,#21d3cc,#2ddbba,#3ae3a7,#47eb94,#54f381,#60fb6e,#72f964,#83f65c,#92f454,#9ef24e,#a9f049,#b1ee45,#baed41,#c2eb3c,#cdea37,#d5e334,#dbd933,#e1ce32,#e8c331,#eeb830,#f4ae2f,#f9a42e,#fe9c2e,#fb922a,#f88b27,#f68525,#f48123,#f37e22,#f27b21,#f17820,#f0751f,#ef721d,#ed6e1c,#ec6a1a,#eb6719,#e96317,#e85f16,#e65b14,#e55713,#e35311,#e24f10,#e14b0e,#df480d,#de440b,#dd400a,#db3d08,#da3907,#d73707,#d53607,#d23406,#d03306,#cd3206,#cc3106,#ca3006,#c82f06,#c72e06,#c52d06,#c42c06,#c22c06,#c12b06,#c02a06,#bf2a06,#be2906,#bd2806,#bb2806)"></i>
<i style="background:linear-gradient(90deg,#4672e8,#4673ea,#4775ed,#4678ed,#447bed,#427eeb,#4083ea,#3e88e9,#3b8ee7,#3894e6,#359be4,#31a2e2,#2daadf,#29b3dd,#24beda,#1ec9d7,#21d3cc,#2cdabb,#38e2a9,#45ea97,#51f284,#5efa71,#6efa66,#80f75d,#8ff455,#9df24f,#a7f04a,#b0ef45,#b9ed41,#c1ec3d,#cbea38,#d4e534,#dadb33,#e0d032,#e6c531,#ecbb30,#f2b02f,#f8a62f,#fd9e2e,#fc952b,#f98d28,#f68625,#f58224,#f37f22,#f27c21,#f17920,#f0761f,#ef721d,#ee6f1c,#ec6b1b,#eb6719,#e96318,#e85f16,#e75b14,#e55713,#e45411,#e25010,#e14c0e,#df480d,#de440b,#dd410a,#db3d09,#da3a07,#d83707,#d53607,#d23406,#d03306,#ce3206,#cc3106,#ca3006,#c82f06,#c72e06,#c52d06,#c42d06,#c32c06,#c12b06,#c02a06,#bf2a06,#be2906,#bd2906,#bc2806)"></i>
<i style="background:linear-gradient(90deg,#4673e9,#4674ea,#4775ed,#4678ed,#447bed,#427eeb,#4083ea,#3e88e9,#3b8ee7,#3894e5,#359be4,#31a2e1,#2dabdf,#29b4dd,#24beda,#1ec9d7,#21d3cd,#2bdabd,#37e1ac,#43e99a,#4ff187,#5bf875,#6bfb67,#7df75e,#8df556,#9bf250,#a6f04a,#afef46,#b8ed42,#c0ec3e,#caea39,#d3e634,#d9dd34,#dfd333,#e5c832,#ebbd31,#f1b330,#f7a92f,#fca02e,#fc972c,#f98e28,#f78826,#f58324,#f48023,#f37c21,#f27a20,#f1771f,#ef731e,#ee701c,#ed6c1b,#eb6819,#ea6418,#e86016,#e75c15,#e55813,#e45412,#e25010,#e14c0f,#e0490d,#de450c,#dd410a,#dc3e09,#da3a07,#d83807,#d53607,#d23407,#d03306,#ce3206,#cc3106,#ca3006,#c92f06,#c72e06,#c62d06,#c42d06,#c32c06,#c22b06,#c02b06,#bf2a06,#be2906,#bd2906,#bc2806)"></i>
<i style="background:linear-gradient(90deg,#4673e9,#4674ea,#4775ed,#4678ed,#447bed,#427feb,#4083ea,#3e88e9,#3b8ee7,#3894e5,#349be3,#31a3e1,#2dabdf,#29b4dd,#24beda,#1ec9d7,#20d2ce,#2ad9bf,#35e0ae,#41e79d,#4def8b,#59f778,#67fb69,#7af860,#8bf558,#99f351,#a4f14b,#aeef46,#b6ed42,#bfec3e,#c8ea39,#d3e735,#d8de34,#ddd533,#e3ca32,#e9c031,#efb530,#f5ab2f,#faa22e,#fd992d,#fa9129,#f88a27,#f68525,#f48123,#f37d22,#f27a21,#f1771f,#f0741e,#ee701d,#ed6d1b,#ec691a,#ea6518,#e96117,#e75d15,#e65914,#e45512,#e35110,#e14d0f,#e0490d,#df460c,#dd420a,#dc3e09,#da3a08,#d83807,#d53607,#d23507,#d03306,#ce3206,#cc3106,#ca3006,#c92f06,#c72e06,#c62e06,#c42d06,#c32c06,#c22b06,#c12b06,#bf2a06,#be2906,#bd2906,#bd2906)"></i>
<i style="background:linear-gradient(90deg,#4673e9,#4674eb,#4775ed,#4678ed,#447bed,#427feb,#4083ea,#3e89e9,#3b8ee7,#3895e5,#349ce3,#31a3e1,#2dacdf,#28b4dc,#24beda,#1fc9d7,#1fd2cf,#29d8c0,#34dfb1,#3fe6a0,#4bee8e,#57f57c,#64fc6b,#77f862,#88f659,#97f352,#a3f14c,#acef47,#b5ee43,#bdec3f,#c7eb3a,#d2e935,#d7e034,#dcd733,#e2cc32,#e8c231,#eeb830,#f4ae2f,#f9a42e,#fe9c2e,#fb932a,#f88c27,#f68625,#f58224,#f37e22,#f27b21,#f17820,#f0751e,#ef711d,#ed6e1c,#ec6a1a,#eb6619,#e96217,#e85e16,#e65a14,#e55612,#e35211,#e24e0f,#e04a0e,#df460c,#dd420b,#dc3f09,#db3b08,#d93807,#d53607,#d33507,#d03306,#ce3206,#cc3106,#cb3006,#c92f06,#c72f06,#c62e06,#c52d06,#c32c06,#c22b06,#c12b06,#c02a06,#bf2a06,#be2906,#bd2906)"></i>
<i style="background:linear-gradient(90deg,#4673ea,#4674eb,#4775ed,#4678ed,#447bec,#427feb,#4084ea,#3d89e9,#3a8fe7,#3795e5,#349ce3,#30a4e1,#2dacdf,#28b5dc,#24beda,#1fc8d7,#1ed1d0,#28d7c2,#32deb3,#3de5a3,#48ec92,#54f47f,#61fc6d,#73f963,#85f65a,#94f353,#a1f14d,#abf048,#b3ee44,#bced40,#c5eb3b,#d0e936,#d6e234,#dbd833,#e1cf32,#e7c431,#edba30,#f2b02f,#f8a72f,#fd9e2e,#fc952b,#f98e28,#f78826,#f58324,#f48023,#f37c21,#f17920,#f0761f,#ef721d,#ee6f1c,#ec6b1b,#eb6719,#ea6418,#e86016,#e75c15,#e55813,#e45311,#e24f10,#e14b0e,#df470d,#de430b,#dc3f09,#db3b08,#d93807,#d63607,#d33507,#d03306,#ce3206,#cc3106,#cb3006,#c93006,#c82f06,#c62e06,#c52d06,#c32c06,#c22c06,#c12b06,#c02a06,#bf2a06,#be2906,#be2906)"></i>
<i style="background:linear-gradient(90deg,#4674ea,#4674eb,#4775ed,#4678ed,#447bec,#427feb,#4084ea,#3d89e8,#3a8fe7,#3796e5,#349de3,#30a4e1,#2cacdf,#28b4dc,#24beda,#1fc7d7,#1dd1d2,#26d7c4,#30ddb6,#3be4a6,#46eb95,#52f383,#5efa70,#70fa65,#82f75c,#92f454,#9ef24e,#a9f049,#b2ee45,#baed40,#c4eb3c,#cee937,#d5e334,#dada33,#e0d132,#e5c732,#ebbd31,#f1b330,#f6a92f,#fba02e,#fd982c,#fa9029,#f88a27,#f68525,#f48123,#f37d22,#f27a20,#f1771f,#ef731e,#ee701c,#ed6c1b,#ec691a,#ea6518,#e96117,#e75d15,#e65914,#e45512,#e35110,#e14c0f,#df480d,#de440b,#dc400a,#db3c08,#d93807,#d63607,#d33507,#d03306,#ce3206,#cd3106,#cb3106,#ca3006,#c82f06,#c72e06,#c52d06,#c42c06,#c22c06,#c12b06,#c02a06,#bf2a06,#be2a06,#be2906)"></i>
<i style="background:linear-gradient(90deg,#4674ea,#4674eb,#4775ed,#4678ed,#447bec,#427feb,#4084ea,#3d8ae8,#3a90e7,#3797e5,#339ee3,#30a5e1,#2cacdf,#28b4dc,#24bdda,#20c6d7,#1cd0d4,#25d6c7,#2edcb8,#39e2a9,#44e998,#50f186,#5cf974,#6dfa66,#7ff75d,#8ff456,#9cf24f,#a7f04a,#b0ef45,#b9ed41,#c2eb3c,#cdea37,#d4e434,#d9dc33,#dfd333,#e4c932,#eabf31,#f0b530,#f5ab2f,#faa32e,#fe9b2d,#fb932a,#f88c27,#f78725,#f58224,#f37e22,#f27b21,#f1781f,#f0741e,#ef711d,#ed6e1c,#ec6a1a,#eb6719,#e96317,#e85f16,#e65b14,#e55612,#e35211,#e24e0f,#e0490d,#de450c,#dd400a,#db3c08,#d93807,#d63607,#d33507,#d13306,#cf3206,#cd3106,#cb3106,#ca3006,#c82f06,#c72e06,#c52d06,#c42c06,#c22c06,#c12b06,#c02a06,#bf2a06,#bf2a06,#bf2a06)"></i>
<i style="background:linear-gradient(90deg,#4674ea,#4674eb,#4775ed,#4678ed,#447bec,#4280eb,#3f85ea,#3d8be8,#3a91e6,#3697e5,#339ee3,#30a5e1,#2cacdf,#29b4dd,#25bcda,#20c5d8,#1ccfd5,#23d5c9,#2cdabb,#37e1ac,#42e89c,#4ef08a,#5af877,#69fb68,#7cf85f,#8cf557,#99f250,#a5f14b,#aeef46,#b7ed42,#c1ec3d,#cbea38,#d4e634,#d8dd34,#ded433,#e3cb32,#e9c131,#eeb730,#f4ae2f,#f9a52e,#fd9d2e,#fc952b,#f98e28,#f78926,#f58424,#f48023,#f37c21,#f17920,#f0751f,#ef721d,#ee6f1c,#ed6c1b,#eb6819,#ea6418,#e86016,#e75c15,#e55813,#e45411,#e24f10,#e04a0e,#df460c,#dd410a,#db3d08,#da3907,#d63707,#d33507,#d13406,#cf3206,#cd3206,#cc3106,#ca3006,#c92f06,#c72e06,#c62d06,#c42d06,#c32c06,#c12b06,#c02a06,#bf2a06,#bf2a06,#bf2a06)"></i>
<i style="background:linear-gradient(90deg,#4674ea,#4674ea,#4775ed,#4678ed,#447cec,#4280eb,#3f85ea,#3c8be8,#3991e6,#3698e4,#339fe3,#30a5e1,#2cacdf,#29b3dd,#25bbdb,#21c4d8,#1ccdd6,#22d4cb,#2bd9be,#35e0af,#3fe79f,#4bee8d,#58f67a,#66fb6a,#78f861,#89f559,#97f352,#a2f14c,#acef47,#b6ee43,#bfec3e,#c9ea39,#d3e735,#d8df34,#ddd633,#e2cd32,#e7c431,#edba30,#f2b12f,#f7a82f,#fca02e,#fd982c,#fa9129,#f88b27,#f68525,#f48123,#f37d22,#f27a20,#f1771f,#ef741e,#ee711d,#ed6d1b,#ec6a1a,#eb6619,#e96217,#e85e15,#e65a14,#e45512,#e35010,#e14c0e,#df470c,#dd420b,#db3d09,#da3907,#d63707,#d33507,#d13406,#cf3306,#cd3206,#cc3106,#cb3006,#c92f06,#c82f06,#c62e06,#c42d06,#c32c06,#c12b06,#c02b06,#c02a06,#bf2a06,#c02a06)"></i>
<i style="background:linear-gradient(90deg,#4674ea,#4674ea,#4775ed,#4678ed,#447cec,#4180eb,#3f86e9,#3c8ce8,#3992e6,#3698e4,#339fe2,#30a5e1,#2cacdf,#29b3dd,#26badb,#22c2d9,#1dcbd6,#20d2ce,#29d8c1,#33deb2,#3de5a2,#49ed90,#56f57e,#62fc6c,#75f962,#86f65a,#94f353,#a0f14d,#aaf048,#b4ee44,#bdec3f,#c8ea3a,#d2e835,#d7e034,#dcd833,#e1cf32,#e6c631,#ebbc31,#f1b330,#f6aa2f,#faa22e,#fe9b2d,#fb932a,#f98d28,#f78725,#f58224,#f37e22,#f27b21,#f17820,#f0751e,#ef721d,#ee6f1c,#ed6c1b,#eb6819,#ea6418,#e86016,#e75b14,#e55713,#e35211,#e14d0f,#df480d,#dd430b,#dc3e09,#da3907,#d73707,#d33507,#d13406,#cf3306,#ce3206,#cc3106,#cb3106,#ca3006,#c82f06,#c62e06,#c52d06,#c32c06,#c22b06,#c02b06,#c02a06,#c02a06,#c02a06)"></i>
<i style="background:linear-gradient(90deg,#4674ea,#4674ea,#4775ed,#4678ed,#447cec,#4181eb,#3f86e9,#3c8ce8,#3993e6,#3699e4,#339fe2,#30a6e1,#2dacdf,#2ab2dd,#26b9db,#22c1d9,#1ec9d7,#1ed1d0,#27d7c4,#31ddb5,#3be4a5,#47eb93,#53f381,#60fb6e,#72f964,#83f65c,#91f455,#9df24f,#a8f049,#b2ee44,#bced40,#c6eb3b,#d1e935,#d6e234,#dbda33,#e0d132,#e5c832,#eabf31,#efb630,#f4ad2f,#f9a52e,#fd9e2e,#fc962b,#fa8f29,#f78926,#f58424,#f47f23,#f37c21,#f17920,#f0761f,#ef731e,#ee701d,#ed6d1b,#ec6a1a,#ea6619,#e96217,#e75d15,#e55813,#e45311,#e24e0f,#e0490d,#de440b,#dc3e09,#da3a07,#d73707,#d43507,#d13406,#cf3306,#ce3206,#cd3106,#cc3106,#ca3006,#c82f06,#c72e06,#c52d06,#c32c06,#c22b06,#c12b06,#c02a06,#c02a06,#c02b06)"></i>
<i style="background:linear-gradient(90deg,#4674ea,#4673ea,#4675ed,#4678ed,#447cec,#4181eb,#3f86e9,#3c8de8,#3993e6,#3599e4,#32a0e2,#30a5e1,#2dabdf,#2ab1dd,#27b8dc,#23bfd9,#1fc7d7,#1dd0d3,#25d6c6,#2fdcb8,#39e3a8,#45ea97,#51f284,#5efa71,#6efa66,#80f75d,#8ef456,#9bf250,#a6f04a,#b0ef45,#baed41,#c4eb3b,#cfe936,#d5e334,#dadb33,#ded333,#e3ca32,#e9c131,#eeb830,#f2b02f,#f7a82f,#fba02e,#fd992d,#fa912a,#f88b27,#f68525,#f48123,#f37d22,#f27a20,#f1771f,#f0751e,#ef721d,#ee6f1c,#ec6b1b,#eb6819,#ea6318,#e85f16,#e65a14,#e45512,#e24f10,#e04a0e,#de440b,#dc3f09,#da3a07,#d73707,#d43507,#d13406,#d03306,#ce3206,#cd3206,#cc3106,#cb3006,#c92f06,#c72e06,#c52d06,#c32c06,#c22b06,#c12b06,#c02a06,#c02a06,#c12b06)"></i>
<i style="background:linear-gradient(90deg,#4674ea,#4673ea,#4675ed,#4678ed,#447cec,#4181eb,#3e87e9,#3b8de7,#3893e6,#359ae4,#32a0e2,#30a5e1,#2dabdf,#2ab0de,#27b6dc,#24bdda,#20c5d8,#1ccfd5,#23d4c9,#2ddbbb,#37e1ab,#43e99a,#4ff187,#5cf975,#6bfa67,#7df75f,#8bf557,#98f351,#a3f14c,#aeef46,#b8ed41,#c2eb3c,#cdea37,#d4e534,#d9dd34,#ddd533,#e2cc32,#e7c431,#ecbb30,#f1b330,#f6ab2f,#faa32e,#fe9c2e,#fb942a,#f98d28,#f68725,#f58223,#f37e22,#f27b21,#f17820,#f0761f,#ef731e,#ee701d,#ed6d1b,#ec691a,#ea6518,#e86116,#e75c15,#e55612,#e35110,#e14b0e,#de450c,#dc400a,#da3b08,#d73707,#d43507,#d13406,#d03306,#cf3206,#ce3206,#cc3106,#cb3006,#c92f06,#c72e06,#c52d06,#c42c06,#c22b06,#c12b06,#c02b06,#c02b06,#c12b06)"></i>
<i style="background:linear-gradient(90deg,#4673ea,#4673e9,#4675ec,#4678ed,#447cec,#4181eb,#3e87e9,#3b8de7,#3893e6,#359ae4,#339fe2,#30a5e1,#2eaadf,#2bafde,#28b5dc,#25bcda,#21c3d8,#1dcdd6,#21d3cc,#2bd9be,#35e0ae,#41e79d,#4def8a,#5af778,#68fb69,#79f860,#89f559,#96f352,#a1f14d,#acef47,#b6ee42,#c0ec3d,#cbea38,#d3e634,#d8de34,#dcd733,#e1ce32,#e6c631,#ebbe31,#efb530,#f4ad2f,#f8a62e,#fd9e2e,#fc962b,#f98f28,#f78826,#f58324,#f47f22,#f37c21,#f27920,#f1771f,#f0741e,#ef721d,#ee6e1c,#ec6b1a,#eb6719,#e96217,#e75d15,#e55813,#e35211,#e14c0e,#df460c,#dd400a,#db3b08,#d83707,#d43607,#d23406,#d03306,#cf3306,#ce3206,#cd3106,#cb3106,#ca3006,#c82f06,#c62d06,#c42c06,#c22c06,#c12b06,#c02b06,#c12b06,#c12b06)"></i>
<i style="background:linear-gradient(90deg,#4673ea,#4673e9,#4675ec,#4678ed,#447cec,#4181eb,#3e87e9,#3b8de7,#3893e6,#3599e4,#339fe2,#30a4e1,#2ea9e0,#2caede,#29b3dd,#26badb,#22c1d9,#1ecad6,#1fd2cf,#29d8c1,#33dfb1,#3fe6a0,#4bee8d,#58f67b,#65fc6a,#76f962,#86f65a,#93f454,#9ff24e,#a9f049,#b4ee44,#beec3e,#c9ea39,#d3e835,#d7e034,#dbd833,#e0d132,#e4c932,#e9c031,#eeb830,#f2b02f,#f7a82f,#fba12e,#fd992d,#fa9129,#f88a27,#f68525,#f48023,#f37d22,#f27a21,#f17820,#f0751f,#ef731e,#ee701c,#ed6c1b,#eb6819,#ea6418,#e85f16,#e65914,#e45311,#e14d0f,#df470d,#dd410a,#db3c08,#d83807,#d43607,#d23406,#d03306,#cf3306,#ce3206,#cd3206,#cc3106,#ca3006,#c82f06,#c62e06,#c42d06,#c22c06,#c12b06,#c12b06,#c12b06,#c22b06)"></i>
<i style="background:linear-gradient(90deg,#4673ea,#4673e9,#4675ec,#4678ed,#447cec,#4181eb,#3e87e9,#3b8de7,#3993e6,#3699e4,#339fe3,#31a3e1,#2ea8e0,#2caddf,#2ab2dd,#27b8dc,#23bfd9,#1fc8d7,#1ed1d2,#27d7c4,#31deb4,#3de5a3,#49ed90,#56f57d,#62fc6c,#74f963,#83f65c,#90f455,#9cf24f,#a7f04a,#b1ee45,#bced40,#c6eb3a,#d1e935,#d6e234,#dada33,#dfd333,#e3cb32,#e7c331,#ecbb30,#f1b330,#f5ab2f,#faa32e,#fe9c2e,#fb932a,#f88c27,#f68625,#f58123,#f37e22,#f27b21,#f17920,#f0761f,#ef731e,#ee711d,#ed6d1b,#ec691a,#ea6518,#e86016,#e65a14,#e45412,#e24e0f,#df480d,#dd420a,#db3c08,#d93807,#d53607,#d23407,#d13406,#d03306,#cf3206,#ce3206,#cc3106,#ca3006,#c82f06,#c62e06,#c42d06,#c22c06,#c12b06,#c12b06,#c12b06,#c22b06)"></i>
<i style="background:linear-gradient(90deg,#4673e9,#4673e9,#4675ec,#4678ed,#447cec,#4181eb,#3f86e9,#3c8ce8,#3993e6,#3698e4,#339ee3,#31a2e1,#2fa7e0,#2dabdf,#2bb0de,#28b6dc,#24bdda,#20c6d8,#1cd0d4,#25d6c6,#2fdcb7,#3be4a5,#47ec93,#54f480,#60fb6e,#71fa64,#80f75d,#8ef556,#99f250,#a4f14b,#afef46,#b9ed41,#c4eb3c,#cfe936,#d5e434,#d9dc34,#ddd533,#e2cd32,#e6c631,#eabe31,#efb630,#f4ae2f,#f8a62e,#fd9e2e,#fc952b,#f98e28,#f78726,#f58224,#f47f22,#f27c21,#f17920,#f1771f,#f0741e,#ef711d,#ed6e1c,#ec6a1a,#ea6619,#e96117,#e75c14,#e45612,#e24f10,#e0490d,#dd430b,#db3d08,#d93807,#d53607,#d33507,#d13406,#d03306,#cf3306,#ce3206,#cc3106,#cb3006,#c92f06,#c62e06,#c42d06,#c32c06,#c12b06,#c12b06,#c12b06,#c22b06)"></i>
<i style="background:linear-gradient(90deg,#4673e9,#4673e9,#4674ec,#4677ed,#447bec,#4180eb,#3f86e9,#3c8ce8,#3992e6,#3697e5,#349de3,#32a1e2,#30a5e1,#2ea9e0,#2baede,#29b4dd,#25bbdb,#21c4d8,#1cced5,#23d4c9,#2edbba,#39e3a8,#46eb96,#52f383,#5efa71,#6efa66,#7ef75e,#8bf558,#97f352,#a2f14c,#acef47,#b7ed42,#c1ec3d,#ccea38,#d4e534,#d8de34,#dcd733,#e0d032,#e4c832,#e9c131,#edb930,#f2b12f,#f7a82f,#fba02e,#fd982c,#fa9029,#f78926,#f58424,#f47f23,#f37c21,#f27920,#f1771f,#f0741e,#ef721d,#ee6f1c,#ec6b1b,#eb6719,#e96217,#e75d15,#e55713,#e25010,#e04a0e,#de430b,#dc3d09,#d93807,#d63607,#d33507,#d13406,#d03306,#cf3306,#ce3206,#cd3106,#cb3006,#c92f06,#c72e06,#c52d06,#c32c06,#c12b06,#c12b06,#c12b06,#c22b06)"></i>
<i style="background:linear-gradient(90deg,#4673e9,#4673e9,#4674eb,#4677ee,#447bec,#4280eb,#3f85ea,#3c8be8,#3a91e6,#3796e5,#359be3,#32a0e2,#31a4e1,#2fa8e0,#2cacdf,#2ab2dd,#26b9db,#22c2d9,#1dccd6,#21d3cc,#2cdabc,#37e1ab,#44e998,#50f185,#5df973,#6cfa67,#7bf85f,#88f559,#94f353,#9ff24e,#a9f049,#b4ee43,#bfec3e,#c9ea39,#d3e735,#d7e034,#dbd933,#dfd233,#e3cb32,#e7c431,#ecbc31,#f0b330,#f5ab2f,#faa22e,#fe9a2d,#fb922a,#f88a27,#f68525,#f48023,#f37d21,#f27a20,#f1771f,#f0751e,#ef721d,#ee6f1c,#ed6c1b,#eb6819,#e96317,#e75e15,#e55813,#e35111,#e04b0e,#de440b,#dc3e09,#da3907,#d63607,#d33507,#d23406,#d03306,#d03306,#cf3206,#cd3206,#cb3106,#c92f06,#c72e06,#c52d06,#c32c06,#c22b06,#c12b06,#c12b06,#c22b06)"></i>
<i style="background:linear-gradient(90deg,#4673e9,#4673e8,#4674eb,#4677ee,#447bed,#427feb,#3f85ea,#3d8ae8,#3a90e7,#3895e5,#359ae4,#339ee3,#31a2e2,#2fa6e0,#2dabdf,#2ab0de,#27b7dc,#23bfd9,#1ec9d7,#20d2cf,#2ad9bf,#36e0ad,#42e89b,#4ff088,#5bf875,#69fb68,#78f861,#86f65a,#91f455,#9cf24f,#a6f04a,#b1ee45,#bced40,#c7eb3a,#d1e935,#d6e234,#dadb33,#ded433,#e1ce32,#e6c631,#eabf31,#efb630,#f4ae2f,#f9a52e,#fd9d2e,#fb942a,#f88c27,#f68625,#f48123,#f37d22,#f27a20,#f1771f,#f0751e,#ef721d,#ee701c,#ed6c1b,#eb681a,#ea6418,#e85e16,#e65913,#e35211,#e14c0e,#de450c,#dc3f09,#da3907,#d63707,#d43507,#d23406,#d13406,#d03306,#cf3306,#cd3206,#cc3106,#c93006,#c72e06,#c52d06,#c32c06,#c22b06,#c12b06,#c12b06,#c22b06)"></i>
<i style="background:linear-gradient(90deg,#4673e8,#4672e8,#4674eb,#4677ee,#447aed,#427feb,#4084ea,#3d89e9,#3b8ee7,#3893e6,#3698e4,#349ce3,#32a0e2,#30a4e1,#2ea9e0,#2baede,#28b5dc,#24bdda,#1fc7d7,#1ed1d1,#28d8c2,#34dfb0,#40e79d,#4def8a,#59f778,#67fb69,#76f962,#83f65c,#8ef456,#99f351,#a3f14c,#aeef47,#b9ed41,#c4eb3c,#cee936,#d5e434,#d8dd34,#dcd733,#e0d032,#e4c932,#e8c231,#edb930,#f2b02f,#f7a72f,#fc9f2e,#fc962b,#f98e28,#f78726,#f58223,#f37d22,#f27a20,#f1771f,#f0751e,#ef721d,#ee701c,#ed6d1b,#ec691a,#ea6418,#e85f16,#e65914,#e45311,#e14d0f,#df460c,#dc400a,#da3a07,#d73707,#d43507,#d23407,#d13406,#d03306,#cf3306,#ce3206,#cc3106,#ca3006,#c72e06,#c52d06,#c32c06,#c22b06,#c12b06,#c12b06,#c12b06)"></i>
<i style="background:linear-gradient(90deg,#4672e8,#4672e8,#4674ea,#4676ee,#457aed,#437eec,#4083ea,#3e88e9,#3c8de7,#3992e6,#3796e5,#359ae4,#339ee3,#31a2e1,#2fa7e0,#2caddf,#29b3dd,#25bbda,#20c5d8,#1cd0d4,#26d7c4,#32deb3,#3fe6a0,#4cee8c,#58f67a,#64fc6b,#73f963,#80f75d,#8bf558,#95f352,#a0f14d,#aaf048,#b5ee43,#c0ec3d,#cbea38,#d3e634,#d7e034,#dbd933,#ded333,#e2cc32,#e7c531,#ebbc31,#f1b330,#f6aa2f,#fba12e,#fd982c,#fa9029,#f78926,#f58324,#f37e22,#f27a20,#f1771f,#f0751e,#ef721d,#ee701c,#ed6d1b,#ec691a,#ea6518,#e86016,#e65a14,#e45412,#e14e0f,#df470c,#dd400a,#db3b08,#d83707,#d53607,#d33507,#d23406,#d13406,#d03306,#ce3206,#cc3106,#ca3006,#c82f06,#c62d06,#c42c06,#c22b06,#c12b06,#c12b06,#c12b06)"></i>
<i style="background:linear-gradient(90deg,#4672e8,#4672e7,#4673ea,#4676ee,#4579ed,#437dec,#4182eb,#3f86e9,#3c8be8,#3a90e7,#3894e5,#3699e4,#349ce3,#32a1e2,#30a5e1,#2dabdf,#2ab1dd,#26b9db,#21c3d8,#1cced5,#25d6c7,#31ddb5,#3de5a2,#4aed8f,#56f57c,#61fc6c,#70fa65,#7df75e,#88f659,#92f454,#9cf24f,#a7f04a,#b2ee44,#bdec3f,#c8ea3a,#d2e835,#d6e234,#d9dc33,#ddd633,#e1cf32,#e5c732,#eabf31,#efb630,#f4ad2f,#faa42e,#fe9b2d,#fb922a,#f88a27,#f58424,#f37e22,#f27a21,#f1771f,#f0751e,#ef721d,#ee701c,#ed6d1b,#ec6a1a,#ea6618,#e96117,#e65b14,#e45512,#e24f0f,#df480d,#dd410a,#db3c08,#d83807,#d53607,#d33507,#d23406,#d13406,#d03306,#ce3206,#cc3106,#ca3006,#c82f06,#c62e06,#c42d06,#c22c06,#c12b06,#c12b06,#c12b06)"></i>
<i style="background:linear-gradient(90deg,#4672e7,#4672e7,#4673e9,#4776ee,#4579ed,#437cec,#4181eb,#3f85ea,#3d8ae8,#3b8ee7,#3993e6,#3797e5,#359be4,#339fe2,#31a3e1,#2ea9e0,#2bb0de,#27b8dc,#22c1d9,#1dccd6,#23d5c9,#2fdcb8,#3ce4a5,#48ec91,#55f47f,#60fb6e,#6dfa66,#7af860,#85f65b,#8ff456,#99f351,#a3f14c,#aeef46,#baed41,#c5eb3b,#cfe936,#d4e434,#d8de34,#dbd833,#dfd233,#e3ca32,#e8c231,#edb930,#f3af2f,#f8a62e,#fd9d2e,#fb942b,#f88c27,#f68525,#f47f22,#f27b21,#f1771f,#f0751e,#ef721d,#ee701c,#ed6d1b,#ec6a1a,#ea6619,#e96117,#e75c15,#e55612,#e25010,#e0490d,#dd420b,#db3d08,#d93807,#d63607,#d43507,#d23507,#d13406,#d03306,#cf3206,#cd3106,#cb3006,#c82f06,#c62e06,#c42d06,#c32c06,#c12b06,#c12b06,#c12b06)"></i>
<i style="background:linear-gradient(90deg,#4671e6,#4671e6,#4673e9,#4675ed,#4678ed,#447cec,#427feb,#4084ea,#3e88e9,#3c8de8,#3a91e6,#3895e5,#3699e4,#349de3,#31a2e2,#2fa7e0,#2caede,#28b6dc,#23bfd9,#1ecad6,#22d3cc,#2ddbba,#3ae3a7,#47eb94,#53f382,#5efa71,#6afb68,#77f962,#81f75c,#8bf558,#95f353,#a0f14d,#abef48,#b6ee42,#c1ec3d,#cbea38,#d3e735,#d6e134,#dadb33,#ddd533,#e2cd32,#e6c531,#ecbc30,#f1b230,#f7a92f,#fca02e,#fc972c,#f98e28,#f68725,#f48123,#f27c21,#f17820,#f0751e,#ef721d,#ee701d,#ed6e1c,#ec6a1a,#eb6619,#e96217,#e75d15,#e55713,#e35110,#e04a0e,#de430b,#dc3e09,#da3907,#d73707,#d43607,#d33507,#d23406,#d13406,#cf3306,#cd3206,#cb3006,#c92f06,#c72e06,#c52d06,#c32c06,#c22b06,#c12b06,#c12b06)"></i>
<i style="background:linear-gradient(90deg,#4671e5,#4671e5,#4672e8,#4675ec,#4677ed,#447bed,#427eec,#4182ea,#3f87e9,#3c8be8,#3a8fe7,#3993e6,#3797e5,#359be4,#32a0e2,#30a5e1,#2cacdf,#29b4dd,#24bdda,#1fc8d7,#20d2ce,#2cdabd,#38e2aa,#45ea97,#51f284,#5cf974,#67fb69,#73f963,#7ef75e,#87f659,#91f454,#9cf24f,#a7f04a,#b2ee44,#bdec3f,#c8ea3a,#d1e935,#d5e434,#d8de34,#dcd833,#e0d032,#e5c832,#eabf31,#f0b530,#f5ab2f,#faa22e,#fe9a2d,#fa9129,#f78926,#f58224,#f37d21,#f17920,#f0751f,#ef731e,#ee701d,#ed6e1c,#ec6b1a,#eb6719,#e96317,#e75e15,#e55813,#e35211,#e14b0e,#de450c,#dc3f09,#da3a07,#d83707,#d53607,#d43507,#d23407,#d13406,#cf3306,#ce3206,#cb3106,#c92f06,#c72e06,#c52d06,#c32c06,#c22c06,#c12b06,#c12b06)"></i>
<i style="background:linear-gradient(90deg,#4570e4,#4570e4,#4672e7,#4674eb,#4677ee,#457aed,#437dec,#4181eb,#3f85ea,#3d89e9,#3b8de7,#3991e6,#3895e5,#3699e4,#339ee3,#30a4e1,#2daadf,#2ab2dd,#25bcda,#20c7d7,#1ed1d0,#2ad9bf,#36e1ac,#43e999,#4ff187,#5af777,#64fc6b,#70fa65,#7af860,#84f65b,#8df556,#98f351,#a3f14c,#afef46,#baed41,#c4eb3c,#cdea37,#d3e634,#d7e134,#dada33,#ded333,#e3cb32,#e8c231,#eeb830,#f3ae2f,#f9a52e,#fe9d2e,#fb932a,#f88b27,#f68424,#f37e22,#f27a20,#f0761f,#ef731e,#ee711d,#ed6e1c,#ec6b1b,#eb6719,#e96318,#e85f16,#e65914,#e35311,#e14c0f,#df460c,#dc400a,#db3b08,#d83807,#d63707,#d43607,#d33507,#d23406,#d03306,#ce3206,#cc3106,#ca3006,#c82f06,#c62e06,#c42d06,#c32c06,#c22b06,#c12b06)"></i>
<i style="background:linear-gradient(90deg,#456fe2,#4570e3,#4671e6,#4673e9,#4776ee,#4579ed,#447cec,#4280eb,#4084ea,#3e88e9,#3c8be8,#3a8fe7,#3893e6,#3698e5,#349ce3,#31a2e2,#2ea9e0,#2ab0de,#26badb,#21c5d8,#1dd0d3,#28d8c2,#35e0af,#41e89c,#4def8b,#57f67b,#60fc6d,#6cfa67,#76f962,#80f75d,#8af558,#94f353,#9ff14d,#abef48,#b6ee43,#c0ec3e,#c9ea39,#d1e935,#d5e434,#d8dd34,#ddd633,#e1ce32,#e7c531,#ecbb30,#f2b130,#f7a82f,#fc9f2e,#fc962c,#f98e28,#f68625,#f48023,#f27b21,#f1771f,#f0741e,#ef711d,#ee6e1c,#ec6b1b,#eb6819,#ea6418,#e85f16,#e65a14,#e45412,#e14e0f,#df470d,#dd410a,#db3c08,#da3807,#d73707,#d53607,#d43507,#d23406,#d03306,#ce3206,#cc3106,#ca3006,#c82f06,#c62e06,#c52d06,#c32c06,#c22c06,#c12b06)"></i>
<i style="background:linear-gradient(90deg,#456ee1,#456fe2,#4570e4,#4672e8,#4675ed,#4678ed,#447bec,#427feb,#4182ea,#3f86e9,#3d8ae8,#3b8ee7,#3992e6,#3796e5,#359be4,#32a0e2,#2fa7e0,#2bafde,#27b8db,#21c3d8,#1bd0d5,#27d7c4,#33deb2,#3fe6a0,#4bee8e,#55f47e,#5efa71,#68fb69,#72f964,#7cf85f,#86f65a,#90f455,#9cf24f,#a7f04a,#b1ee45,#bbed40,#c4eb3b,#cdea37,#d3e734,#d7e034,#dbd933,#e0d132,#e5c832,#eabe31,#f0b430,#f5ab2f,#faa22e,#fe9a2d,#fa9129,#f78926,#f58324,#f37d22,#f17920,#f0751f,#ef721d,#ee6f1c,#ed6c1b,#eb681a,#ea6518,#e86016,#e65b14,#e45512,#e24f10,#e0490d,#dd430b,#dc3d09,#da3a07,#d83807,#d63607,#d43507,#d33507,#d13406,#cf3306,#cd3206,#cb3006,#c92f06,#c72e06,#c52d06,#c42d06,#c32c06,#c22b06)"></i>
<i style="background:linear-gradient(90deg,#456ddf,#456ee0,#456fe3,#4671e6,#4674eb,#4677ee,#447aed,#437eec,#4181eb,#3f85ea,#3e89e9,#3c8ce8,#3a90e7,#3894e5,#3699e4,#339fe2,#30a5e1,#2cadde,#27b6dc,#22c1d9,#1cced5,#25d6c7,#31ddb5,#3de5a3,#48ec92,#52f383,#5bf875,#63fc6b,#6efa66,#78f861,#82f75c,#8df557,#98f351,#a3f14c,#adef47,#b7ed42,#c0ec3e,#c8ea3a,#d1e935,#d5e334,#d9dc34,#ded433,#e3cb32,#e9c131,#eeb830,#f3ae2f,#f8a62e,#fd9e2e,#fc952b,#f98d28,#f68625,#f48023,#f27b21,#f1771f,#ef731e,#ee701c,#ed6c1b,#ec691a,#ea6518,#e96117,#e75c15,#e55713,#e25010,#e04a0e,#de440b,#dc3f09,#db3b08,#d93807,#d73707,#d53607,#d33507,#d13406,#cf3306,#ce3206,#cc3106,#ca3006,#c82f06,#c62e06,#c52d06,#c42c06,#c22c06)"></i>
<i style="background:linear-gradient(90deg,#446cdc,#456dde,#456ee1,#4571e5,#4673e9,#4676ee,#4579ed,#437dec,#4280eb,#4084ea,#3e87e9,#3c8be8,#3b8fe7,#3993e6,#3698e4,#349de3,#30a4e1,#2dacdf,#28b5dc,#23c0d9,#1dccd6,#23d4c9,#2fdcb8,#3ae3a7,#45ea96,#4ff187,#58f67a,#60fb6e,#6afb68,#74f963,#7ef75e,#89f559,#94f453,#9ef24e,#a9f049,#b2ee44,#bbed40,#c3eb3c,#ccea38,#d3e634,#d7df34,#dcd733,#e1ce32,#e7c531,#ecbb30,#f1b230,#f6a92f,#fba12e,#fd992d,#fa9129,#f88926,#f58324,#f37d22,#f17920,#f0741e,#ee711d,#ed6d1b,#ec6a1a,#eb6619,#e96217,#e75d15,#e55813,#e35211,#e14c0e,#df460c,#dd410a,#db3c08,#da3907,#d83707,#d63607,#d43507,#d23406,#d03306,#ce3206,#cc3106,#cb3006,#c92f06,#c72e06,#c62e06,#c42d06,#c32c06)"></i>
<i style="background:linear-gradient(90deg,#446bda,#446cdc,#456ddf,#4570e3,#4672e8,#4775ed,#4578ed,#447cec,#427feb,#4083ea,#3f86e9,#3d8ae8,#3b8de7,#3991e6,#3796e5,#349ce3,#31a2e1,#2daadf,#29b3dd,#24beda,#1ecad6,#21d3cc,#2cdabb,#37e1ab,#42e89b,#4cef8c,#55f47e,#5df973,#65fc6a,#70fa65,#7af860,#85f65b,#8ff455,#9af250,#a4f14b,#adef47,#b6ee42,#bfec3e,#c7eb3a,#d1e935,#d6e234,#dada33,#dfd133,#e5c832,#eabf31,#efb530,#f4ad2f,#f9a52e,#fd9d2e,#fc952b,#f98d28,#f68625,#f48023,#f27b21,#f0761f,#ef721d,#ed6e1c,#ec6a1a,#eb6719,#e96317,#e85f16,#e65914,#e45311,#e14d0f,#df480d,#dd420b,#dc3e09,#da3b08,#d93807,#d73707,#d53607,#d33507,#d13406,#cf3306,#cd3206,#cc3106,#ca3006,#c82f06,#c72e06,#c52d06,#c42d06)"></i>
<i style="background:linear-gradient(90deg,#4469d7,#446ad9,#446cdd,#456fe1,#4671e6,#4674ec,#4678ed,#447bec,#427eec,#4182eb,#3f85ea,#3e89e9,#3c8ce8,#3a90e7,#3895e5,#359ae4,#32a1e2,#2ea9e0,#2ab2dd,#25bcda,#1fc8d7,#1fd2cf,#2ad9bf,#35e0af,#3fe69f,#49ed91,#52f283,#5af777,#61fc6d,#6cfa67,#76f962,#81f75d,#8bf557,#95f352,#9ff24e,#a8f049,#b1ee45,#baed41,#c3eb3c,#ccea38,#d4e534,#d8dd34,#ded533,#e3cb32,#e8c231,#edb930,#f2b12f,#f7a92f,#fba12e,#fe9a2d,#fb922a,#f88a27,#f58324,#f37d22,#f1771f,#ef731e,#ee6f1c,#ec6b1b,#eb6819,#ea6418,#e86016,#e65b14,#e45512,#e24f10,#e0490d,#de440b,#dc400a,#db3c08,#da3907,#d83707,#d53607,#d33507,#d23406,#d03306,#ce3206,#cd3106,#cb3006,#ca3006,#c82f06,#c62e06,#c52d06)"></i>
<i style="background:linear-gradient(90deg,#4368d5,#4469d7,#446bdb,#456ddf,#4570e4,#4674ea,#4677ee,#447aed,#437eec,#4181eb,#4084ea,#3e87e9,#3c8be8,#3b8fe7,#3893e6,#3699e4,#339fe2,#2fa7e0,#2ab0de,#25bbdb,#20c6d8,#1ed1d2,#28d7c2,#32deb3,#3ce4a4,#46ea96,#4ef088,#56f57c,#5efa71,#67fb69,#72f964,#7df75f,#87f65a,#91f455,#9af250,#a3f14c,#acef47,#b5ee43,#beec3f,#c8ea3a,#d2e935,#d7e034,#dcd833,#e1cf32,#e6c631,#ebbd31,#f0b530,#f4ad2f,#f9a52e,#fd9e2e,#fc962b,#f98e28,#f68625,#f47f22,#f27920,#f0741e,#ee701c,#ed6c1b,#eb691a,#ea6518,#e96117,#e75c15,#e55713,#e35110,#e14b0e,#df460c,#dd410a,#dc3d09,#da3a07,#d93807,#d63707,#d43507,#d23407,#d13406,#cf3306,#ce3206,#cc3106,#cb3006,#c92f06,#c82f06,#c62e06)"></i>
<i style="background:linear-gradient(90deg,#4366d2,#4368d5,#446ad8,#456cdd,#456fe2,#4673e8,#4676ee,#4579ed,#437dec,#4280eb,#4083ea,#3f86e9,#3d8ae8,#3b8de7,#3992e6,#3797e5,#339ee3,#30a6e1,#2bafde,#26b9db,#21c4d8,#1cd0d4,#25d6c6,#2fdcb8,#39e2a9,#42e89b,#4bee8e,#53f381,#5bf875,#63fc6b,#6efa66,#79f861,#83f65c,#8cf557,#95f352,#9ef24e,#a7f04a,#b0ef45,#b9ed41,#c3eb3c,#cee937,#d5e434,#dadb33,#dfd233,#e4c932,#e9c131,#eeb930,#f2b12f,#f6a92f,#faa22e,#fe9b2d,#fb922a,#f88a27,#f58223,#f27b21,#f0751f,#ee711d,#ed6d1b,#ec6a1a,#eb6619,#e96217,#e75e15,#e55813,#e35311,#e14d0f,#df480d,#de430b,#dc3f09,#db3b08,#da3807,#d73707,#d53607,#d33507,#d23406,#d03306,#cf3206,#cd3206,#cc3106,#ca3006,#c92f06,#c72e06)"></i>
<i style="background:linear-gradient(90deg,#4364cf,#4366d2,#4468d6,#446bdb,#456ee1,#4672e7,#4775ed,#4579ed,#447cec,#427feb,#4082ea,#3f85ea,#3e88e9,#3c8ce8,#3a90e7,#3795e5,#349ce3,#30a4e1,#2cadde,#27b7dc,#22c2d9,#1ccdd6,#23d4ca,#2cdabc,#35e0ae,#3ee6a1,#47ec93,#50f186,#58f67a,#60fb6f,#6afb68,#75f963,#7ef75e,#87f659,#90f455,#99f351,#a2f14c,#abef48,#b4ee43,#beec3e,#c9ea39,#d3e735,#d8de34,#ddd633,#e2cd32,#e7c531,#ebbc31,#f0b530,#f4ad2f,#f8a62e,#fc9f2e,#fc962b,#f98d28,#f68424,#f37d22,#f1761f,#ef721d,#ed6e1c,#ec6a1a,#eb6719,#ea6418,#e85f16,#e65a14,#e45512,#e24f10,#e04a0e,#de450c,#dd410a,#db3d09,#da3a07,#d83807,#d63607,#d43507,#d23507,#d13406,#d03306,#ce3206,#cd3206,#cc3106,#ca3006,#c82f06)"></i>
<i style="background:linear-gradient(90deg,#4263cc,#4365cf,#4367d4,#446ad9,#456ddf,#4671e5,#4674ec,#4678ed,#447bec,#427feb,#4182eb,#4084ea,#3e87e9,#3d8ae8,#3b8fe7,#3894e6,#359be4,#31a3e1,#2dacdf,#28b5dc,#23c0d9,#1ecbd6,#20d3ce,#29d8c1,#32deb3,#3be3a6,#43e999,#4cef8c,#55f47f,#5df973,#66fb6a,#70fa65,#7af860,#83f65c,#8bf557,#94f353,#9df24f,#a6f04a,#afef46,#baed41,#c5eb3b,#d0e936,#d6e234,#dbd933,#e0d132,#e5c832,#e9c031,#edb930,#f2b130,#f6aa2f,#faa22e,#fe9a2d,#fa9029,#f78725,#f47f22,#f17820,#ef731e,#ee6f1c,#ec6b1b,#eb681a,#ea6518,#e86116,#e75c15,#e55612,#e35110,#e14c0e,#df470c,#dd420b,#dc3e09,#db3b08,#d93807,#d73707,#d53607,#d33507,#d23406,#d13406,#d03306,#ce3206,#cd3106,#cb3106,#c92f06)"></i>
<i style="background:linear-gradient(90deg,#4261ca,#4363cd,#4366d1,#4469d7,#446cdd,#4570e3,#4673ea,#4677ee,#447aed,#437eec,#4181eb,#4083ea,#3f86e9,#3d89e9,#3b8de7,#3992e6,#3699e4,#32a1e2,#2eaadf,#29b4dd,#24beda,#1fc8d7,#1dd1d2,#26d6c5,#2edbb9,#37e1ac,#40e79e,#49ec91,#51f284,#5af777,#61fc6c,#6cfa67,#75f962,#7ef75e,#86f65a,#8ff456,#97f351,#a1f14d,#abf048,#b5ee43,#c0ec3d,#ccea38,#d4e534,#d9dc34,#ded433,#e2cc32,#e7c431,#ebbc31,#f0b530,#f4ad2f,#f8a52e,#fd9d2e,#fb932a,#f88926,#f48123,#f27920,#f0741e,#ee701c,#ed6c1b,#ec691a,#ea6619,#e96217,#e75d15,#e55813,#e35311,#e14e0f,#e0490d,#de440b,#dc400a,#db3c08,#da3907,#d83707,#d63607,#d43607,#d33507,#d23406,#d13406,#cf3306,#ce3206,#cc3106,#ca3006)"></i>
<i style="background:linear-gradient(90deg,#4260c7,#4262ca,#4365cf,#4368d5,#446bdb,#456fe1,#4672e8,#4676ee,#457aed,#437dec,#4280eb,#4182ea,#3f85ea,#3e88e9,#3c8be8,#3a91e6,#3797e5,#339fe2,#2ea8e0,#2ab1dd,#25bbdb,#21c5d8,#1ccfd5,#22d4ca,#2ad9be,#33dfb2,#3ce4a4,#45ea96,#4ef089,#57f57c,#5efa70,#67fb69,#71fa64,#79f860,#81f75c,#8af558,#92f454,#9cf24f,#a6f04a,#b0ef45,#bced40,#c7eb3a,#d2e835,#d7e034,#dcd733,#e0cf32,#e5c832,#e9c031,#eeb830,#f2b12f,#f7a92f,#fca02e,#fc962b,#f88c27,#f58224,#f27b21,#f0751e,#ee711d,#ed6d1b,#ec6a1a,#eb6719,#e96318,#e85f16,#e65a14,#e45512,#e24f10,#e04a0e,#df460c,#dd410a,#dc3d09,#da3a07,#d93807,#d73707,#d53607,#d43507,#d33507,#d23406,#d03306,#cf3306,#cd3206,#cb3106)"></i>
<i style="background:linear-gradient(90deg,#415fc5,#4261c8,#4363cd,#4366d2,#446ad9,#456edf,#4671e6,#4775ed,#4579ed,#447cec,#427eec,#4181eb,#4083ea,#3f86e9,#3d8ae8,#3b8fe7,#3795e5,#349de3,#2fa6e0,#2bafde,#26b9db,#22c2d9,#1ecbd6,#1fd2cf,#27d7c4,#2fdcb7,#38e2aa,#41e89c,#4bee8e,#53f381,#5bf875,#63fc6b,#6cfa67,#74f963,#7cf85f,#85f65b,#8df556,#97f352,#a1f14d,#acef47,#b7ed42,#c3eb3c,#cee936,#d5e334,#dadb33,#dfd333,#e3cb32,#e7c331,#ecbc30,#f0b430,#f5ab2f,#faa22e,#fd992d,#f98e28,#f68424,#f37c21,#f0761f,#ef721d,#ee6e1c,#ec6b1b,#eb681a,#ea6518,#e86016,#e75b14,#e55612,#e35110,#e14c0e,#df470d,#de430b,#dc3f09,#db3b08,#da3907,#d83807,#d63707,#d53607,#d43507,#d33507,#d13406,#d03306,#ce3206,#cc3106)"></i>
<i style="background:linear-gradient(90deg,#415dc2,#425fc6,#4262cb,#4365d0,#4469d7,#456cdd,#4570e4,#4674eb,#4677ed,#447aed,#437dec,#427feb,#4182eb,#3f85ea,#3e88e9,#3b8de7,#3894e6,#359be3,#30a4e1,#2caddf,#28b6dc,#23bfda,#1fc7d7,#1cd0d4,#23d5c9,#2bdabd,#34dfb0,#3ee5a1,#47ec93,#50f186,#58f779,#5ffb6f,#67fb69,#70fa65,#78f861,#80f75d,#89f559,#92f454,#9cf24f,#a7f04a,#b2ee44,#beec3e,#caea39,#d3e634,#d8de34,#ddd633,#e1ce32,#e6c631,#eabe31,#efb630,#f4ae2f,#f9a52e,#fe9b2d,#fa9029,#f68625,#f37d22,#f1771f,#ef731d,#ee6f1c,#ed6c1b,#ec691a,#ea6619,#e96217,#e75d15,#e55813,#e35311,#e24e0f,#e0490d,#de440b,#dd400a,#db3d08,#da3a07,#d93807,#d73707,#d63607,#d53607,#d33507,#d23407,#d13406,#cf3306,#cd3206)"></i>
<i style="background:linear-gradient(90deg,#415cc0,#415ec4,#4261c9,#4364ce,#4367d4,#446bdb,#456fe2,#4673e8,#4676ee,#4579ed,#447cec,#437eec,#4280eb,#4083ea,#3f86e9,#3c8be8,#3992e6,#3699e4,#31a2e2,#2daadf,#29b3dd,#25bbdb,#21c3d8,#1dccd6,#20d2cf,#27d7c3,#30ddb5,#3ae3a7,#44e999,#4def8b,#55f47e,#5cf974,#63fc6b,#6bfb67,#73f963,#7bf85f,#84f65b,#8ef556,#98f351,#a3f14c,#aeef46,#baed41,#c5eb3b,#d1e935,#d6e134,#dbd933,#e0d132,#e4c932,#e9c131,#eeb930,#f3b02f,#f8a62f,#fd9d2e,#fb922a,#f78726,#f37e22,#f17820,#ef731e,#ee701d,#ed6d1b,#ec6b1a,#eb6719,#e96317,#e85e16,#e65a14,#e45512,#e25010,#e04b0e,#df460c,#dd420a,#dc3e09,#db3b08,#da3907,#d83807,#d73707,#d53607,#d43507,#d33507,#d23406,#d03306,#ce3206)"></i>
<i style="background:linear-gradient(90deg,#415bbf,#415dc2,#4260c7,#4263cc,#4366d2,#446ad9,#456ddf,#4671e6,#4675ec,#4678ed,#457aed,#437cec,#427feb,#4181eb,#3f85ea,#3d89e8,#3a90e7,#3797e5,#339fe2,#2fa8e0,#2bb0de,#27b8db,#23c0d9,#1fc8d7,#1cd0d4,#24d5c8,#2ddbbb,#36e1ad,#40e79e,#49ed90,#52f283,#59f778,#5ffb6f,#66fb6a,#6efa66,#77f962,#7ff75d,#89f559,#93f454,#9ef24e,#a9f049,#b5ee43,#c1ec3d,#cdea37,#d5e434,#dadb33,#ded333,#e3cb32,#e8c331,#edba30,#f2b130,#f7a82f,#fd9e2e,#fb932a,#f78826,#f48023,#f17920,#f0741e,#ef711d,#ee6e1c,#ec6c1b,#eb6819,#ea6418,#e86016,#e65b14,#e55612,#e35110,#e14c0f,#df480d,#de430b,#dc400a,#db3d08,#da3a07,#d93807,#d73707,#d63707,#d53607,#d43507,#d23407,#d13406,#cf3306)"></i>
<i style="background:linear-gradient(90deg,#415bbd,#415cc1,#425fc5,#4262ca,#4365d0,#4468d6,#446cdc,#456fe3,#4673e9,#4776ee,#4578ed,#447bed,#437dec,#427feb,#4083ea,#3e87e9,#3b8de7,#3895e5,#349de3,#30a5e1,#2caddf,#28b4dc,#25bcda,#21c3d8,#1dccd6,#20d2ce,#29d8c1,#32deb2,#3ce5a4,#46eb95,#4ef088,#56f57d,#5cf974,#62fc6c,#6afb68,#72f964,#7bf85f,#85f65b,#8ff456,#9af250,#a5f14b,#b1ee45,#bdec3f,#c9ea39,#d3e634,#d8de34,#ddd533,#e2cd32,#e7c431,#ecbb30,#f1b230,#f7a92f,#fc9f2e,#fb942b,#f78926,#f48123,#f27a20,#f0751f,#ef721d,#ee6f1c,#ed6c1b,#ec691a,#ea6518,#e96117,#e75c15,#e55813,#e35311,#e24e0f,#e0490d,#de450c,#dd410a,#dc3e09,#db3b08,#da3907,#d83807,#d73707,#d53607,#d43507,#d33507,#d13406,#d03306)"></i>
<i style="background:linear-gradient(90deg,#405abc,#415cbf,#415ec3,#4261c8,#4364ce,#4367d4,#446ada,#456edf,#4671e5,#4674eb,#4676ee,#4579ed,#447bed,#437dec,#4181eb,#3f85ea,#3c8be8,#3992e6,#359ae4,#31a2e2,#2eaadf,#2ab1dd,#27b8dc,#23bfd9,#1fc7d7,#1cd0d3,#25d6c6,#2fdcb8,#39e2a9,#42e89b,#4bee8e,#52f382,#59f779,#5ffa70,#65fb6a,#6efa66,#77f861,#80f75d,#8af558,#95f353,#a0f14d,#acef47,#b9ed41,#c5eb3b,#d2e935,#d7e034,#dcd733,#e1ce32,#e6c531,#ebbc31,#f1b330,#f6a92f,#fc9f2e,#fc952b,#f88a27,#f58223,#f27b21,#f1761f,#ef731e,#ee701d,#ed6d1b,#ec6a1a,#eb6619,#e96217,#e75e15,#e65913,#e45412,#e24f10,#e04b0e,#df470c,#dd430b,#dc3f09,#db3c08,#da3a07,#d93807,#d73707,#d63607,#d43607,#d33507,#d23406,#d13306)"></i>
<i style="background:linear-gradient(90deg,#4059bb,#415bbe,#415dc2,#4260c6,#4263cc,#4366d1,#4469d7,#446cdc,#456fe2,#4672e7,#4674ec,#4677ee,#4579ed,#447cec,#427feb,#4083ea,#3d89e9,#3a90e7,#3697e5,#339fe2,#2fa6e0,#2caddf,#29b4dd,#25bbdb,#22c3d8,#1dccd6,#21d3cc,#2bd9be,#35e0af,#3ee6a0,#47ec93,#4ff187,#56f57d,#5cf974,#61fc6c,#6afb68,#73f963,#7cf85f,#86f65a,#91f455,#9cf24f,#a8f049,#b5ee43,#c2ec3d,#cfe936,#d6e234,#dbd833,#e1cf32,#e6c631,#ebbd31,#f1b330,#f6a92f,#fca02e,#fc952b,#f88b27,#f58224,#f37c21,#f1771f,#f0741e,#ef711d,#ed6e1c,#ec6b1b,#eb6719,#e96317,#e85f16,#e65a14,#e45612,#e35110,#e14c0f,#df480d,#de440b,#dd410a,#dc3e09,#db3b08,#da3907,#d83707,#d63707,#d53607,#d33507,#d23406,#d13406)"></i>
<i style="background:linear-gradient(90deg,#4059ba,#415abd,#415cc0,#425fc5,#4261c9,#4364ce,#4367d4,#446ad9,#456dde,#4570e3,#4672e8,#4675ec,#4677ee,#457aed,#437dec,#4181eb,#3e87e9,#3b8de7,#3894e5,#349ce3,#31a3e1,#2ea9e0,#2bb0de,#27b7dc,#24beda,#1fc8d7,#1ed1d1,#27d7c3,#31ddb5,#3be3a6,#44e999,#4bee8d,#52f382,#59f779,#5ffb70,#66fb6a,#6ffa65,#78f861,#82f75c,#8cf557,#98f351,#a4f14b,#b1ee45,#beec3e,#ccea38,#d5e334,#dbd933,#e0d032,#e6c631,#ebbd31,#f1b330,#f6a92f,#fca02e,#fc962b,#f88c27,#f58324,#f37d22,#f17820,#f0751e,#ef721d,#ee6f1c,#ed6c1b,#eb6819,#ea6418,#e86016,#e75b14,#e55713,#e35211,#e24e0f,#e04a0e,#df460c,#dd420b,#dc3f09,#db3c08,#da3907,#d83807,#d63707,#d53607,#d33507,#d23507,#d23406)"></i>
<i style="background:linear-gradient(90deg,#4058b9,#405abc,#415cbf,#415ec3,#4260c7,#4263cc,#4365d0,#4468d5,#446bda,#456ddf,#4570e3,#4672e8,#4675ec,#4678ed,#447bec,#427feb,#3f85ea,#3c8be8,#3991e6,#3698e4,#339fe2,#30a5e1,#2dacdf,#29b2dd,#26badb,#21c3d8,#1cced5,#23d5c9,#2ddbba,#37e1ac,#40e79e,#48ec92,#4ff187,#56f57d,#5cf974,#62fc6c,#6bfa67,#74f963,#7ef75e,#88f559,#93f453,#a0f14d,#adef47,#bbed40,#c9ea39,#d4e434,#dada33,#e0d032,#e6c631,#ebbc31,#f1b230,#f7a92f,#fc9f2e,#fc962b,#f88c27,#f68424,#f37e22,#f27920,#f0761f,#ef731e,#ee701c,#ed6c1b,#ec691a,#ea6518,#e96117,#e75d15,#e55813,#e45412,#e25010,#e14b0e,#df470d,#de440b,#dd400a,#db3d09,#da3a07,#d93807,#d73707,#d53607,#d43507,#d33507,#d23407)"></i>
<i style="background:linear-gradient(90deg,#4058b9,#4059bb,#415bbe,#415dc1,#425fc5,#4261c9,#4364cd,#4366d2,#4468d6,#446bdb,#456ddf,#4570e4,#4673e8,#4776ee,#4579ed,#437dec,#4182ea,#3e88e9,#3b8fe7,#3895e5,#349be3,#32a2e2,#2fa8e0,#2baede,#28b6dc,#24bfda,#1ec9d7,#1fd2cf,#29d8c0,#33deb2,#3ce4a4,#44ea97,#4cef8c,#53f381,#59f778,#5ffb6f,#68fb69,#71fa64,#7af860,#84f65b,#8ff455,#9cf24f,#a9f049,#b8ed42,#c7eb3a,#d4e634,#dadb33,#e0d032,#e6c631,#ecbc30,#f1b230,#f7a82f,#fc9f2e,#fc962b,#f98c28,#f68525,#f47f22,#f27a21,#f1771f,#ef741e,#ee701d,#ed6d1b,#ec6a1a,#ea6619,#e96217,#e75e15,#e65a14,#e45512,#e35110,#e14d0f,#e0490d,#de450c,#dd420a,#dc3e09,#db3b08,#d93807,#d73707,#d53607,#d43507,#d33507,#d33507)"></i>
<i style="background:linear-gradient(90deg,#4058b8,#4059ba,#415abd,#415cc0,#415ec3,#4260c6,#4262ca,#4364ce,#4366d2,#4469d7,#446bdb,#456edf,#4570e4,#4673ea,#4677ee,#447bec,#4280eb,#3f86e9,#3c8ce8,#3992e6,#3698e4,#339ee3,#30a4e1,#2daadf,#2ab2dd,#26badb,#21c4d8,#1cd0d4,#25d6c6,#2fdcb8,#38e2aa,#41e79d,#49ed91,#50f186,#57f67b,#5dfa72,#64fc6b,#6dfa66,#76f962,#80f75d,#8bf557,#98f351,#a6f04a,#b5ee43,#c5eb3b,#d3e734,#dadb33,#e0d032,#e6c531,#ecbb30,#f2b12f,#f7a72f,#fc9f2e,#fc952b,#f98d28,#f68525,#f48023,#f27b21,#f1781f,#f0741e,#ef711d,#ed6e1c,#ec6a1a,#eb6719,#e96317,#e85f16,#e65b14,#e55713,#e35311,#e24f10,#e04b0e,#df470c,#de430b,#dc3f09,#db3c08,#da3907,#d73707,#d53607,#d43507,#d33507,#d33507)"></i>
<i style="background:linear-gradient(90deg,#4058b8,#4059ba,#405abc,#415bbe,#415dc1,#415ec4,#4260c7,#4262cb,#4364ce,#4366d2,#4469d7,#446bdb,#456ee0,#4671e6,#4675ed,#4579ed,#437eec,#4083ea,#3d89e9,#3b8fe7,#3894e5,#359ae4,#32a0e2,#2fa6e0,#2cadde,#28b6dc,#23c0d9,#1ecbd6,#21d3cc,#2bd9be,#34dfb0,#3de5a3,#45ea96,#4def8a,#55f47f,#5bf875,#61fc6c,#6afb68,#73f963,#7df75f,#88f659,#94f353,#a3f14c,#b2ee44,#c3eb3c,#d3e735,#d9dc33,#e0d032,#e7c531,#edba30,#f3af2f,#f8a62e,#fd9e2e,#fc952b,#f98d28,#f68625,#f48123,#f37c21,#f17820,#f0751e,#ef721d,#ee6f1c,#ec6b1b,#eb6719,#ea6418,#e86016,#e75c15,#e55813,#e45412,#e35010,#e14c0f,#e0480d,#de440b,#dd400a,#db3c08,#da3907,#d83707,#d53607,#d43507,#d33507,#d43507)"></i>
<i style="background:linear-gradient(90deg,#4058b8,#4059ba,#4059bb,#415abd,#415cbf,#415dc1,#415ec4,#4260c7,#4262ca,#4364ce,#4366d2,#4469d7,#446cdc,#456fe2,#4673e9,#4677ee,#447cec,#4181eb,#3f86e9,#3c8be8,#3a91e6,#3796e5,#349ce3,#31a2e2,#2ea9e0,#2ab2dd,#25bbdb,#20c6d8,#1dd1d2,#26d7c4,#30ddb6,#39e3a8,#42e89b,#4aee8e,#52f383,#59f778,#5ffb6f,#67fb69,#6ffa65,#79f860,#84f65b,#91f455,#a0f14d,#b0ef45,#c1ec3d,#d2e835,#d9dc33,#e0cf32,#e7c431,#eeb830,#f4ae2f,#f9a52e,#fd9d2e,#fc952b,#f98d28,#f68725,#f58123,#f37d22,#f27920,#f0761f,#ef731e,#ee6f1c,#ed6c1b,#eb6819,#ea6418,#e96117,#e75d15,#e65a14,#e55612,#e35211,#e24e0f,#e04a0e,#df460c,#dd410a,#db3d09,#da3a07,#d83807,#d63607,#d43507,#d43507,#d43507)"></i>
<i style="background:linear-gradient(90deg,#4058b8,#4058b9,#4059ba,#405abc,#415bbd,#415cbf,#415dc1,#415ec4,#4260c7,#4262ca,#4364ce,#4367d3,#446ad8,#456dde,#4671e5,#4775ed,#457aed,#437eec,#4083ea,#3e88e9,#3b8de7,#3993e6,#3698e4,#339ee3,#30a5e1,#2cadde,#27b7dc,#22c1d9,#1dcdd6,#22d4cb,#2cdabc,#35e0ae,#3fe6a0,#48ec93,#50f186,#57f67b,#5dfa72,#64fc6b,#6cfa67,#76f962,#81f75d,#8ef556,#9df24f,#aeef46,#c0ec3e,#d2e835,#dadb33,#e1cf32,#e8c231,#eeb730,#f4ad2f,#f9a42e,#fe9c2e,#fb942b,#f98d28,#f78726,#f58224,#f37e22,#f27a20,#f1771f,#ef731e,#ee701c,#ed6c1b,#eb691a,#ea6518,#e96217,#e85e16,#e65b14,#e55713,#e45411,#e25010,#e14b0e,#df470c,#dd420b,#dc3e09,#da3a08,#d83807,#d63607,#d43607,#d43507,#d53607)"></i>
<i style="background:linear-gradient(90deg,#4058b8,#4058b9,#4059ba,#4059bb,#405abc,#415abd,#415bbe,#415cc0,#415ec3,#4260c6,#4262ca,#4364cf,#4368d5,#446bdb,#456fe2,#4673e9,#4677ed,#447cec,#4280eb,#3f85ea,#3d8ae8,#3a8fe7,#3895e5,#359be4,#32a1e2,#2ea9e0,#29b2dd,#25bcda,#1fc7d7,#1ed1d1,#28d7c3,#31deb4,#3be4a5,#45ea97,#4df08a,#55f47e,#5bf875,#61fc6d,#69fb68,#72f964,#7df75e,#8bf558,#9af250,#acef47,#bfec3e,#d2e935,#dadb33,#e1ce32,#e9c131,#efb530,#f5ab2f,#faa22e,#fe9b2d,#fb932a,#f98d28,#f78826,#f58324,#f47f22,#f27b21,#f1771f,#f0741e,#ee701d,#ed6d1b,#ec691a,#ea6619,#e96317,#e85f16,#e75c15,#e65913,#e45512,#e35110,#e14d0f,#e0480d,#de440b,#dc3f09,#db3b08,#d93807,#d63707,#d43607,#d43507,#d53607)"></i>
<i style="background:linear-gradient(90deg,#4058b9,#4058b9,#4058b9,#4059ba,#4059ba,#4059bb,#405abc,#415bbd,#415cbf,#415dc2,#4260c6,#4262cb,#4366d1,#4469d8,#456ddf,#4671e6,#4776ee,#457aed,#437eec,#4182eb,#3e87e9,#3c8ce8,#3991e6,#3797e5,#339ee3,#30a5e1,#2caede,#27b8dc,#22c2d9,#1cced5,#23d5c9,#2edbba,#38e2aa,#42e89b,#4bee8d,#53f381,#5af778,#5ffb6f,#66fb6a,#6ffa65,#7af860,#88f559,#98f351,#aaf048,#beec3f,#d2e935,#dadb33,#e2cd32,#e9c031,#f0b430,#f6a92f,#fba12e,#fd9a2d,#fb932a,#f98d28,#f78826,#f58424,#f48023,#f37c21,#f17820,#f0751e,#ef711d,#ed6d1c,#ec6a1a,#eb6719,#ea6318,#e86016,#e75d15,#e65a14,#e55713,#e35311,#e24e0f,#e04a0e,#de450c,#dd400a,#db3c08,#d93807,#d63707,#d53607,#d43607,#d53607)"></i>
<i style="background:linear-gradient(90deg,#4058b9,#4058b9,#4058b9,#4058b9,#4058b9,#4058b9,#4058b9,#4059ba,#405abc,#415cbf,#415ec3,#4260c8,#4364ce,#4367d4,#446bdc,#456fe3,#4674ea,#4677ed,#447bec,#427feb,#4084ea,#3e88e9,#3b8ee7,#3893e6,#359ae4,#32a1e2,#2eaadf,#29b3dd,#24bdda,#1fc8d7,#1fd2cf,#2ad9c0,#34e0af,#3fe6a0,#49ed91,#51f284,#58f67a,#5dfa72,#64fc6b,#6dfa66,#78f861,#86f65a,#96f352,#a9f049,#bdec3f,#d2e935,#dada33,#e2cc32,#eabe31,#f1b230,#f7a72f,#fc9f2e,#fd982c,#fb922a,#f98d28,#f78926,#f68525,#f48123,#f37d21,#f17920,#f0751f,#ef721d,#ed6e1c,#ec6b1a,#eb6719,#ea6418,#e96117,#e85f16,#e75c15,#e55813,#e45412,#e25010,#e14b0e,#df460c,#dd410a,#db3d08,#da3907,#d73707,#d53607,#d53607,#d63607)"></i>
<i style="background:linear-gradient(90deg,#4058b9,#4058b9,#4058b9,#4058b8,#4057b7,#4057b7,#4057b7,#4057b8,#4058b9,#405abc,#415cbf,#415fc4,#4262cb,#4366d1,#446ad9,#456ee0,#4672e7,#4775ed,#4579ed,#437cec,#4181eb,#3f85ea,#3d8ae8,#3a90e7,#3796e5,#339de3,#30a5e1,#2caede,#27b8dc,#22c3d8,#1ccfd5,#26d6c5,#31ddb5,#3ce4a4,#46eb94,#4ff187,#56f57d,#5cf974,#61fc6c,#6afb68,#75f962,#83f65b,#94f353,#a8f04a,#bcec3f,#d2e935,#dbda33,#e3cb32,#ebbd31,#f2b02f,#f8a62e,#fd9e2e,#fc972c,#fa9129,#f98d28,#f78926,#f68525,#f58123,#f37e22,#f27a20,#f0761f,#ef721d,#ee6f1c,#ec6b1b,#eb6819,#ea6518,#e96317,#e86016,#e75d15,#e65a14,#e55612,#e35111,#e14c0f,#df470d,#dd420b,#dc3e09,#da3a07,#d83707,#d63607,#d53607,#d63707)"></i>
<i style="background:linear-gradient(90deg,#4059ba,#4058b9,#4058b8,#4057b7,#4057b6,#4056b5,#4056b5,#4056b5,#4057b6,#4058b9,#405abc,#415dc1,#4260c8,#4364cf,#4468d6,#456cdd,#4570e3,#4673ea,#4677ee,#457aed,#437eec,#4182ea,#3e87e9,#3c8de8,#3993e6,#359ae4,#32a1e2,#2ea9e0,#29b2dd,#24bdda,#1ecad7,#22d4cb,#2ddbba,#39e3a8,#44ea98,#4df08a,#55f47f,#5af876,#60fb6e,#68fb69,#73f963,#82f75c,#93f454,#a7f04a,#bced3f,#d2e835,#dbd933,#e4c932,#ecbb30,#f3ae2f,#f9a42e,#fe9c2e,#fc952b,#fa9029,#f98d28,#f88926,#f68625,#f58224,#f37e22,#f27a21,#f1771f,#ef731e,#ee6f1c,#ed6c1b,#ec691a,#eb6619,#ea6418,#e96117,#e85e16,#e65b14,#e55713,#e35311,#e24e0f,#e0490d,#de440b,#dc3f09,#da3b08,#d83807,#d63707,#d63607,#d73707)"></i>
<i style="background:linear-gradient(90deg,#4059ba,#4059ba,#4058b8,#4057b7,#4056b5,#3f56b4,#3f55b3,#3f55b3,#3f55b4,#4057b6,#4059ba,#415bbf,#425fc5,#4263cc,#4367d4,#446bdb,#456ee1,#4671e6,#4675ec,#4678ed,#447bec,#427feb,#4084ea,#3d8ae8,#3a90e7,#3796e5,#349de3,#30a4e1,#2cadde,#27b8dc,#21c4d8,#1ed1d1,#2ad9bf,#36e1ac,#42e89b,#4cee8c,#53f381,#59f778,#5efa70,#66fb6a,#71f964,#80f75d,#92f454,#a6f04a,#bced40,#d2e835,#dcd833,#e5c832,#edba30,#f4ad2f,#faa22e,#fe9b2d,#fb942b,#fa9029,#f98d28,#f88a27,#f68725,#f58324,#f47f22,#f27b21,#f1771f,#ef741e,#ee701d,#ed6d1b,#ec6a1a,#eb6719,#ea6518,#e96217,#e85f16,#e75c15,#e65913,#e45412,#e24f10,#e04a0e,#de450c,#dc400a,#db3c08,#d93807,#d73707,#d63707,#d73707)"></i>
<i style="background:linear-gradient(90deg,#4059ba,#4059ba,#4058b8,#4057b7,#4056b5,#3f55b3,#3f54b2,#3f54b1,#3f54b2,#3f55b4,#4057b7,#405abc,#415ec3,#4262ca,#4366d2,#446ad8,#456dde,#4570e3,#4673e8,#4776ee,#4579ed,#437dec,#4181eb,#3e87e9,#3c8ce8,#3992e6,#3699e4,#32a0e2,#2ea8e0,#29b2dd,#24bfda,#1ccdd5,#27d7c4,#33dfb1,#40e79f,#4aed8f,#52f283,#58f67a,#5dfa72,#64fc6b,#70fa65,#7ff75e,#91f455,#a6f04b,#bcec3f,#d3e835,#dcd733,#e5c732,#eeb830,#f5ab2f,#fba12e,#fd992d,#fb932a,#fa8f29,#f98d28,#f88a27,#f78726,#f58424,#f48023,#f37c21,#f17820,#f0741e,#ee711d,#ed6e1c,#ec6b1a,#eb6819,#ea6618,#e96317,#e86116,#e75e15,#e65a14,#e45612,#e35110,#e14b0e,#df460c,#dd410a,#db3d09,#da3907,#d83807,#d73707,#d83707)"></i>
<i style="background:linear-gradient(90deg,#4059bb,#4059ba,#4058b9,#4057b7,#3f56b4,#3f54b2,#3f54b1,#3f53b0,#3f53b0,#3f54b2,#4056b5,#4059ba,#415dc1,#4261c8,#4365d0,#4469d6,#446cdc,#456ee1,#4671e5,#4674ea,#4677ee,#447bed,#427feb,#4084ea,#3d89e9,#3b8fe7,#3894e5,#359be4,#31a3e1,#2caddf,#26b9db,#1fc8d7,#23d4c9,#31ddb5,#3de5a2,#48ec92,#50f185,#57f67c,#5cf973,#63fc6b,#6ffa65,#7ef75e,#90f455,#a5f04b,#bcec3f,#d3e735,#ddd633,#e6c631,#efb730,#f6aa2f,#fc9f2e,#fd972c,#fb922a,#f98f28,#f98c28,#f88b27,#f78826,#f68525,#f48123,#f37d22,#f17920,#f0751f,#ef721d,#ee6f1c,#ed6c1b,#ec691a,#eb6719,#ea6418,#e96217,#e85f16,#e65b14,#e55713,#e35211,#e14d0f,#df480d,#de430b,#dc3e09,#db3b08,#d93807,#d83807,#d83807)"></i>
<i style="background:linear-gradient(90deg,#405abb,#4059bb,#4058b9,#4057b7,#3f56b4,#3f54b2,#3f53b0,#3f53af,#3f53af,#3f53b0,#3f55b4,#4058b9,#415cc0,#4260c7,#4364ce,#4468d5,#446bda,#456ddf,#456fe3,#4672e7,#4675ed,#4578ed,#437dec,#4181eb,#3f86e9,#3c8be8,#3a90e6,#3796e5,#339ee3,#2fa7e0,#29b4dd,#21c3d8,#20d2cf,#2edbba,#3be4a6,#46eb95,#4ff187,#56f57d,#5cf975,#62fc6c,#6efa66,#7df75e,#90f455,#a6f04a,#bdec3f,#d3e634,#ddd533,#e6c531,#efb630,#f7a82f,#fd9e2e,#fc962b,#fa9129,#f98e28,#f98c28,#f88b27,#f78926,#f68525,#f58223,#f37e22,#f27a20,#f0761f,#ef731d,#ee6f1c,#ed6d1b,#ec6a1a,#eb6819,#ea6518,#e96317,#e86016,#e75c15,#e55813,#e45311,#e24e0f,#e0490d,#de450c,#dd400a,#db3c08,#da3a07,#d93807,#d93807)"></i>
<i style="background:linear-gradient(90deg,#405abc,#4059bb,#4058b9,#4057b7,#3f56b4,#3f54b2,#3f53b0,#3f52ae,#3f52ae,#3f53b0,#3f55b3,#4058b8,#415bbf,#4260c6,#4364cd,#4367d4,#446ad9,#456cdd,#456ee1,#4571e5,#4673ea,#4677ee,#447aed,#427feb,#4083ea,#3e88e9,#3c8ce8,#3992e6,#3699e4,#31a2e2,#2baede,#24beda,#1cd0d4,#2bd9be,#39e2a9,#45ea97,#4ef089,#55f47f,#5bf876,#61fc6c,#6dfa66,#7df75e,#90f455,#a6f04a,#beec3f,#d4e634,#ded533,#e7c431,#f0b430,#f7a72f,#fd9d2e,#fc952b,#fa9029,#f98e28,#f98c28,#f88b27,#f78926,#f68625,#f58224,#f37e22,#f27a21,#f1771f,#ef731e,#ee701d,#ed6e1c,#ec6b1b,#eb691a,#eb6619,#ea6418,#e96117,#e75d15,#e65914,#e45512,#e25010,#e14b0e,#df460c,#dd420b,#dc3e09,#db3b08,#da3907,#d93807)"></i>
<i style="background:linear-gradient(90deg,#405abc,#405abb,#4059ba,#4057b7,#3f56b4,#3f54b2,#3f53b0,#3f52ae,#3f52ae,#3f53af,#3f55b2,#4057b7,#415bbe,#425fc5,#4363cd,#4367d3,#4469d8,#446cdc,#456edf,#4570e3,#4672e7,#4775ed,#4579ed,#437cec,#4180eb,#4084ea,#3e88e9,#3b8de7,#3894e6,#349de3,#2ea9e0,#26b9db,#1dccd6,#28d7c2,#36e1ad,#43e99a,#4cef8b,#54f480,#5af876,#61fc6d,#6dfa66,#7ef75e,#91f455,#a7f04a,#bfec3e,#d4e534,#ded433,#e8c331,#f0b430,#f8a62f,#fe9c2e,#fb942b,#fa9029,#f98d28,#f98d28,#f88c27,#f88a27,#f78725,#f58324,#f47f22,#f27b21,#f17820,#f0741e,#ef711d,#ee6f1c,#ed6c1b,#ec6a1a,#eb6719,#ea6418,#e96217,#e85e16,#e65a14,#e55612,#e35211,#e14d0f,#e0490d,#de440b,#dd400a,#db3d09,#da3b08,#da3907)"></i>
<i style="background:linear-gradient(90deg,#405abc,#405abc,#4059ba,#4058b8,#4056b5,#3f55b2,#3f53b0,#3f52af,#3f52ae,#3f53af,#3f55b2,#4057b8,#415bbe,#425fc5,#4263cc,#4367d3,#4469d8,#446bdb,#456ddf,#456fe2,#4671e6,#4674eb,#4677ee,#447aed,#437eec,#4181eb,#3f85ea,#3d89e9,#3b8fe7,#3697e5,#30a4e1,#29b4dd,#1fc7d7,#25d5c7,#34dfb0,#41e89c,#4bee8d,#53f381,#5af877,#61fc6d,#6efa66,#7ef75e,#92f454,#a8f049,#c0ec3e,#d5e434,#ded333,#e8c231,#f1b330,#f8a62e,#fe9c2e,#fb942a,#fa8f29,#f98d28,#f98d28,#f88c27,#f88a27,#f78726,#f58424,#f48023,#f37c21,#f17920,#f0761f,#ef731e,#ee701c,#ed6d1b,#ec6b1a,#eb6819,#ea6518,#e96217,#e85f16,#e75b14,#e55813,#e45311,#e24f10,#e04b0e,#df470c,#de430b,#dc3f09,#db3c08,#da3a07)"></i>
<i style="background:linear-gradient(90deg,#415abd,#405abc,#4059bb,#4058b8,#4056b6,#3f55b3,#3f54b1,#3f53b0,#3f53af,#3f53b0,#3f55b3,#4058b8,#415bbf,#425fc6,#4363cd,#4367d3,#4469d8,#446bdb,#456ddf,#456fe2,#4671e5,#4673e9,#4776ee,#4578ed,#447bec,#437eec,#4181eb,#4084ea,#3d8ae8,#3992e6,#339ee3,#2bafde,#21c3d8,#22d4cb,#31deb4,#3fe69f,#4aed8f,#52f382,#5af777,#61fc6c,#6ffa65,#7ff75d,#93f454,#a9f049,#c1ec3d,#d5e334,#dfd233,#e8c231,#f1b230,#f9a52e,#fe9b2d,#fb932a,#fa8f29,#f98e28,#f98d28,#f98c28,#f88b27,#f78826,#f68525,#f48123,#f37d22,#f27a20,#f1771f,#f0741e,#ef711d,#ee6e1c,#ed6c1b,#ec691a,#ea6619,#e96317,#e86016,#e75c15,#e65913,#e45512,#e35111,#e14d0f,#e04a0d,#df460c,#dd420a,#dc3e09,#da3b08)"></i>
</div>
<svg id="ov" width="1100" height="1050" viewBox="0 0 1100 1050">
<g stroke="#cccccc" stroke-width="1.7" fill="none" opacity="0.85">
<path d="M140 150V950M640 150V950M100 650H900"/>
</g>
<defs><clipPath id="mc"><rect x="99" y="149" width="802.6" height="802.6"/></clipPath></defs><g clip-path="url(#mc)"><path d="M101.5 349.5L122.2 336.0M303.7 348.2L328.4 335.9M504.2 348.7L546.2 340.9M706.3 349.5L765.0 347.9M100.2 548.8L113.6 533.0M302.5 547.5L321.9 529.8M503.6 547.8L540.7 530.1M706.3 548.6L761.1 539.7M100.5 747.3L105.6 735.6M300.7 747.7L312.3 727.2M502.6 747.5L530.3 721.1M705.3 747.5Q733.3 733.3 751.2 728.2M100.0 947.0L100.7 936.2M300.2 947.6L305.2 928.1M501.5 946.6L516.7 921.9M703.6 947.3L735.0 928.0" fill="none" stroke="#000" stroke-width="1.60" stroke-linecap="round"/><path d="M132.8 329.1L117.7 332.9L123.3 341.4ZM339.8 330.3L324.4 332.3L328.9 341.4ZM558.7 338.6L543.3 336.3L545.2 346.3ZM777.7 347.6L762.9 342.9L763.1 353.1ZM121.8 523.3L108.4 531.2L116.2 537.8ZM331.3 521.3L317.0 527.4L323.9 535.0ZM552.2 524.6L536.7 526.3L541.1 535.5ZM773.6 537.7L758.3 535.0L759.9 545.1ZM110.7 724.0L100.1 735.4L109.5 739.5ZM318.6 716.1L306.9 726.4L315.8 731.4ZM539.5 712.3L525.3 718.8L532.4 726.1ZM763.4 724.7L747.9 723.8L750.7 733.6ZM101.5 923.5L95.5 937.8L105.7 938.5ZM308.4 915.8L299.8 928.8L309.7 931.3ZM523.3 911.1L511.3 921.0L520.0 926.3ZM745.8 921.4L730.6 924.7L735.9 933.4Z" fill="#000"/></g>
<rect x="100.40" y="150.20" width="800.00" height="800.10" fill="none" stroke="#000" stroke-width="2.50"/>
<path d="M140 148.95v-6.20M140 951.55v6.20M190 148.95v-2.70M190 951.55v2.70M240 148.95v-2.70M240 951.55v2.70M290 148.95v-2.70M290 951.55v2.70M340 148.95v-2.70M340 951.55v2.70M390 148.95v-2.70M390 951.55v2.70M440 148.95v-2.70M440 951.55v2.70M490 148.95v-2.70M490 951.55v2.70M540 148.95v-2.70M540 951.55v2.70M590 148.95v-2.70M590 951.55v2.70M640 148.95v-6.20M640 951.55v6.20M690 148.95v-2.70M690 951.55v2.70M740 148.95v-2.70M740 951.55v2.70M790 148.95v-2.70M790 951.55v2.70M840 148.95v-2.70M840 951.55v2.70M890 148.95v-2.70M890 951.55v2.70M99.15 150h-6.20M901.65 150h6.20M99.15 200h-2.70M901.65 200h2.70M99.15 250h-2.70M901.65 250h2.70M99.15 300h-2.70M901.65 300h2.70M99.15 350h-2.70M901.65 350h2.70M99.15 400h-2.70M901.65 400h2.70M99.15 450h-2.70M901.65 450h2.70M99.15 500h-2.70M901.65 500h2.70M99.15 550h-2.70M901.65 550h2.70M99.15 600h-2.70M901.65 600h2.70M99.15 650h-6.20M901.65 650h6.20M99.15 700h-2.70M901.65 700h2.70M99.15 750h-2.70M901.65 750h2.70M99.15 800h-2.70M901.65 800h2.70M99.15 850h-2.70M901.65 850h2.70M99.15 900h-2.70M901.65 900h2.70M99.15 950h-2.70M901.65 950h2.70" stroke="#000" stroke-width="1.3" fill="none"/>
<g font-family='"Liberation Sans",Arial,Helvetica,sans-serif' font-size="10.9" fill="#000">
<text x="140" y="135.3" font-size="11.1" text-anchor="middle">−89°05'15"</text>
<text x="140" y="973.3" font-size="11.1" text-anchor="middle">−89°05'15"</text>
<text x="640" y="135.3" font-size="11.1" text-anchor="middle">−89°04'30"</text>
<text x="640" y="973.3" font-size="11.1" text-anchor="middle">−89°04'30"</text>
<text x="84.2" y="154.0" text-anchor="end">30°16'30"</text>
<text x="914.9" y="154.0">30°16'30"</text>
<text x="84.2" y="654.0" text-anchor="end">30°15'45"</text>
<text x="914.9" y="654.0">30°15'45"</text>
</g>
<rect x="582" y="40" width="312.9" height="39.85" fill="#fff" stroke="#000" stroke-width="1.8"/>
<g font-family='"Liberation Sans",Arial,Helvetica,sans-serif' font-weight="bold" fill="#000">
<text x="499.6" y="30.2" font-size="19.4" text-anchor="middle">Mississippi Sound, Gulfport</text>
<text x="499.6" y="1045.0" font-size="19.4" text-anchor="middle">Mississippi Sound, Gulfport</text>
<text x="130.4" y="50.0" font-size="13.8">USM Instrumentation</text>
<text x="585.9" y="54.7" font-size="12.3">0.25 kts</text>
<text x="585.9" y="64.6" font-size="12.3">0.50 kts</text>
<text x="585.9" y="74.5" font-size="12.3">0.75 kts</text>
<text x="582.4" y="93.7" font-size="11.2">CURRENTS Vectors</text>
<text transform="translate(1055.2 550.0) rotate(-90)" font-size="13.9" text-anchor="middle">Salinity (psu)</text>
</g>
<g font-family='"Liberation Serif","Times New Roman",Times,serif' font-weight="bold" fill="#000">
<text x="500" y="114.9" font-size="18.13" text-anchor="middle">Salinity at 13 Feet FORECAST valid Mar 20 2025 03:00Z</text>
<text x="855.6" y="109.8" font-size="13.9" text-anchor="middle">Gulf of Mexico</text>
</g>
<circle cx="120.3" cy="45.3" r="6.4" fill="#fff" stroke="#000" stroke-width="2"/>
<path d="M803.4 50.4H880" stroke="#000" stroke-width="0.9" fill="none"/>
<path d="M893 50.4L878.2 45.4V55.4Z" fill="#000"/>
<path d="M723.0 60.3H880" stroke="#000" stroke-width="0.9" fill="none"/>
<path d="M893 60.3L878.2 55.3V65.3Z" fill="#000"/>
<path d="M641.7 70.2H880" stroke="#000" stroke-width="0.9" fill="none"/>
<path d="M893 70.2L878.2 65.2V75.2Z" fill="#000"/>
<circle cx="437.2" cy="710.1" r="6.5" fill="#fff" stroke="#000" stroke-width="2.1"/>
<defs><linearGradient id="cb" x1="0" y1="1" x2="0" y2="0">
<stop offset="0.0000" stop-color="#30123b"/>
<stop offset="0.1429" stop-color="#4776ee"/>
<stop offset="0.2857" stop-color="#1bd0d5"/>
<stop offset="0.4286" stop-color="#61fc6c"/>
<stop offset="0.5714" stop-color="#d2e935"/>
<stop offset="0.7143" stop-color="#fe9b2d"/>
<stop offset="0.8571" stop-color="#da3907"/>
<stop offset="1.0000" stop-color="#7a0403"/>
</linearGradient></defs>
<rect x="980.1" y="400" width="20.5" height="300" fill="url(#cb)" stroke="#000" stroke-width="2.5" stroke-linejoin="round"/>
<path d="M979.6 400.00H1000.6M979.6 442.86H1000.6M979.6 485.71H1000.6M979.6 528.57H1000.6M979.6 571.43H1000.6M979.6 614.29H1000.6M979.6 657.14H1000.6M979.6 700.00H1000.6" stroke="#c6c6c6" stroke-width="1.5" fill="none" opacity="0.85"/>
<path d="M1001.8 400.00H1008.4M1001.8 442.86H1008.4M1001.8 485.71H1008.4M1001.8 528.57H1008.4M1001.8 571.43H1008.4M1001.8 614.29H1008.4M1001.8 657.14H1008.4M1001.8 700.00H1008.4" stroke="#000" stroke-width="1.3" fill="none"/>
<g font-family='"Liberation Sans",Arial,Helvetica,sans-serif' font-size="10.7" fill="#000" text-anchor="end">
<text x="1027.3" y="404.0">28</text>
<text x="1027.3" y="446.9">24</text>
<text x="1027.3" y="489.7">20</text>
<text x="1027.3" y="532.6">16</text>
<text x="1027.3" y="575.4">12</text>
<text x="1027.3" y="618.3">8</text>
<text x="1027.3" y="661.1">4</text>
<text x="1027.3" y="704.0">0</text>
</g>
</svg>
</div></body></html>
